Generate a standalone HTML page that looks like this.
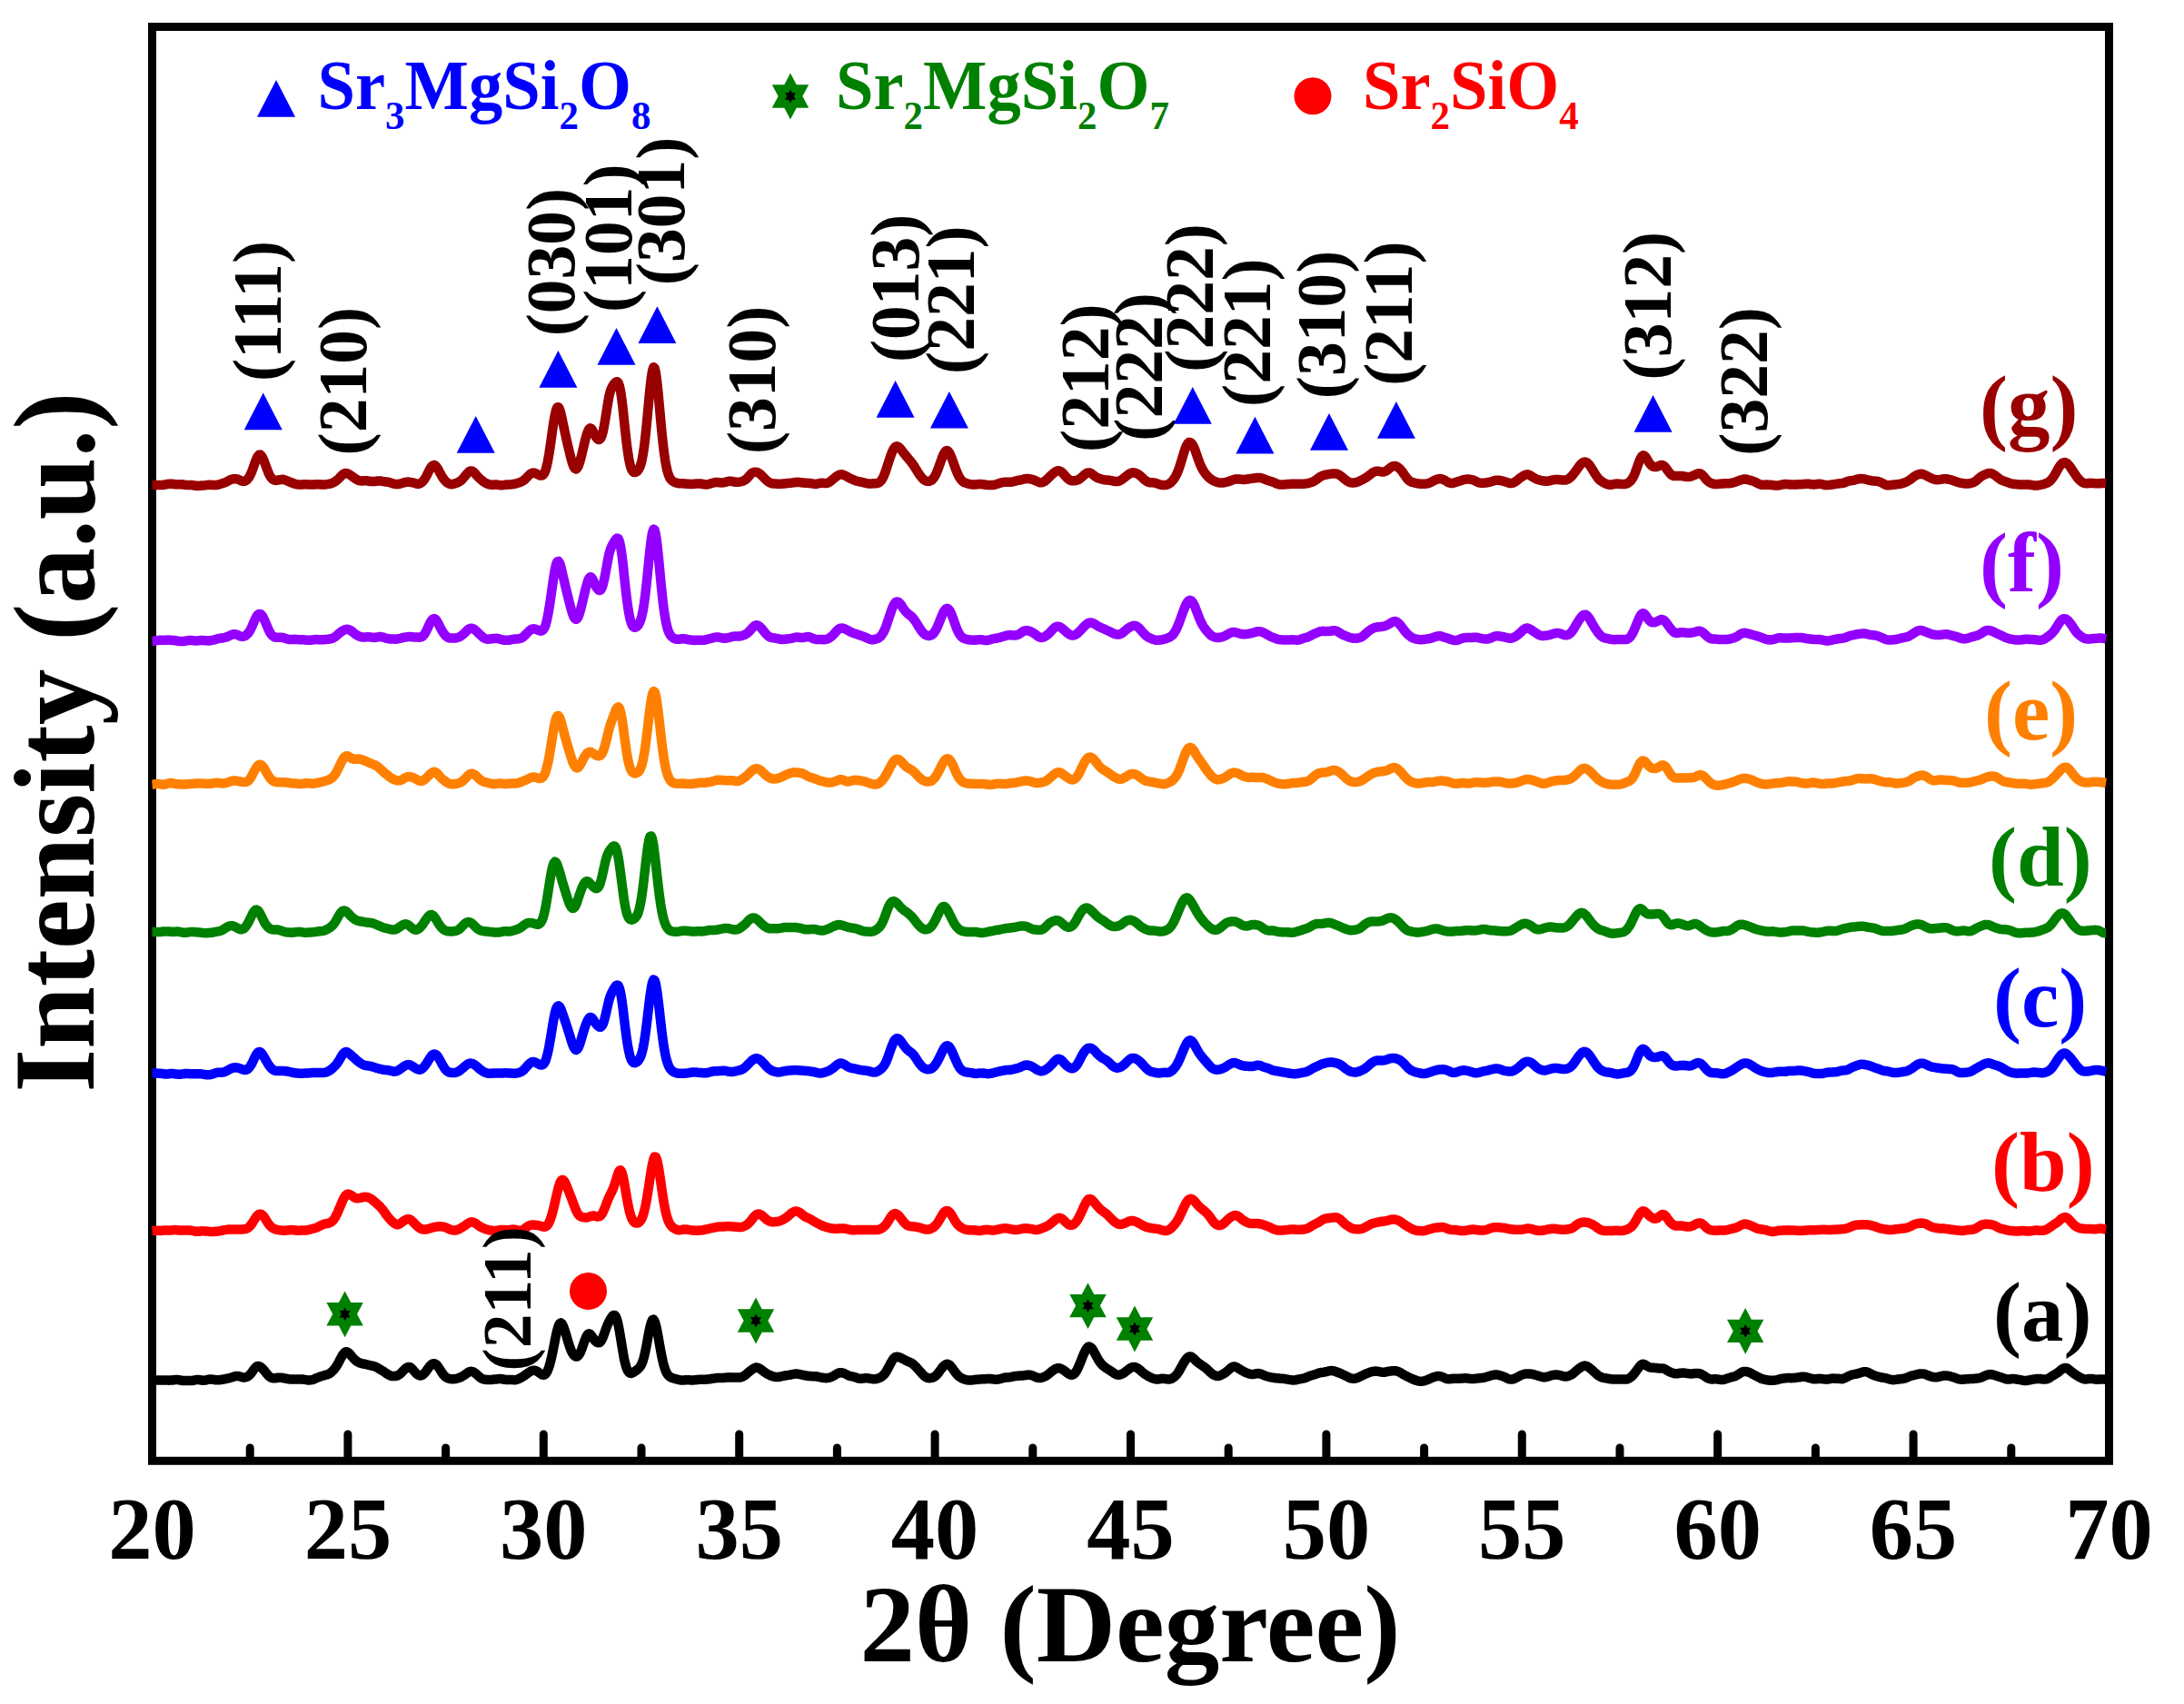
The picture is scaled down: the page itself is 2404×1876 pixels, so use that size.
<!DOCTYPE html><html><head><meta charset="utf-8"><title>XRD patterns</title><style>html,body{margin:0;padding:0;background:#fff}svg{display:block}text{font-family:"Liberation Serif",serif;font-weight:bold}</style></head><body>
<svg width="2404" height="1876" viewBox="0 0 2404 1876">
<rect width="2404" height="1876" fill="#fff"/>
<g stroke="#000" stroke-width="9" stroke-linecap="round"><line x1="275.2" y1="1606" x2="275.2" y2="1594.0"/><line x1="382.9" y1="1606" x2="382.9" y2="1579.0"/><line x1="490.6" y1="1606" x2="490.6" y2="1594.0"/><line x1="598.3" y1="1606" x2="598.3" y2="1579.0"/><line x1="706.0" y1="1606" x2="706.0" y2="1594.0"/><line x1="813.7" y1="1606" x2="813.7" y2="1579.0"/><line x1="921.4" y1="1606" x2="921.4" y2="1594.0"/><line x1="1029.1" y1="1606" x2="1029.1" y2="1579.0"/><line x1="1136.8" y1="1606" x2="1136.8" y2="1594.0"/><line x1="1244.5" y1="1606" x2="1244.5" y2="1579.0"/><line x1="1352.2" y1="1606" x2="1352.2" y2="1594.0"/><line x1="1459.9" y1="1606" x2="1459.9" y2="1579.0"/><line x1="1567.6" y1="1606" x2="1567.6" y2="1594.0"/><line x1="1675.3" y1="1606" x2="1675.3" y2="1579.0"/><line x1="1783.0" y1="1606" x2="1783.0" y2="1594.0"/><line x1="1890.7" y1="1606" x2="1890.7" y2="1579.0"/><line x1="1998.4" y1="1606" x2="1998.4" y2="1594.0"/><line x1="2106.1" y1="1606" x2="2106.1" y2="1579.0"/><line x1="2213.8" y1="1606" x2="2213.8" y2="1594.0"/></g>
<rect x="167.5" y="29.5" width="2154.0" height="1578.8" fill="none" stroke="#000" stroke-width="9"/>
<path d="M167.5,1519.0 L168.8,1519.1 L170.1,1519.2 L171.4,1519.4 L172.7,1519.5 L174.0,1519.6 L175.3,1519.6 L176.5,1519.6 L177.8,1519.5 L179.1,1519.5 L180.4,1519.5 L181.7,1519.5 L183.0,1519.6 L184.3,1519.6 L185.6,1519.7 L186.9,1519.6 L188.2,1519.6 L189.5,1519.5 L190.8,1519.3 L192.1,1519.2 L193.3,1519.1 L194.6,1519.0 L195.9,1519.1 L197.2,1519.3 L198.5,1519.5 L199.8,1519.8 L201.1,1520.0 L202.4,1520.1 L203.7,1520.1 L205.0,1520.1 L206.3,1520.0 L207.6,1520.1 L208.9,1520.1 L210.1,1520.1 L211.4,1520.0 L212.7,1519.8 L214.0,1519.5 L215.3,1519.2 L216.6,1519.0 L217.9,1518.9 L219.2,1519.0 L220.5,1519.3 L221.8,1519.5 L223.1,1519.7 L224.4,1519.7 L225.7,1519.6 L227.0,1519.3 L228.2,1519.0 L229.5,1518.7 L230.8,1518.5 L232.1,1518.5 L233.4,1518.6 L234.7,1518.8 L236.0,1519.0 L237.3,1519.2 L238.6,1519.3 L239.9,1519.3 L241.2,1519.2 L242.5,1519.0 L243.8,1518.9 L245.0,1518.7 L246.3,1518.5 L247.6,1518.2 L248.9,1518.0 L250.2,1517.7 L251.5,1517.4 L252.8,1517.1 L254.1,1516.7 L255.4,1516.3 L256.7,1515.8 L258.0,1515.4 L259.3,1515.0 L260.6,1514.9 L261.8,1515.0 L263.1,1515.2 L264.4,1515.6 L265.7,1516.0 L267.0,1516.4 L268.3,1516.6 L269.6,1516.5 L270.9,1516.2 L272.2,1515.7 L273.5,1514.8 L274.8,1513.7 L276.1,1512.3 L277.4,1510.6 L278.6,1508.8 L279.9,1507.1 L281.2,1505.6 L282.5,1504.5 L283.8,1504.0 L285.1,1504.1 L286.4,1504.6 L287.7,1505.6 L289.0,1506.8 L290.3,1508.3 L291.6,1509.9 L292.9,1511.5 L294.2,1513.0 L295.4,1514.5 L296.7,1515.6 L298.0,1516.5 L299.3,1517.0 L300.6,1517.3 L301.9,1517.3 L303.2,1517.2 L304.5,1517.0 L305.8,1516.8 L307.1,1516.8 L308.4,1516.8 L309.7,1516.8 L311.0,1517.0 L312.2,1517.2 L313.5,1517.5 L314.8,1517.7 L316.1,1518.0 L317.4,1518.2 L318.7,1518.4 L320.0,1518.5 L321.3,1518.5 L322.6,1518.6 L323.9,1518.6 L325.2,1518.6 L326.5,1518.5 L327.8,1518.5 L329.1,1518.4 L330.3,1518.4 L331.6,1518.4 L332.9,1518.5 L334.2,1518.7 L335.5,1518.9 L336.8,1519.1 L338.1,1519.3 L339.4,1519.4 L340.7,1519.4 L342.0,1519.3 L343.3,1519.1 L344.6,1518.8 L345.9,1518.3 L347.1,1517.7 L348.4,1517.1 L349.7,1516.6 L351.0,1516.1 L352.3,1515.6 L353.6,1515.2 L354.9,1514.8 L356.2,1514.4 L357.5,1514.0 L358.8,1513.6 L360.1,1513.3 L361.4,1512.8 L362.7,1512.1 L363.9,1511.3 L365.2,1510.2 L366.5,1509.0 L367.8,1507.6 L369.1,1505.9 L370.4,1504.0 L371.7,1501.8 L373.0,1499.4 L374.3,1496.8 L375.6,1494.4 L376.9,1492.1 L378.2,1490.3 L379.5,1488.9 L380.7,1488.3 L382.0,1488.3 L383.3,1489.0 L384.6,1490.2 L385.9,1491.7 L387.2,1493.2 L388.5,1494.8 L389.8,1496.2 L391.1,1497.4 L392.4,1498.5 L393.7,1499.3 L395.0,1500.0 L396.3,1500.5 L397.5,1501.0 L398.8,1501.3 L400.1,1501.5 L401.4,1501.7 L402.7,1502.0 L404.0,1502.3 L405.3,1502.7 L406.6,1503.1 L407.9,1503.3 L409.2,1503.6 L410.5,1503.8 L411.8,1504.1 L413.1,1504.6 L414.3,1505.2 L415.6,1505.9 L416.9,1506.7 L418.2,1507.5 L419.5,1508.3 L420.8,1509.0 L422.1,1509.8 L423.4,1510.7 L424.7,1511.6 L426.0,1512.5 L427.3,1513.3 L428.6,1514.0 L429.9,1514.5 L431.1,1514.9 L432.4,1515.0 L433.7,1515.1 L435.0,1515.0 L436.3,1514.8 L437.6,1514.4 L438.9,1513.7 L440.2,1512.8 L441.5,1511.6 L442.8,1510.3 L444.1,1508.9 L445.4,1507.6 L446.7,1506.4 L448.0,1505.5 L449.2,1505.0 L450.5,1505.0 L451.8,1505.5 L453.1,1506.5 L454.4,1507.9 L455.7,1509.4 L457.0,1510.9 L458.3,1512.2 L459.6,1513.3 L460.9,1514.0 L462.2,1514.4 L463.5,1514.4 L464.8,1513.9 L466.0,1513.0 L467.3,1511.8 L468.6,1510.2 L469.9,1508.4 L471.2,1506.6 L472.5,1504.8 L473.8,1503.3 L475.1,1502.1 L476.4,1501.4 L477.7,1501.2 L479.0,1501.5 L480.3,1502.4 L481.6,1503.8 L482.8,1505.5 L484.1,1507.5 L485.4,1509.6 L486.7,1511.6 L488.0,1513.4 L489.3,1514.9 L490.6,1516.0 L491.9,1516.9 L493.2,1517.4 L494.5,1517.8 L495.8,1518.1 L497.1,1518.2 L498.4,1518.3 L499.6,1518.2 L500.9,1518.1 L502.2,1517.8 L503.5,1517.5 L504.8,1517.1 L506.1,1516.7 L507.4,1516.1 L508.7,1515.4 L510.0,1514.6 L511.3,1513.8 L512.6,1512.9 L513.9,1511.9 L515.2,1511.0 L516.4,1510.3 L517.7,1509.9 L519.0,1509.8 L520.3,1510.1 L521.6,1510.7 L522.9,1511.6 L524.2,1512.7 L525.5,1513.9 L526.8,1515.1 L528.1,1516.2 L529.4,1517.1 L530.7,1517.8 L532.0,1518.3 L533.2,1518.6 L534.5,1518.8 L535.8,1518.9 L537.1,1518.9 L538.4,1519.0 L539.7,1518.9 L541.0,1518.9 L542.3,1518.8 L543.6,1518.6 L544.9,1518.5 L546.2,1518.4 L547.5,1518.3 L548.8,1518.1 L550.1,1518.1 L551.3,1518.1 L552.6,1518.3 L553.9,1518.5 L555.2,1518.7 L556.5,1518.9 L557.8,1519.0 L559.1,1518.9 L560.4,1518.9 L561.7,1518.9 L563.0,1519.0 L564.3,1519.1 L565.6,1519.2 L566.9,1519.2 L568.1,1519.1 L569.4,1518.7 L570.7,1518.2 L572.0,1517.6 L573.3,1516.9 L574.6,1516.2 L575.9,1515.3 L577.2,1514.5 L578.5,1513.5 L579.8,1512.6 L581.1,1511.6 L582.4,1510.7 L583.7,1509.9 L584.9,1509.3 L586.2,1508.9 L587.5,1508.7 L588.8,1508.8 L590.1,1509.2 L591.4,1509.9 L592.7,1510.8 L594.0,1511.7 L595.3,1512.7 L596.6,1513.4 L597.9,1513.8 L599.2,1513.6 L600.5,1512.7 L601.7,1511.1 L603.0,1508.5 L604.3,1505.0 L605.6,1500.6 L606.9,1495.3 L608.2,1489.3 L609.5,1482.8 L610.8,1476.2 L612.1,1469.8 L613.4,1464.2 L614.7,1459.9 L616.0,1457.2 L617.3,1456.4 L618.5,1457.3 L619.8,1459.7 L621.1,1463.1 L622.4,1467.1 L623.7,1471.5 L625.0,1476.0 L626.3,1480.2 L627.6,1484.0 L628.9,1487.3 L630.2,1489.9 L631.5,1491.8 L632.8,1493.0 L634.1,1493.5 L635.3,1493.4 L636.6,1492.5 L637.9,1490.7 L639.2,1488.1 L640.5,1484.8 L641.8,1481.1 L643.1,1477.3 L644.4,1473.8 L645.7,1470.9 L647.0,1469.0 L648.3,1468.2 L649.6,1468.8 L650.9,1470.2 L652.2,1472.1 L653.4,1474.0 L654.7,1475.7 L656.0,1477.0 L657.3,1477.9 L658.6,1478.3 L659.9,1478.1 L661.2,1476.9 L662.5,1474.9 L663.8,1472.0 L665.1,1468.4 L666.4,1464.7 L667.7,1461.2 L669.0,1458.0 L670.2,1455.3 L671.5,1452.9 L672.8,1450.8 L674.1,1449.0 L675.4,1448.0 L676.7,1448.0 L678.0,1449.7 L679.3,1453.3 L680.6,1458.7 L681.9,1465.6 L683.2,1473.4 L684.5,1481.4 L685.8,1489.1 L687.0,1496.0 L688.3,1501.6 L689.6,1506.0 L690.9,1509.0 L692.2,1510.9 L693.5,1511.8 L694.8,1511.9 L696.1,1511.5 L697.4,1510.8 L698.7,1509.9 L700.0,1509.0 L701.3,1508.0 L702.6,1507.0 L703.8,1505.7 L705.1,1503.9 L706.4,1501.5 L707.7,1498.1 L709.0,1493.6 L710.3,1488.0 L711.6,1481.4 L712.9,1474.3 L714.2,1467.3 L715.5,1461.0 L716.8,1456.1 L718.1,1453.2 L719.4,1452.7 L720.6,1454.7 L721.9,1458.8 L723.2,1464.7 L724.5,1471.6 L725.8,1479.1 L727.1,1486.4 L728.4,1493.2 L729.7,1499.2 L731.0,1504.2 L732.3,1508.2 L733.6,1511.2 L734.9,1513.3 L736.2,1514.8 L737.4,1515.8 L738.7,1516.5 L740.0,1517.0 L741.3,1517.4 L742.6,1517.8 L743.9,1518.1 L745.2,1518.5 L746.5,1518.9 L747.8,1519.2 L749.1,1519.5 L750.4,1519.6 L751.7,1519.5 L753.0,1519.4 L754.2,1519.3 L755.5,1519.2 L756.8,1519.2 L758.1,1519.3 L759.4,1519.3 L760.7,1519.4 L762.0,1519.4 L763.3,1519.4 L764.6,1519.3 L765.9,1519.2 L767.2,1519.0 L768.5,1518.9 L769.8,1518.8 L771.1,1518.8 L772.3,1518.8 L773.6,1518.7 L774.9,1518.7 L776.2,1518.7 L777.5,1518.6 L778.8,1518.5 L780.1,1518.4 L781.4,1518.2 L782.7,1518.0 L784.0,1517.8 L785.3,1517.6 L786.6,1517.4 L787.9,1517.2 L789.1,1517.0 L790.4,1516.9 L791.7,1516.9 L793.0,1516.9 L794.3,1517.0 L795.6,1516.9 L796.9,1516.9 L798.2,1516.7 L799.5,1516.6 L800.8,1516.4 L802.1,1516.4 L803.4,1516.3 L804.7,1516.4 L805.9,1516.4 L807.2,1516.5 L808.5,1516.6 L809.8,1516.6 L811.1,1516.6 L812.4,1516.6 L813.7,1516.5 L815.0,1516.4 L816.3,1516.0 L817.6,1515.5 L818.9,1514.8 L820.2,1514.0 L821.5,1512.9 L822.7,1511.8 L824.0,1510.7 L825.3,1509.6 L826.6,1508.6 L827.9,1507.7 L829.2,1506.8 L830.5,1506.1 L831.8,1505.6 L833.1,1505.5 L834.4,1505.8 L835.7,1506.4 L837.0,1507.2 L838.3,1508.1 L839.5,1509.1 L840.8,1510.1 L842.1,1511.0 L843.4,1511.9 L844.7,1512.6 L846.0,1513.3 L847.3,1514.0 L848.6,1514.5 L849.9,1515.0 L851.2,1515.4 L852.5,1515.8 L853.8,1516.0 L855.1,1516.1 L856.3,1516.0 L857.6,1515.8 L858.9,1515.6 L860.2,1515.3 L861.5,1515.0 L862.8,1514.7 L864.1,1514.5 L865.4,1514.3 L866.7,1514.1 L868.0,1513.9 L869.3,1513.7 L870.6,1513.5 L871.9,1513.2 L873.2,1512.9 L874.4,1512.7 L875.7,1512.6 L877.0,1512.6 L878.3,1512.7 L879.6,1512.9 L880.9,1513.2 L882.2,1513.5 L883.5,1513.8 L884.8,1514.0 L886.1,1514.3 L887.4,1514.5 L888.7,1514.7 L890.0,1514.9 L891.2,1515.0 L892.5,1515.1 L893.8,1515.2 L895.1,1515.2 L896.4,1515.2 L897.7,1515.3 L899.0,1515.5 L900.3,1515.7 L901.6,1516.0 L902.9,1516.3 L904.2,1516.6 L905.5,1516.8 L906.8,1517.0 L908.0,1517.1 L909.3,1517.2 L910.6,1517.1 L911.9,1516.9 L913.2,1516.6 L914.5,1516.2 L915.8,1515.7 L917.1,1515.0 L918.4,1514.2 L919.7,1513.4 L921.0,1512.6 L922.3,1512.0 L923.6,1511.5 L924.8,1511.3 L926.1,1511.2 L927.4,1511.4 L928.7,1511.8 L930.0,1512.3 L931.3,1513.0 L932.6,1513.7 L933.9,1514.3 L935.2,1514.8 L936.5,1515.1 L937.8,1515.4 L939.1,1515.6 L940.4,1515.9 L941.6,1516.3 L942.9,1516.8 L944.2,1517.3 L945.5,1517.6 L946.8,1517.8 L948.1,1517.8 L949.4,1517.6 L950.7,1517.4 L952.0,1517.3 L953.3,1517.2 L954.6,1517.3 L955.9,1517.4 L957.2,1517.7 L958.4,1517.9 L959.7,1518.1 L961.0,1518.3 L962.3,1518.3 L963.6,1518.2 L964.9,1518.0 L966.2,1517.7 L967.5,1517.2 L968.8,1516.6 L970.1,1515.9 L971.4,1514.9 L972.7,1513.7 L974.0,1512.2 L975.3,1510.3 L976.5,1508.2 L977.8,1505.8 L979.1,1503.3 L980.4,1500.8 L981.7,1498.5 L983.0,1496.5 L984.3,1495.0 L985.6,1494.1 L986.9,1493.7 L988.2,1493.8 L989.5,1494.1 L990.8,1494.6 L992.1,1495.2 L993.3,1495.8 L994.6,1496.5 L995.9,1497.2 L997.2,1497.9 L998.5,1498.5 L999.8,1499.1 L1001.1,1499.6 L1002.4,1500.2 L1003.7,1500.9 L1005.0,1501.8 L1006.3,1502.9 L1007.6,1504.2 L1008.9,1505.5 L1010.1,1507.0 L1011.4,1508.4 L1012.7,1509.9 L1014.0,1511.3 L1015.3,1512.8 L1016.6,1514.1 L1017.9,1515.3 L1019.2,1516.2 L1020.5,1516.8 L1021.8,1517.1 L1023.1,1517.2 L1024.4,1517.1 L1025.7,1516.9 L1026.9,1516.5 L1028.2,1515.9 L1029.5,1515.0 L1030.8,1513.9 L1032.1,1512.5 L1033.4,1510.8 L1034.7,1509.0 L1036.0,1507.2 L1037.3,1505.5 L1038.6,1504.0 L1039.9,1502.9 L1041.2,1502.1 L1042.5,1501.8 L1043.7,1502.0 L1045.0,1502.7 L1046.3,1503.9 L1047.6,1505.4 L1048.9,1507.2 L1050.2,1509.0 L1051.5,1510.9 L1052.8,1512.5 L1054.1,1513.9 L1055.4,1515.1 L1056.7,1516.1 L1058.0,1516.9 L1059.3,1517.6 L1060.5,1518.2 L1061.8,1518.7 L1063.1,1519.0 L1064.4,1519.3 L1065.7,1519.4 L1067.0,1519.5 L1068.3,1519.5 L1069.6,1519.4 L1070.9,1519.3 L1072.2,1519.1 L1073.5,1519.0 L1074.8,1518.8 L1076.1,1518.7 L1077.3,1518.6 L1078.6,1518.5 L1079.9,1518.4 L1081.2,1518.3 L1082.5,1518.3 L1083.8,1518.2 L1085.1,1518.2 L1086.4,1518.1 L1087.7,1518.0 L1089.0,1517.9 L1090.3,1518.0 L1091.6,1518.2 L1092.9,1518.4 L1094.2,1518.6 L1095.4,1518.7 L1096.7,1518.7 L1098.0,1518.6 L1099.3,1518.5 L1100.6,1518.2 L1101.9,1517.8 L1103.2,1517.4 L1104.5,1517.0 L1105.8,1516.7 L1107.1,1516.5 L1108.4,1516.4 L1109.7,1516.4 L1111.0,1516.3 L1112.2,1516.1 L1113.5,1515.8 L1114.8,1515.5 L1116.1,1515.3 L1117.4,1515.0 L1118.7,1514.9 L1120.0,1514.8 L1121.3,1514.7 L1122.6,1514.6 L1123.9,1514.5 L1125.2,1514.4 L1126.5,1514.4 L1127.8,1514.2 L1129.0,1514.0 L1130.3,1513.8 L1131.6,1513.7 L1132.9,1513.6 L1134.2,1513.8 L1135.5,1514.1 L1136.8,1514.6 L1138.1,1515.2 L1139.4,1515.8 L1140.7,1516.3 L1142.0,1516.7 L1143.3,1516.9 L1144.6,1517.0 L1145.8,1516.9 L1147.1,1516.6 L1148.4,1516.2 L1149.7,1515.7 L1151.0,1515.0 L1152.3,1514.2 L1153.6,1513.3 L1154.9,1512.2 L1156.2,1511.1 L1157.5,1510.0 L1158.8,1509.0 L1160.1,1508.1 L1161.4,1507.3 L1162.6,1506.7 L1163.9,1506.3 L1165.2,1506.2 L1166.5,1506.3 L1167.8,1506.8 L1169.1,1507.4 L1170.4,1508.2 L1171.7,1509.2 L1173.0,1510.2 L1174.3,1511.2 L1175.6,1512.1 L1176.9,1512.9 L1178.2,1513.5 L1179.4,1513.8 L1180.7,1513.6 L1182.0,1512.9 L1183.3,1511.7 L1184.6,1509.8 L1185.9,1507.5 L1187.2,1504.7 L1188.5,1501.6 L1189.8,1498.4 L1191.1,1495.1 L1192.4,1491.9 L1193.7,1489.0 L1195.0,1486.4 L1196.3,1484.3 L1197.5,1483.0 L1198.8,1482.5 L1200.1,1482.9 L1201.4,1484.0 L1202.7,1485.7 L1204.0,1487.9 L1205.3,1490.3 L1206.6,1492.7 L1207.9,1495.1 L1209.2,1497.3 L1210.5,1499.3 L1211.8,1501.0 L1213.1,1502.5 L1214.3,1503.7 L1215.6,1504.7 L1216.9,1505.7 L1218.2,1506.6 L1219.5,1507.4 L1220.8,1508.2 L1222.1,1509.0 L1223.4,1509.9 L1224.7,1510.8 L1226.0,1511.7 L1227.3,1512.5 L1228.6,1513.2 L1229.9,1513.6 L1231.1,1513.7 L1232.4,1513.6 L1233.7,1513.2 L1235.0,1512.7 L1236.3,1512.0 L1237.6,1511.1 L1238.9,1510.2 L1240.2,1509.2 L1241.5,1508.1 L1242.8,1507.1 L1244.1,1506.2 L1245.4,1505.5 L1246.7,1505.1 L1247.9,1504.9 L1249.2,1505.0 L1250.5,1505.4 L1251.8,1506.1 L1253.1,1507.0 L1254.4,1508.0 L1255.7,1509.1 L1257.0,1510.3 L1258.3,1511.3 L1259.6,1512.3 L1260.9,1513.3 L1262.2,1514.1 L1263.5,1514.9 L1264.7,1515.6 L1266.0,1516.2 L1267.3,1516.8 L1268.6,1517.3 L1269.9,1517.8 L1271.2,1518.1 L1272.5,1518.4 L1273.8,1518.5 L1275.1,1518.4 L1276.4,1518.2 L1277.7,1518.0 L1279.0,1517.8 L1280.3,1517.8 L1281.5,1517.9 L1282.8,1518.0 L1284.1,1518.2 L1285.4,1518.4 L1286.7,1518.5 L1288.0,1518.3 L1289.3,1517.9 L1290.6,1517.3 L1291.9,1516.4 L1293.2,1515.4 L1294.5,1514.1 L1295.8,1512.5 L1297.1,1510.7 L1298.4,1508.6 L1299.6,1506.3 L1300.9,1504.0 L1302.2,1501.7 L1303.5,1499.5 L1304.8,1497.4 L1306.1,1495.7 L1307.4,1494.4 L1308.7,1493.6 L1310.0,1493.4 L1311.3,1493.7 L1312.6,1494.6 L1313.9,1495.7 L1315.2,1496.9 L1316.4,1498.2 L1317.7,1499.4 L1319.0,1500.4 L1320.3,1501.4 L1321.6,1502.3 L1322.9,1503.1 L1324.2,1504.0 L1325.5,1504.9 L1326.8,1505.9 L1328.1,1506.9 L1329.4,1508.1 L1330.7,1509.4 L1332.0,1510.6 L1333.2,1511.7 L1334.5,1512.7 L1335.8,1513.6 L1337.1,1514.2 L1338.4,1514.7 L1339.7,1514.9 L1341.0,1514.9 L1342.3,1514.6 L1343.6,1514.1 L1344.9,1513.5 L1346.2,1512.8 L1347.5,1512.0 L1348.8,1511.2 L1350.0,1510.2 L1351.3,1509.2 L1352.6,1508.0 L1353.9,1506.8 L1355.2,1505.7 L1356.5,1504.9 L1357.8,1504.5 L1359.1,1504.5 L1360.4,1504.9 L1361.7,1505.6 L1363.0,1506.3 L1364.3,1507.2 L1365.6,1508.0 L1366.8,1508.7 L1368.1,1509.5 L1369.4,1510.2 L1370.7,1510.9 L1372.0,1511.4 L1373.3,1511.9 L1374.6,1512.4 L1375.9,1512.7 L1377.2,1512.9 L1378.5,1513.0 L1379.8,1512.9 L1381.1,1512.7 L1382.4,1512.4 L1383.6,1512.2 L1384.9,1512.1 L1386.2,1512.2 L1387.5,1512.5 L1388.8,1513.0 L1390.1,1513.6 L1391.4,1514.2 L1392.7,1514.7 L1394.0,1515.2 L1395.3,1515.5 L1396.6,1515.8 L1397.9,1516.1 L1399.2,1516.4 L1400.4,1516.6 L1401.7,1516.8 L1403.0,1517.0 L1404.3,1517.2 L1405.6,1517.3 L1406.9,1517.5 L1408.2,1517.6 L1409.5,1517.7 L1410.8,1517.7 L1412.1,1517.8 L1413.4,1517.9 L1414.7,1518.1 L1416.0,1518.4 L1417.3,1518.6 L1418.5,1518.9 L1419.8,1519.1 L1421.1,1519.2 L1422.4,1519.4 L1423.7,1519.4 L1425.0,1519.4 L1426.3,1519.2 L1427.6,1519.0 L1428.9,1518.7 L1430.2,1518.4 L1431.5,1518.1 L1432.8,1517.9 L1434.1,1517.6 L1435.3,1517.4 L1436.6,1517.0 L1437.9,1516.5 L1439.2,1515.9 L1440.5,1515.3 L1441.8,1514.8 L1443.1,1514.4 L1444.4,1514.0 L1445.7,1513.7 L1447.0,1513.3 L1448.3,1512.8 L1449.6,1512.3 L1450.9,1511.8 L1452.1,1511.4 L1453.4,1511.2 L1454.7,1511.0 L1456.0,1510.9 L1457.3,1510.7 L1458.6,1510.4 L1459.9,1510.1 L1461.2,1509.8 L1462.5,1509.4 L1463.8,1509.2 L1465.1,1509.1 L1466.4,1509.1 L1467.7,1509.3 L1468.9,1509.6 L1470.2,1510.0 L1471.5,1510.5 L1472.8,1511.0 L1474.1,1511.5 L1475.4,1512.0 L1476.7,1512.6 L1478.0,1513.2 L1479.3,1513.8 L1480.6,1514.4 L1481.9,1515.1 L1483.2,1515.7 L1484.5,1516.4 L1485.7,1517.0 L1487.0,1517.4 L1488.3,1517.7 L1489.6,1517.7 L1490.9,1517.7 L1492.2,1517.5 L1493.5,1517.1 L1494.8,1516.7 L1496.1,1516.1 L1497.4,1515.5 L1498.7,1514.8 L1500.0,1514.2 L1501.3,1513.5 L1502.5,1512.9 L1503.8,1512.3 L1505.1,1511.8 L1506.4,1511.3 L1507.7,1510.8 L1509.0,1510.4 L1510.3,1510.1 L1511.6,1509.8 L1512.9,1509.7 L1514.2,1509.6 L1515.5,1509.7 L1516.8,1509.8 L1518.1,1510.1 L1519.4,1510.4 L1520.6,1510.6 L1521.9,1510.8 L1523.2,1510.8 L1524.5,1510.7 L1525.8,1510.4 L1527.1,1510.1 L1528.4,1509.8 L1529.7,1509.6 L1531.0,1509.4 L1532.3,1509.3 L1533.6,1509.3 L1534.9,1509.3 L1536.2,1509.3 L1537.4,1509.5 L1538.7,1509.9 L1540.0,1510.4 L1541.3,1511.1 L1542.6,1511.8 L1543.9,1512.7 L1545.2,1513.5 L1546.5,1514.2 L1547.8,1514.9 L1549.1,1515.6 L1550.4,1516.2 L1551.7,1516.8 L1553.0,1517.4 L1554.2,1518.0 L1555.5,1518.5 L1556.8,1519.0 L1558.1,1519.5 L1559.4,1520.0 L1560.7,1520.3 L1562.0,1520.6 L1563.3,1520.8 L1564.6,1520.8 L1565.9,1520.6 L1567.2,1520.4 L1568.5,1520.0 L1569.8,1519.6 L1571.0,1519.2 L1572.3,1518.7 L1573.6,1518.1 L1574.9,1517.5 L1576.2,1516.9 L1577.5,1516.3 L1578.8,1515.9 L1580.1,1515.5 L1581.4,1515.2 L1582.7,1515.1 L1584.0,1515.1 L1585.3,1515.2 L1586.6,1515.5 L1587.8,1516.0 L1589.1,1516.6 L1590.4,1517.2 L1591.7,1517.8 L1593.0,1518.1 L1594.3,1518.3 L1595.6,1518.2 L1596.9,1518.1 L1598.2,1518.0 L1599.5,1517.8 L1600.8,1517.7 L1602.1,1517.7 L1603.4,1517.7 L1604.6,1517.7 L1605.9,1517.7 L1607.2,1517.7 L1608.5,1517.6 L1609.8,1517.5 L1611.1,1517.4 L1612.4,1517.3 L1613.7,1517.3 L1615.0,1517.4 L1616.3,1517.6 L1617.6,1517.8 L1618.9,1517.9 L1620.2,1518.0 L1621.5,1518.0 L1622.7,1517.9 L1624.0,1517.8 L1625.3,1517.6 L1626.6,1517.4 L1627.9,1517.3 L1629.2,1517.2 L1630.5,1517.1 L1631.8,1517.0 L1633.1,1516.8 L1634.4,1516.5 L1635.7,1516.1 L1637.0,1515.7 L1638.3,1515.3 L1639.5,1514.9 L1640.8,1514.5 L1642.1,1514.1 L1643.4,1513.8 L1644.7,1513.5 L1646.0,1513.4 L1647.3,1513.4 L1648.6,1513.6 L1649.9,1513.9 L1651.2,1514.3 L1652.5,1514.7 L1653.8,1515.1 L1655.1,1515.6 L1656.3,1516.1 L1657.6,1516.7 L1658.9,1517.4 L1660.2,1518.0 L1661.5,1518.4 L1662.8,1518.6 L1664.1,1518.6 L1665.4,1518.3 L1666.7,1517.9 L1668.0,1517.3 L1669.3,1516.7 L1670.6,1516.0 L1671.9,1515.3 L1673.1,1514.6 L1674.4,1514.0 L1675.7,1513.4 L1677.0,1513.0 L1678.3,1512.7 L1679.6,1512.6 L1680.9,1512.5 L1682.2,1512.5 L1683.5,1512.5 L1684.8,1512.6 L1686.1,1512.8 L1687.4,1513.0 L1688.7,1513.3 L1689.9,1513.7 L1691.2,1514.1 L1692.5,1514.5 L1693.8,1514.9 L1695.1,1515.3 L1696.4,1515.7 L1697.7,1516.0 L1699.0,1516.2 L1700.3,1516.2 L1701.6,1516.0 L1702.9,1515.8 L1704.2,1515.4 L1705.5,1515.0 L1706.7,1514.6 L1708.0,1514.2 L1709.3,1513.9 L1710.6,1513.7 L1711.9,1513.5 L1713.2,1513.5 L1714.5,1513.5 L1715.8,1513.8 L1717.1,1514.1 L1718.4,1514.5 L1719.7,1514.9 L1721.0,1515.2 L1722.3,1515.4 L1723.5,1515.4 L1724.8,1515.3 L1726.1,1515.0 L1727.4,1514.6 L1728.7,1514.0 L1730.0,1513.3 L1731.3,1512.3 L1732.6,1511.3 L1733.9,1510.2 L1735.2,1509.0 L1736.5,1507.9 L1737.8,1506.9 L1739.1,1506.0 L1740.4,1505.1 L1741.6,1504.4 L1742.9,1503.9 L1744.2,1503.6 L1745.5,1503.7 L1746.8,1504.1 L1748.1,1504.9 L1749.4,1505.8 L1750.7,1506.8 L1752.0,1507.9 L1753.3,1509.1 L1754.6,1510.3 L1755.9,1511.5 L1757.2,1512.6 L1758.4,1513.7 L1759.7,1514.6 L1761.0,1515.4 L1762.3,1516.0 L1763.6,1516.5 L1764.9,1516.9 L1766.2,1517.1 L1767.5,1517.3 L1768.8,1517.5 L1770.1,1517.8 L1771.4,1518.0 L1772.7,1518.2 L1774.0,1518.4 L1775.2,1518.6 L1776.5,1518.6 L1777.8,1518.6 L1779.1,1518.6 L1780.4,1518.5 L1781.7,1518.4 L1783.0,1518.4 L1784.3,1518.4 L1785.6,1518.5 L1786.9,1518.5 L1788.2,1518.6 L1789.5,1518.5 L1790.8,1518.4 L1792.0,1518.0 L1793.3,1517.4 L1794.6,1516.6 L1795.9,1515.5 L1797.2,1514.2 L1798.5,1512.7 L1799.8,1511.1 L1801.1,1509.3 L1802.4,1507.5 L1803.7,1505.7 L1805.0,1504.1 L1806.3,1502.8 L1807.6,1502.0 L1808.8,1501.8 L1810.1,1502.1 L1811.4,1502.8 L1812.7,1503.7 L1814.0,1504.5 L1815.3,1505.2 L1816.6,1505.6 L1817.9,1505.7 L1819.2,1505.8 L1820.5,1505.8 L1821.8,1505.9 L1823.1,1506.0 L1824.4,1506.2 L1825.6,1506.4 L1826.9,1506.4 L1828.2,1506.4 L1829.5,1506.4 L1830.8,1506.6 L1832.1,1507.0 L1833.4,1507.7 L1834.7,1508.5 L1836.0,1509.4 L1837.3,1510.1 L1838.6,1510.7 L1839.9,1511.2 L1841.2,1511.6 L1842.5,1512.0 L1843.7,1512.2 L1845.0,1512.2 L1846.3,1512.2 L1847.6,1512.0 L1848.9,1511.8 L1850.2,1511.7 L1851.5,1511.6 L1852.8,1511.6 L1854.1,1511.6 L1855.4,1511.8 L1856.7,1511.9 L1858.0,1512.1 L1859.3,1512.3 L1860.5,1512.4 L1861.8,1512.4 L1863.1,1512.3 L1864.4,1512.2 L1865.7,1512.1 L1867.0,1512.0 L1868.3,1511.9 L1869.6,1512.0 L1870.9,1512.2 L1872.2,1512.6 L1873.5,1513.3 L1874.8,1514.0 L1876.1,1514.9 L1877.3,1515.8 L1878.6,1516.7 L1879.9,1517.4 L1881.2,1517.9 L1882.5,1518.2 L1883.8,1518.4 L1885.1,1518.4 L1886.4,1518.3 L1887.7,1518.2 L1889.0,1518.3 L1890.3,1518.4 L1891.6,1518.6 L1892.9,1518.8 L1894.1,1518.9 L1895.4,1519.0 L1896.7,1518.9 L1898.0,1518.7 L1899.3,1518.3 L1900.6,1517.8 L1901.9,1517.3 L1903.2,1516.9 L1904.5,1516.6 L1905.8,1516.2 L1907.1,1515.9 L1908.4,1515.6 L1909.7,1515.2 L1910.9,1514.6 L1912.2,1513.9 L1913.5,1513.1 L1914.8,1512.2 L1916.1,1511.4 L1917.4,1510.7 L1918.7,1510.2 L1920.0,1509.9 L1921.3,1509.9 L1922.6,1510.1 L1923.9,1510.4 L1925.2,1510.8 L1926.5,1511.4 L1927.7,1512.0 L1929.0,1512.8 L1930.3,1513.5 L1931.6,1514.2 L1932.9,1514.8 L1934.2,1515.5 L1935.5,1516.2 L1936.8,1516.8 L1938.1,1517.5 L1939.4,1518.0 L1940.7,1518.4 L1942.0,1518.7 L1943.3,1519.0 L1944.6,1519.2 L1945.8,1519.4 L1947.1,1519.5 L1948.4,1519.7 L1949.7,1519.8 L1951.0,1519.8 L1952.3,1519.7 L1953.6,1519.6 L1954.9,1519.4 L1956.2,1519.1 L1957.5,1518.7 L1958.8,1518.3 L1960.1,1518.0 L1961.4,1517.8 L1962.6,1517.6 L1963.9,1517.4 L1965.2,1517.3 L1966.5,1517.2 L1967.8,1517.1 L1969.1,1517.1 L1970.4,1517.1 L1971.7,1517.2 L1973.0,1517.1 L1974.3,1517.0 L1975.6,1516.9 L1976.9,1516.7 L1978.2,1516.6 L1979.4,1516.4 L1980.7,1516.2 L1982.0,1516.0 L1983.3,1515.8 L1984.6,1515.7 L1985.9,1515.8 L1987.2,1515.9 L1988.5,1516.2 L1989.8,1516.5 L1991.1,1516.9 L1992.4,1517.3 L1993.7,1517.7 L1995.0,1518.0 L1996.2,1518.2 L1997.5,1518.3 L1998.8,1518.2 L2000.1,1518.0 L2001.4,1517.9 L2002.7,1517.8 L2004.0,1517.9 L2005.3,1518.0 L2006.6,1518.2 L2007.9,1518.4 L2009.2,1518.6 L2010.5,1518.6 L2011.8,1518.5 L2013.0,1518.3 L2014.3,1518.0 L2015.6,1517.8 L2016.9,1517.6 L2018.2,1517.6 L2019.5,1517.7 L2020.8,1517.7 L2022.1,1517.7 L2023.4,1517.8 L2024.7,1518.0 L2026.0,1518.1 L2027.3,1518.2 L2028.6,1518.0 L2029.8,1517.6 L2031.1,1517.0 L2032.4,1516.3 L2033.7,1515.6 L2035.0,1514.9 L2036.3,1514.3 L2037.6,1513.8 L2038.9,1513.4 L2040.2,1513.1 L2041.5,1512.9 L2042.8,1512.7 L2044.1,1512.4 L2045.4,1512.1 L2046.6,1511.7 L2047.9,1511.3 L2049.2,1510.8 L2050.5,1510.4 L2051.8,1510.2 L2053.1,1510.2 L2054.4,1510.3 L2055.7,1510.7 L2057.0,1511.3 L2058.3,1511.9 L2059.6,1512.6 L2060.9,1513.3 L2062.2,1513.9 L2063.5,1514.4 L2064.7,1514.8 L2066.0,1515.2 L2067.3,1515.6 L2068.6,1515.9 L2069.9,1516.3 L2071.2,1516.5 L2072.5,1516.7 L2073.8,1516.9 L2075.1,1517.1 L2076.4,1517.4 L2077.7,1517.8 L2079.0,1518.2 L2080.3,1518.6 L2081.5,1518.9 L2082.8,1519.1 L2084.1,1519.2 L2085.4,1519.1 L2086.7,1518.9 L2088.0,1518.7 L2089.3,1518.5 L2090.6,1518.3 L2091.9,1518.2 L2093.2,1518.0 L2094.5,1517.9 L2095.8,1517.6 L2097.1,1517.3 L2098.3,1516.8 L2099.6,1516.3 L2100.9,1515.8 L2102.2,1515.2 L2103.5,1514.8 L2104.8,1514.4 L2106.1,1514.1 L2107.4,1513.8 L2108.7,1513.5 L2110.0,1513.2 L2111.3,1512.9 L2112.6,1512.6 L2113.9,1512.5 L2115.1,1512.4 L2116.4,1512.4 L2117.7,1512.6 L2119.0,1512.9 L2120.3,1513.4 L2121.6,1514.0 L2122.9,1514.5 L2124.2,1515.0 L2125.5,1515.5 L2126.8,1515.8 L2128.1,1516.1 L2129.4,1516.2 L2130.7,1516.3 L2131.9,1516.2 L2133.2,1516.0 L2134.5,1515.7 L2135.8,1515.4 L2137.1,1515.0 L2138.4,1514.7 L2139.7,1514.5 L2141.0,1514.4 L2142.3,1514.4 L2143.6,1514.6 L2144.9,1514.9 L2146.2,1515.1 L2147.5,1515.5 L2148.7,1515.8 L2150.0,1516.2 L2151.3,1516.6 L2152.6,1517.1 L2153.9,1517.6 L2155.2,1518.1 L2156.5,1518.4 L2157.8,1518.6 L2159.1,1518.7 L2160.4,1518.7 L2161.7,1518.5 L2163.0,1518.4 L2164.3,1518.3 L2165.6,1518.3 L2166.8,1518.2 L2168.1,1518.1 L2169.4,1518.0 L2170.7,1517.9 L2172.0,1517.9 L2173.3,1517.8 L2174.6,1517.7 L2175.9,1517.6 L2177.2,1517.5 L2178.5,1517.2 L2179.8,1516.8 L2181.1,1516.4 L2182.4,1515.8 L2183.6,1515.2 L2184.9,1514.6 L2186.2,1514.1 L2187.5,1513.6 L2188.8,1513.3 L2190.1,1513.2 L2191.4,1513.1 L2192.7,1513.3 L2194.0,1513.6 L2195.3,1514.0 L2196.6,1514.4 L2197.9,1514.8 L2199.2,1515.3 L2200.4,1515.7 L2201.7,1516.1 L2203.0,1516.5 L2204.3,1516.9 L2205.6,1517.4 L2206.9,1517.8 L2208.2,1518.3 L2209.5,1518.5 L2210.8,1518.6 L2212.1,1518.5 L2213.4,1518.3 L2214.7,1518.1 L2216.0,1518.0 L2217.2,1518.1 L2218.5,1518.3 L2219.8,1518.5 L2221.1,1518.7 L2222.4,1518.9 L2223.7,1519.1 L2225.0,1519.4 L2226.3,1519.7 L2227.6,1519.9 L2228.9,1520.0 L2230.2,1520.0 L2231.5,1519.8 L2232.8,1519.6 L2234.0,1519.3 L2235.3,1519.1 L2236.6,1518.8 L2237.9,1518.6 L2239.2,1518.4 L2240.5,1518.2 L2241.8,1518.0 L2243.1,1517.9 L2244.4,1517.9 L2245.7,1518.0 L2247.0,1518.2 L2248.3,1518.4 L2249.6,1518.5 L2250.8,1518.6 L2252.1,1518.5 L2253.4,1518.2 L2254.7,1517.6 L2256.0,1516.9 L2257.3,1516.0 L2258.6,1515.1 L2259.9,1514.3 L2261.2,1513.6 L2262.5,1512.8 L2263.8,1512.0 L2265.1,1511.1 L2266.4,1510.1 L2267.7,1509.0 L2268.9,1507.9 L2270.2,1507.0 L2271.5,1506.3 L2272.8,1506.0 L2274.1,1506.0 L2275.4,1506.5 L2276.7,1507.3 L2278.0,1508.3 L2279.3,1509.4 L2280.6,1510.5 L2281.9,1511.5 L2283.2,1512.5 L2284.5,1513.3 L2285.7,1514.2 L2287.0,1514.9 L2288.3,1515.7 L2289.6,1516.5 L2290.9,1517.1 L2292.2,1517.7 L2293.5,1518.1 L2294.8,1518.4 L2296.1,1518.4 L2297.4,1518.3 L2298.7,1518.1 L2300.0,1518.0 L2301.3,1517.9 L2302.5,1517.9 L2303.8,1518.1 L2305.1,1518.4 L2306.4,1518.6 L2307.7,1518.7 L2309.0,1518.7 L2310.3,1518.6 L2311.6,1518.5 L2312.9,1518.4 L2314.2,1518.5 L2315.5,1518.5 L2316.8,1518.6 L2318.1,1518.7" fill="none" stroke="#000000" stroke-width="10.5" stroke-linejoin="round" stroke-linecap="butt"/>
<path d="M167.5,1355.2 L168.8,1355.1 L170.1,1355.0 L171.4,1354.9 L172.7,1354.8 L174.0,1354.8 L175.3,1354.8 L176.5,1354.9 L177.8,1354.8 L179.1,1354.8 L180.4,1354.6 L181.7,1354.5 L183.0,1354.4 L184.3,1354.4 L185.6,1354.4 L186.9,1354.5 L188.2,1354.4 L189.5,1354.3 L190.8,1354.2 L192.1,1354.1 L193.3,1354.1 L194.6,1354.2 L195.9,1354.4 L197.2,1354.5 L198.5,1354.6 L199.8,1354.6 L201.1,1354.5 L202.4,1354.4 L203.7,1354.4 L205.0,1354.4 L206.3,1354.4 L207.6,1354.5 L208.9,1354.6 L210.1,1354.7 L211.4,1354.9 L212.7,1355.1 L214.0,1355.4 L215.3,1355.7 L216.6,1355.8 L217.9,1355.8 L219.2,1355.7 L220.5,1355.5 L221.8,1355.3 L223.1,1355.3 L224.4,1355.3 L225.7,1355.4 L227.0,1355.5 L228.2,1355.6 L229.5,1355.7 L230.8,1355.9 L232.1,1355.9 L233.4,1356.0 L234.7,1355.9 L236.0,1355.9 L237.3,1355.8 L238.6,1355.7 L239.9,1355.6 L241.2,1355.4 L242.5,1355.1 L243.8,1354.8 L245.0,1354.5 L246.3,1354.3 L247.6,1354.1 L248.9,1353.9 L250.2,1353.7 L251.5,1353.6 L252.8,1353.5 L254.1,1353.5 L255.4,1353.4 L256.7,1353.4 L258.0,1353.4 L259.3,1353.5 L260.6,1353.5 L261.8,1353.6 L263.1,1353.6 L264.4,1353.5 L265.7,1353.5 L267.0,1353.4 L268.3,1353.3 L269.6,1353.1 L270.9,1352.8 L272.2,1352.2 L273.5,1351.4 L274.8,1350.2 L276.1,1348.7 L277.4,1347.0 L278.6,1345.0 L279.9,1343.0 L281.2,1340.9 L282.5,1339.1 L283.8,1337.7 L285.1,1336.8 L286.4,1336.5 L287.7,1336.8 L289.0,1337.8 L290.3,1339.2 L291.6,1341.1 L292.9,1343.2 L294.2,1345.3 L295.4,1347.2 L296.7,1348.9 L298.0,1350.3 L299.3,1351.4 L300.6,1352.2 L301.9,1352.9 L303.2,1353.4 L304.5,1353.7 L305.8,1354.0 L307.1,1354.2 L308.4,1354.4 L309.7,1354.6 L311.0,1354.7 L312.2,1354.7 L313.5,1354.7 L314.8,1354.6 L316.1,1354.4 L317.4,1354.3 L318.7,1354.2 L320.0,1354.1 L321.3,1354.1 L322.6,1354.2 L323.9,1354.3 L325.2,1354.5 L326.5,1354.7 L327.8,1354.8 L329.1,1354.8 L330.3,1354.7 L331.6,1354.6 L332.9,1354.6 L334.2,1354.5 L335.5,1354.5 L336.8,1354.5 L338.1,1354.3 L339.4,1354.1 L340.7,1353.7 L342.0,1353.3 L343.3,1353.0 L344.6,1352.6 L345.9,1352.3 L347.1,1351.9 L348.4,1351.5 L349.7,1350.9 L351.0,1350.3 L352.3,1349.6 L353.6,1348.9 L354.9,1348.3 L356.2,1347.8 L357.5,1347.4 L358.8,1347.2 L360.1,1347.0 L361.4,1346.8 L362.7,1346.4 L363.9,1345.8 L365.2,1344.9 L366.5,1343.7 L367.8,1342.1 L369.1,1340.0 L370.4,1337.5 L371.7,1334.7 L373.0,1331.7 L374.3,1328.6 L375.6,1325.5 L376.9,1322.4 L378.2,1319.6 L379.5,1317.3 L380.7,1315.7 L382.0,1314.8 L383.3,1314.5 L384.6,1314.8 L385.9,1315.5 L387.2,1316.4 L388.5,1317.3 L389.8,1318.1 L391.1,1318.8 L392.4,1319.1 L393.7,1319.3 L395.0,1319.1 L396.3,1318.9 L397.5,1318.6 L398.8,1318.2 L400.1,1318.0 L401.4,1317.8 L402.7,1317.8 L404.0,1317.9 L405.3,1318.3 L406.6,1318.8 L407.9,1319.5 L409.2,1320.4 L410.5,1321.5 L411.8,1322.6 L413.1,1323.7 L414.3,1324.8 L415.6,1325.9 L416.9,1327.0 L418.2,1328.3 L419.5,1329.7 L420.8,1331.3 L422.1,1333.0 L423.4,1334.8 L424.7,1336.7 L426.0,1338.4 L427.3,1340.1 L428.6,1341.6 L429.9,1343.0 L431.1,1344.3 L432.4,1345.5 L433.7,1346.6 L435.0,1347.4 L436.3,1348.0 L437.6,1348.2 L438.9,1348.0 L440.2,1347.3 L441.5,1346.4 L442.8,1345.4 L444.1,1344.4 L445.4,1343.5 L446.7,1342.8 L448.0,1342.3 L449.2,1342.1 L450.5,1342.2 L451.8,1342.9 L453.1,1343.8 L454.4,1345.0 L455.7,1346.4 L457.0,1347.7 L458.3,1349.0 L459.6,1350.2 L460.9,1351.3 L462.2,1352.2 L463.5,1352.9 L464.8,1353.4 L466.0,1353.6 L467.3,1353.6 L468.6,1353.5 L469.9,1353.3 L471.2,1353.0 L472.5,1352.6 L473.8,1352.2 L475.1,1351.8 L476.4,1351.4 L477.7,1351.1 L479.0,1350.8 L480.3,1350.5 L481.6,1350.4 L482.8,1350.3 L484.1,1350.2 L485.4,1350.3 L486.7,1350.4 L488.0,1350.6 L489.3,1350.9 L490.6,1351.4 L491.9,1351.9 L493.2,1352.6 L494.5,1353.1 L495.8,1353.7 L497.1,1354.1 L498.4,1354.4 L499.6,1354.6 L500.9,1354.5 L502.2,1354.3 L503.5,1353.8 L504.8,1353.3 L506.1,1352.7 L507.4,1352.0 L508.7,1351.2 L510.0,1350.4 L511.3,1349.6 L512.6,1348.7 L513.9,1347.7 L515.2,1346.9 L516.4,1346.1 L517.7,1345.6 L519.0,1345.3 L520.3,1345.4 L521.6,1345.8 L522.9,1346.5 L524.2,1347.3 L525.5,1348.3 L526.8,1349.3 L528.1,1350.2 L529.4,1351.0 L530.7,1351.6 L532.0,1352.2 L533.2,1352.7 L534.5,1353.2 L535.8,1353.6 L537.1,1354.0 L538.4,1354.3 L539.7,1354.5 L541.0,1354.6 L542.3,1354.8 L543.6,1354.9 L544.9,1354.9 L546.2,1354.8 L547.5,1354.7 L548.8,1354.4 L550.1,1354.2 L551.3,1354.0 L552.6,1354.0 L553.9,1354.0 L555.2,1354.1 L556.5,1354.2 L557.8,1354.3 L559.1,1354.2 L560.4,1354.1 L561.7,1353.9 L563.0,1353.7 L564.3,1353.6 L565.6,1353.6 L566.9,1353.8 L568.1,1354.0 L569.4,1354.4 L570.7,1354.7 L572.0,1354.9 L573.3,1354.8 L574.6,1354.5 L575.9,1353.8 L577.2,1353.0 L578.5,1352.0 L579.8,1351.0 L581.1,1350.1 L582.4,1349.3 L583.7,1348.8 L584.9,1348.5 L586.2,1348.5 L587.5,1348.5 L588.8,1348.7 L590.1,1348.8 L591.4,1348.9 L592.7,1349.1 L594.0,1349.4 L595.3,1349.8 L596.6,1350.2 L597.9,1350.6 L599.2,1350.7 L600.5,1350.5 L601.7,1349.7 L603.0,1348.3 L604.3,1346.1 L605.6,1343.1 L606.9,1339.3 L608.2,1334.7 L609.5,1329.6 L610.8,1324.0 L612.1,1318.2 L613.4,1312.6 L614.7,1307.4 L616.0,1303.2 L617.3,1300.3 L618.5,1298.9 L619.8,1299.0 L621.1,1300.4 L622.4,1302.7 L623.7,1305.7 L625.0,1308.9 L626.3,1312.2 L627.6,1315.6 L628.9,1318.9 L630.2,1322.4 L631.5,1326.0 L632.8,1329.4 L634.1,1332.5 L635.3,1335.1 L636.6,1337.0 L637.9,1338.4 L639.2,1339.3 L640.5,1339.8 L641.8,1340.1 L643.1,1340.3 L644.4,1340.4 L645.7,1340.4 L647.0,1340.1 L648.3,1339.7 L649.6,1339.2 L650.9,1338.8 L652.2,1338.5 L653.4,1338.5 L654.7,1338.7 L656.0,1339.1 L657.3,1339.4 L658.6,1339.5 L659.9,1339.2 L661.2,1338.3 L662.5,1336.6 L663.8,1334.3 L665.1,1331.4 L666.4,1328.1 L667.7,1324.7 L669.0,1321.3 L670.2,1318.3 L671.5,1315.6 L672.8,1313.1 L674.1,1310.4 L675.4,1307.3 L676.7,1303.6 L678.0,1299.3 L679.3,1294.9 L680.6,1291.1 L681.9,1288.7 L683.2,1288.4 L684.5,1290.6 L685.8,1295.2 L687.0,1301.5 L688.3,1309.0 L689.6,1316.7 L690.9,1324.1 L692.2,1330.6 L693.5,1335.9 L694.8,1340.0 L696.1,1342.9 L697.4,1344.9 L698.7,1346.1 L700.0,1346.6 L701.3,1346.6 L702.6,1346.3 L703.8,1345.4 L705.1,1343.9 L706.4,1341.7 L707.7,1338.5 L709.0,1334.1 L710.3,1328.6 L711.6,1322.0 L712.9,1314.2 L714.2,1305.8 L715.5,1297.0 L716.8,1288.7 L718.1,1281.4 L719.4,1276.1 L720.6,1273.5 L721.9,1273.8 L723.2,1277.2 L724.5,1283.1 L725.8,1290.9 L727.1,1299.7 L728.4,1308.8 L729.7,1317.6 L731.0,1325.5 L732.3,1332.2 L733.6,1337.8 L734.9,1342.1 L736.2,1345.3 L737.4,1347.7 L738.7,1349.5 L740.0,1350.8 L741.3,1351.8 L742.6,1352.6 L743.9,1353.3 L745.2,1353.9 L746.5,1354.2 L747.8,1354.3 L749.1,1354.1 L750.4,1353.9 L751.7,1353.6 L753.0,1353.5 L754.2,1353.4 L755.5,1353.5 L756.8,1353.7 L758.1,1353.9 L759.4,1354.1 L760.7,1354.3 L762.0,1354.4 L763.3,1354.6 L764.6,1354.7 L765.9,1354.7 L767.2,1354.7 L768.5,1354.7 L769.8,1354.6 L771.1,1354.5 L772.3,1354.4 L773.6,1354.2 L774.9,1354.0 L776.2,1353.7 L777.5,1353.4 L778.8,1353.1 L780.1,1352.8 L781.4,1352.5 L782.7,1352.2 L784.0,1351.9 L785.3,1351.7 L786.6,1351.4 L787.9,1351.2 L789.1,1350.9 L790.4,1350.7 L791.7,1350.6 L793.0,1350.5 L794.3,1350.5 L795.6,1350.5 L796.9,1350.4 L798.2,1350.3 L799.5,1350.2 L800.8,1350.1 L802.1,1350.1 L803.4,1350.2 L804.7,1350.3 L805.9,1350.4 L807.2,1350.5 L808.5,1350.6 L809.8,1350.7 L811.1,1350.8 L812.4,1351.0 L813.7,1351.1 L815.0,1351.0 L816.3,1350.9 L817.6,1350.6 L818.9,1350.1 L820.2,1349.5 L821.5,1348.8 L822.7,1347.9 L824.0,1346.8 L825.3,1345.5 L826.6,1343.9 L827.9,1342.2 L829.2,1340.5 L830.5,1339.0 L831.8,1337.8 L833.1,1337.0 L834.4,1336.6 L835.7,1336.6 L837.0,1337.1 L838.3,1337.8 L839.5,1338.8 L840.8,1340.0 L842.1,1341.2 L843.4,1342.4 L844.7,1343.3 L846.0,1344.1 L847.3,1344.6 L848.6,1345.0 L849.9,1345.2 L851.2,1345.3 L852.5,1345.2 L853.8,1345.1 L855.1,1345.0 L856.3,1344.8 L857.6,1344.5 L858.9,1344.1 L860.2,1343.5 L861.5,1342.9 L862.8,1342.2 L864.1,1341.4 L865.4,1340.5 L866.7,1339.5 L868.0,1338.5 L869.3,1337.3 L870.6,1336.2 L871.9,1335.2 L873.2,1334.4 L874.4,1333.9 L875.7,1333.6 L877.0,1333.6 L878.3,1333.9 L879.6,1334.5 L880.9,1335.3 L882.2,1336.3 L883.5,1337.4 L884.8,1338.5 L886.1,1339.4 L887.4,1340.1 L888.7,1340.7 L890.0,1341.2 L891.2,1341.8 L892.5,1342.5 L893.8,1343.3 L895.1,1344.1 L896.4,1344.9 L897.7,1345.6 L899.0,1346.4 L900.3,1347.0 L901.6,1347.7 L902.9,1348.4 L904.2,1349.0 L905.5,1349.5 L906.8,1350.0 L908.0,1350.5 L909.3,1350.9 L910.6,1351.3 L911.9,1351.7 L913.2,1352.0 L914.5,1352.3 L915.8,1352.4 L917.1,1352.6 L918.4,1352.7 L919.7,1352.8 L921.0,1352.8 L922.3,1352.7 L923.6,1352.6 L924.8,1352.4 L926.1,1352.4 L927.4,1352.4 L928.7,1352.5 L930.0,1352.6 L931.3,1352.9 L932.6,1353.2 L933.9,1353.5 L935.2,1353.8 L936.5,1354.0 L937.8,1354.2 L939.1,1354.2 L940.4,1354.2 L941.6,1354.2 L942.9,1354.1 L944.2,1354.0 L945.5,1354.0 L946.8,1354.1 L948.1,1354.1 L949.4,1354.1 L950.7,1354.1 L952.0,1354.1 L953.3,1354.1 L954.6,1354.0 L955.9,1354.0 L957.2,1354.0 L958.4,1354.0 L959.7,1354.0 L961.0,1354.0 L962.3,1354.0 L963.6,1354.0 L964.9,1354.0 L966.2,1353.9 L967.5,1353.7 L968.8,1353.2 L970.1,1352.6 L971.4,1351.8 L972.7,1350.7 L974.0,1349.5 L975.3,1348.1 L976.5,1346.3 L977.8,1344.3 L979.1,1342.2 L980.4,1340.1 L981.7,1338.3 L983.0,1337.0 L984.3,1336.2 L985.6,1336.1 L986.9,1336.6 L988.2,1337.5 L989.5,1338.7 L990.8,1340.2 L992.1,1341.9 L993.3,1343.5 L994.6,1345.2 L995.9,1346.6 L997.2,1347.9 L998.5,1348.9 L999.8,1349.5 L1001.1,1349.9 L1002.4,1350.1 L1003.7,1350.2 L1005.0,1350.3 L1006.3,1350.4 L1007.6,1350.6 L1008.9,1350.8 L1010.1,1351.1 L1011.4,1351.4 L1012.7,1351.7 L1014.0,1352.1 L1015.3,1352.5 L1016.6,1352.9 L1017.9,1353.3 L1019.2,1353.6 L1020.5,1353.6 L1021.8,1353.5 L1023.1,1353.3 L1024.4,1352.8 L1025.7,1352.2 L1026.9,1351.5 L1028.2,1350.5 L1029.5,1349.4 L1030.8,1348.0 L1032.1,1346.2 L1033.4,1344.2 L1034.7,1342.0 L1036.0,1339.6 L1037.3,1337.4 L1038.6,1335.4 L1039.9,1333.9 L1041.2,1333.1 L1042.5,1332.9 L1043.7,1333.4 L1045.0,1334.5 L1046.3,1336.0 L1047.6,1337.9 L1048.9,1340.1 L1050.2,1342.3 L1051.5,1344.5 L1052.8,1346.5 L1054.1,1348.1 L1055.4,1349.5 L1056.7,1350.5 L1058.0,1351.4 L1059.3,1352.1 L1060.5,1352.7 L1061.8,1353.3 L1063.1,1353.7 L1064.4,1354.0 L1065.7,1354.1 L1067.0,1354.2 L1068.3,1354.2 L1069.6,1354.2 L1070.9,1354.2 L1072.2,1354.3 L1073.5,1354.5 L1074.8,1354.6 L1076.1,1354.8 L1077.3,1354.9 L1078.6,1354.9 L1079.9,1354.8 L1081.2,1354.5 L1082.5,1354.2 L1083.8,1354.0 L1085.1,1353.9 L1086.4,1353.8 L1087.7,1353.9 L1089.0,1354.1 L1090.3,1354.3 L1091.6,1354.4 L1092.9,1354.4 L1094.2,1354.4 L1095.4,1354.2 L1096.7,1353.9 L1098.0,1353.7 L1099.3,1353.4 L1100.6,1353.1 L1101.9,1352.8 L1103.2,1352.6 L1104.5,1352.4 L1105.8,1352.2 L1107.1,1352.3 L1108.4,1352.4 L1109.7,1352.6 L1111.0,1352.9 L1112.2,1353.2 L1113.5,1353.4 L1114.8,1353.7 L1116.1,1353.8 L1117.4,1353.9 L1118.7,1353.9 L1120.0,1353.8 L1121.3,1353.6 L1122.6,1353.3 L1123.9,1353.0 L1125.2,1352.7 L1126.5,1352.5 L1127.8,1352.4 L1129.0,1352.3 L1130.3,1352.4 L1131.6,1352.5 L1132.9,1352.7 L1134.2,1352.9 L1135.5,1353.1 L1136.8,1353.4 L1138.1,1353.7 L1139.4,1353.9 L1140.7,1353.9 L1142.0,1353.8 L1143.3,1353.6 L1144.6,1353.1 L1145.8,1352.6 L1147.1,1352.2 L1148.4,1351.7 L1149.7,1351.2 L1151.0,1350.7 L1152.3,1350.0 L1153.6,1349.3 L1154.9,1348.4 L1156.2,1347.4 L1157.5,1346.4 L1158.8,1345.3 L1160.1,1344.2 L1161.4,1343.1 L1162.6,1342.1 L1163.9,1341.4 L1165.2,1340.9 L1166.5,1340.8 L1167.8,1341.2 L1169.1,1341.9 L1170.4,1342.9 L1171.7,1344.2 L1173.0,1345.5 L1174.3,1346.7 L1175.6,1347.7 L1176.9,1348.5 L1178.2,1348.8 L1179.4,1348.8 L1180.7,1348.5 L1182.0,1347.7 L1183.3,1346.6 L1184.6,1345.1 L1185.9,1343.2 L1187.2,1341.0 L1188.5,1338.5 L1189.8,1335.8 L1191.1,1332.9 L1192.4,1330.0 L1193.7,1327.2 L1195.0,1324.6 L1196.3,1322.4 L1197.5,1320.8 L1198.8,1320.0 L1200.1,1320.0 L1201.4,1320.6 L1202.7,1321.8 L1204.0,1323.2 L1205.3,1324.7 L1206.6,1326.3 L1207.9,1327.8 L1209.2,1329.2 L1210.5,1330.6 L1211.8,1331.8 L1213.1,1332.8 L1214.3,1333.8 L1215.6,1334.7 L1216.9,1335.6 L1218.2,1336.7 L1219.5,1337.9 L1220.8,1339.2 L1222.1,1340.6 L1223.4,1341.9 L1224.7,1343.2 L1226.0,1344.4 L1227.3,1345.5 L1228.6,1346.4 L1229.9,1347.1 L1231.1,1347.6 L1232.4,1347.9 L1233.7,1347.9 L1235.0,1347.7 L1236.3,1347.3 L1237.6,1346.9 L1238.9,1346.4 L1240.2,1345.8 L1241.5,1345.2 L1242.8,1344.6 L1244.1,1344.2 L1245.4,1344.0 L1246.7,1344.0 L1247.9,1344.2 L1249.2,1344.6 L1250.5,1345.1 L1251.8,1345.7 L1253.1,1346.4 L1254.4,1347.1 L1255.7,1347.9 L1257.0,1348.6 L1258.3,1349.3 L1259.6,1349.9 L1260.9,1350.5 L1262.2,1351.0 L1263.5,1351.3 L1264.7,1351.6 L1266.0,1351.8 L1267.3,1352.1 L1268.6,1352.3 L1269.9,1352.4 L1271.2,1352.6 L1272.5,1352.8 L1273.8,1352.9 L1275.1,1353.2 L1276.4,1353.5 L1277.7,1353.9 L1279.0,1354.3 L1280.3,1354.6 L1281.5,1354.9 L1282.8,1355.0 L1284.1,1354.9 L1285.4,1354.5 L1286.7,1353.9 L1288.0,1353.0 L1289.3,1352.0 L1290.6,1350.7 L1291.9,1349.3 L1293.2,1347.8 L1294.5,1346.0 L1295.8,1344.1 L1297.1,1341.9 L1298.4,1339.5 L1299.6,1336.9 L1300.9,1334.0 L1302.2,1331.2 L1303.5,1328.3 L1304.8,1325.8 L1306.1,1323.5 L1307.4,1321.7 L1308.7,1320.5 L1310.0,1319.9 L1311.3,1319.8 L1312.6,1320.4 L1313.9,1321.4 L1315.2,1322.7 L1316.4,1324.3 L1317.7,1325.9 L1319.0,1327.4 L1320.3,1328.7 L1321.6,1329.9 L1322.9,1330.9 L1324.2,1332.0 L1325.5,1333.0 L1326.8,1334.1 L1328.1,1335.4 L1329.4,1336.8 L1330.7,1338.3 L1332.0,1340.0 L1333.2,1341.8 L1334.5,1343.6 L1335.8,1345.2 L1337.1,1346.7 L1338.4,1347.8 L1339.7,1348.6 L1341.0,1349.0 L1342.3,1349.1 L1343.6,1348.8 L1344.9,1348.3 L1346.2,1347.5 L1347.5,1346.5 L1348.8,1345.3 L1350.0,1344.1 L1351.3,1342.9 L1352.6,1341.7 L1353.9,1340.7 L1355.2,1339.7 L1356.5,1339.0 L1357.8,1338.4 L1359.1,1338.1 L1360.4,1338.0 L1361.7,1338.3 L1363.0,1339.0 L1364.3,1340.0 L1365.6,1341.1 L1366.8,1342.2 L1368.1,1343.2 L1369.4,1344.0 L1370.7,1344.8 L1372.0,1345.5 L1373.3,1346.1 L1374.6,1346.6 L1375.9,1346.9 L1377.2,1347.1 L1378.5,1347.1 L1379.8,1347.1 L1381.1,1347.0 L1382.4,1346.9 L1383.6,1347.0 L1384.9,1347.1 L1386.2,1347.3 L1387.5,1347.5 L1388.8,1347.8 L1390.1,1348.2 L1391.4,1348.6 L1392.7,1349.1 L1394.0,1349.6 L1395.3,1350.1 L1396.6,1350.6 L1397.9,1351.2 L1399.2,1351.9 L1400.4,1352.5 L1401.7,1353.1 L1403.0,1353.6 L1404.3,1354.0 L1405.6,1354.3 L1406.9,1354.4 L1408.2,1354.5 L1409.5,1354.5 L1410.8,1354.5 L1412.1,1354.4 L1413.4,1354.3 L1414.7,1354.2 L1416.0,1354.1 L1417.3,1353.9 L1418.5,1353.8 L1419.8,1353.6 L1421.1,1353.6 L1422.4,1353.6 L1423.7,1353.6 L1425.0,1353.6 L1426.3,1353.7 L1427.6,1353.7 L1428.9,1353.8 L1430.2,1353.8 L1431.5,1353.8 L1432.8,1353.7 L1434.1,1353.6 L1435.3,1353.5 L1436.6,1353.2 L1437.9,1352.9 L1439.2,1352.4 L1440.5,1351.8 L1441.8,1351.0 L1443.1,1350.2 L1444.4,1349.3 L1445.7,1348.6 L1447.0,1347.9 L1448.3,1347.3 L1449.6,1346.7 L1450.9,1346.1 L1452.1,1345.3 L1453.4,1344.4 L1454.7,1343.6 L1456.0,1342.8 L1457.3,1342.2 L1458.6,1341.7 L1459.9,1341.4 L1461.2,1341.2 L1462.5,1341.0 L1463.8,1340.9 L1465.1,1340.7 L1466.4,1340.6 L1467.7,1340.4 L1468.9,1340.3 L1470.2,1340.3 L1471.5,1340.5 L1472.8,1341.0 L1474.1,1341.7 L1475.4,1342.7 L1476.7,1343.9 L1478.0,1345.2 L1479.3,1346.4 L1480.6,1347.6 L1481.9,1348.6 L1483.2,1349.4 L1484.5,1350.3 L1485.7,1351.1 L1487.0,1351.8 L1488.3,1352.4 L1489.6,1352.8 L1490.9,1353.1 L1492.2,1353.2 L1493.5,1353.3 L1494.8,1353.3 L1496.1,1353.3 L1497.4,1353.1 L1498.7,1352.8 L1500.0,1352.4 L1501.3,1351.9 L1502.5,1351.3 L1503.8,1350.6 L1505.1,1349.9 L1506.4,1349.1 L1507.7,1348.4 L1509.0,1347.7 L1510.3,1347.2 L1511.6,1346.8 L1512.9,1346.5 L1514.2,1346.2 L1515.5,1345.8 L1516.8,1345.5 L1518.1,1345.2 L1519.4,1345.0 L1520.6,1344.8 L1521.9,1344.7 L1523.2,1344.6 L1524.5,1344.4 L1525.8,1344.1 L1527.1,1343.8 L1528.4,1343.4 L1529.7,1343.0 L1531.0,1342.7 L1532.3,1342.5 L1533.6,1342.4 L1534.9,1342.5 L1536.2,1342.7 L1537.4,1343.1 L1538.7,1343.5 L1540.0,1344.1 L1541.3,1344.8 L1542.6,1345.7 L1543.9,1346.7 L1545.2,1347.6 L1546.5,1348.5 L1547.8,1349.4 L1549.1,1350.2 L1550.4,1350.9 L1551.7,1351.6 L1553.0,1352.3 L1554.2,1353.0 L1555.5,1353.6 L1556.8,1354.1 L1558.1,1354.5 L1559.4,1354.8 L1560.7,1355.0 L1562.0,1355.1 L1563.3,1355.1 L1564.6,1355.2 L1565.9,1355.2 L1567.2,1355.1 L1568.5,1354.9 L1569.8,1354.5 L1571.0,1354.1 L1572.3,1353.7 L1573.6,1353.3 L1574.9,1352.9 L1576.2,1352.6 L1577.5,1352.2 L1578.8,1351.9 L1580.1,1351.7 L1581.4,1351.5 L1582.7,1351.4 L1584.0,1351.3 L1585.3,1351.2 L1586.6,1351.1 L1587.8,1351.1 L1589.1,1351.2 L1590.4,1351.6 L1591.7,1352.1 L1593.0,1352.6 L1594.3,1353.2 L1595.6,1353.6 L1596.9,1353.8 L1598.2,1353.9 L1599.5,1353.9 L1600.8,1353.9 L1602.1,1354.0 L1603.4,1354.2 L1604.6,1354.4 L1605.9,1354.7 L1607.2,1354.9 L1608.5,1355.0 L1609.8,1355.1 L1611.1,1355.1 L1612.4,1354.9 L1613.7,1354.8 L1615.0,1354.5 L1616.3,1354.2 L1617.6,1354.0 L1618.9,1353.8 L1620.2,1353.6 L1621.5,1353.6 L1622.7,1353.6 L1624.0,1353.8 L1625.3,1354.0 L1626.6,1354.2 L1627.9,1354.3 L1629.2,1354.4 L1630.5,1354.5 L1631.8,1354.5 L1633.1,1354.4 L1634.4,1354.3 L1635.7,1354.1 L1637.0,1353.7 L1638.3,1353.2 L1639.5,1352.7 L1640.8,1352.2 L1642.1,1351.8 L1643.4,1351.4 L1644.7,1351.2 L1646.0,1351.2 L1647.3,1351.2 L1648.6,1351.2 L1649.9,1351.3 L1651.2,1351.4 L1652.5,1351.6 L1653.8,1351.7 L1655.1,1351.8 L1656.3,1352.0 L1657.6,1352.2 L1658.9,1352.5 L1660.2,1352.8 L1661.5,1353.1 L1662.8,1353.3 L1664.1,1353.5 L1665.4,1353.6 L1666.7,1353.7 L1668.0,1353.8 L1669.3,1353.8 L1670.6,1353.8 L1671.9,1353.8 L1673.1,1353.8 L1674.4,1353.7 L1675.7,1353.6 L1677.0,1353.4 L1678.3,1353.1 L1679.6,1352.8 L1680.9,1352.6 L1682.2,1352.5 L1683.5,1352.5 L1684.8,1352.8 L1686.1,1353.1 L1687.4,1353.5 L1688.7,1353.9 L1689.9,1354.3 L1691.2,1354.5 L1692.5,1354.7 L1693.8,1354.8 L1695.1,1354.9 L1696.4,1354.8 L1697.7,1354.7 L1699.0,1354.5 L1700.3,1354.3 L1701.6,1354.0 L1702.9,1353.7 L1704.2,1353.4 L1705.5,1353.1 L1706.7,1352.9 L1708.0,1352.8 L1709.3,1352.7 L1710.6,1352.7 L1711.9,1352.8 L1713.2,1353.0 L1714.5,1353.2 L1715.8,1353.4 L1717.1,1353.6 L1718.4,1353.7 L1719.7,1353.8 L1721.0,1353.8 L1722.3,1353.8 L1723.5,1353.6 L1724.8,1353.5 L1726.1,1353.3 L1727.4,1353.1 L1728.7,1352.7 L1730.0,1352.3 L1731.3,1351.6 L1732.6,1350.7 L1733.9,1349.7 L1735.2,1348.6 L1736.5,1347.7 L1737.8,1346.9 L1739.1,1346.4 L1740.4,1346.0 L1741.6,1345.8 L1742.9,1345.7 L1744.2,1345.6 L1745.5,1345.7 L1746.8,1345.9 L1748.1,1346.2 L1749.4,1346.6 L1750.7,1347.1 L1752.0,1347.7 L1753.3,1348.4 L1754.6,1349.1 L1755.9,1350.0 L1757.2,1350.9 L1758.4,1351.9 L1759.7,1352.8 L1761.0,1353.6 L1762.3,1354.2 L1763.6,1354.6 L1764.9,1354.9 L1766.2,1355.0 L1767.5,1355.0 L1768.8,1355.0 L1770.1,1354.9 L1771.4,1354.9 L1772.7,1355.0 L1774.0,1355.0 L1775.2,1355.0 L1776.5,1354.9 L1777.8,1354.8 L1779.1,1354.8 L1780.4,1354.8 L1781.7,1354.9 L1783.0,1355.0 L1784.3,1355.0 L1785.6,1354.9 L1786.9,1354.8 L1788.2,1354.5 L1789.5,1354.1 L1790.8,1353.6 L1792.0,1353.1 L1793.3,1352.4 L1794.6,1351.6 L1795.9,1350.5 L1797.2,1349.1 L1798.5,1347.4 L1799.8,1345.4 L1801.1,1343.2 L1802.4,1340.8 L1803.7,1338.4 L1805.0,1336.3 L1806.3,1334.6 L1807.6,1333.6 L1808.8,1333.3 L1810.1,1333.6 L1811.4,1334.5 L1812.7,1335.7 L1814.0,1337.0 L1815.3,1338.3 L1816.6,1339.4 L1817.9,1340.3 L1819.2,1341.0 L1820.5,1341.5 L1821.8,1341.7 L1823.1,1341.5 L1824.4,1340.9 L1825.6,1339.9 L1826.9,1338.8 L1828.2,1337.8 L1829.5,1337.1 L1830.8,1337.0 L1832.1,1337.6 L1833.4,1338.8 L1834.7,1340.5 L1836.0,1342.3 L1837.3,1344.1 L1838.6,1345.7 L1839.9,1347.0 L1841.2,1348.1 L1842.5,1348.8 L1843.7,1349.3 L1845.0,1349.6 L1846.3,1349.6 L1847.6,1349.6 L1848.9,1349.6 L1850.2,1349.6 L1851.5,1349.6 L1852.8,1349.8 L1854.1,1350.0 L1855.4,1350.3 L1856.7,1350.5 L1858.0,1350.6 L1859.3,1350.6 L1860.5,1350.4 L1861.8,1350.0 L1863.1,1349.6 L1864.4,1348.9 L1865.7,1348.2 L1867.0,1347.4 L1868.3,1346.8 L1869.6,1346.4 L1870.9,1346.4 L1872.2,1346.7 L1873.5,1347.4 L1874.8,1348.3 L1876.1,1349.4 L1877.3,1350.6 L1878.6,1351.8 L1879.9,1352.8 L1881.2,1353.5 L1882.5,1354.1 L1883.8,1354.4 L1885.1,1354.6 L1886.4,1354.7 L1887.7,1354.7 L1889.0,1354.7 L1890.3,1354.7 L1891.6,1354.6 L1892.9,1354.5 L1894.1,1354.5 L1895.4,1354.5 L1896.7,1354.5 L1898.0,1354.5 L1899.3,1354.4 L1900.6,1354.2 L1901.9,1353.9 L1903.2,1353.6 L1904.5,1353.2 L1905.8,1352.9 L1907.1,1352.5 L1908.4,1352.3 L1909.7,1352.0 L1910.9,1351.6 L1912.2,1351.1 L1913.5,1350.5 L1914.8,1349.7 L1916.1,1349.0 L1917.4,1348.3 L1918.7,1347.8 L1920.0,1347.5 L1921.3,1347.6 L1922.6,1347.8 L1923.9,1348.1 L1925.2,1348.6 L1926.5,1349.0 L1927.7,1349.5 L1929.0,1350.1 L1930.3,1350.7 L1931.6,1351.4 L1932.9,1352.0 L1934.2,1352.5 L1935.5,1352.8 L1936.8,1353.1 L1938.1,1353.3 L1939.4,1353.5 L1940.7,1353.7 L1942.0,1353.9 L1943.3,1354.1 L1944.6,1354.4 L1945.8,1354.8 L1947.1,1355.2 L1948.4,1355.5 L1949.7,1355.8 L1951.0,1356.0 L1952.3,1355.9 L1953.6,1355.7 L1954.9,1355.4 L1956.2,1355.2 L1957.5,1354.9 L1958.8,1354.8 L1960.1,1354.7 L1961.4,1354.7 L1962.6,1354.6 L1963.9,1354.6 L1965.2,1354.5 L1966.5,1354.4 L1967.8,1354.3 L1969.1,1354.4 L1970.4,1354.4 L1971.7,1354.5 L1973.0,1354.5 L1974.3,1354.6 L1975.6,1354.6 L1976.9,1354.7 L1978.2,1354.7 L1979.4,1354.8 L1980.7,1354.9 L1982.0,1354.9 L1983.3,1354.8 L1984.6,1354.8 L1985.9,1354.7 L1987.2,1354.5 L1988.5,1354.4 L1989.8,1354.4 L1991.1,1354.3 L1992.4,1354.3 L1993.7,1354.3 L1995.0,1354.3 L1996.2,1354.3 L1997.5,1354.2 L1998.8,1354.2 L2000.1,1354.1 L2001.4,1354.0 L2002.7,1353.9 L2004.0,1353.8 L2005.3,1353.8 L2006.6,1353.8 L2007.9,1353.8 L2009.2,1353.8 L2010.5,1353.9 L2011.8,1353.9 L2013.0,1353.9 L2014.3,1353.9 L2015.6,1353.9 L2016.9,1353.8 L2018.2,1353.8 L2019.5,1353.7 L2020.8,1353.6 L2022.1,1353.6 L2023.4,1353.5 L2024.7,1353.4 L2026.0,1353.3 L2027.3,1353.2 L2028.6,1353.1 L2029.8,1353.0 L2031.1,1352.8 L2032.4,1352.5 L2033.7,1352.1 L2035.0,1351.6 L2036.3,1351.1 L2037.6,1350.5 L2038.9,1350.0 L2040.2,1349.5 L2041.5,1349.1 L2042.8,1348.7 L2044.1,1348.5 L2045.4,1348.4 L2046.6,1348.4 L2047.9,1348.4 L2049.2,1348.3 L2050.5,1348.2 L2051.8,1348.2 L2053.1,1348.2 L2054.4,1348.2 L2055.7,1348.4 L2057.0,1348.6 L2058.3,1348.8 L2059.6,1349.1 L2060.9,1349.4 L2062.2,1349.8 L2063.5,1350.2 L2064.7,1350.6 L2066.0,1351.1 L2067.3,1351.6 L2068.6,1352.0 L2069.9,1352.4 L2071.2,1352.6 L2072.5,1352.9 L2073.8,1353.1 L2075.1,1353.3 L2076.4,1353.6 L2077.7,1353.7 L2079.0,1353.9 L2080.3,1353.9 L2081.5,1353.9 L2082.8,1353.8 L2084.1,1353.7 L2085.4,1353.5 L2086.7,1353.3 L2088.0,1353.2 L2089.3,1353.0 L2090.6,1352.9 L2091.9,1352.7 L2093.2,1352.6 L2094.5,1352.5 L2095.8,1352.3 L2097.1,1352.2 L2098.3,1351.9 L2099.6,1351.5 L2100.9,1351.1 L2102.2,1350.5 L2103.5,1349.9 L2104.8,1349.2 L2106.1,1348.6 L2107.4,1348.0 L2108.7,1347.6 L2110.0,1347.2 L2111.3,1347.0 L2112.6,1346.8 L2113.9,1346.7 L2115.1,1346.6 L2116.4,1346.7 L2117.7,1346.9 L2119.0,1347.2 L2120.3,1347.7 L2121.6,1348.4 L2122.9,1349.1 L2124.2,1349.8 L2125.5,1350.4 L2126.8,1350.9 L2128.1,1351.3 L2129.4,1351.6 L2130.7,1351.8 L2131.9,1352.1 L2133.2,1352.2 L2134.5,1352.4 L2135.8,1352.5 L2137.1,1352.5 L2138.4,1352.5 L2139.7,1352.6 L2141.0,1352.7 L2142.3,1352.9 L2143.6,1353.1 L2144.9,1353.3 L2146.2,1353.5 L2147.5,1353.7 L2148.7,1353.8 L2150.0,1354.0 L2151.3,1354.1 L2152.6,1354.3 L2153.9,1354.5 L2155.2,1354.6 L2156.5,1354.7 L2157.8,1354.8 L2159.1,1354.9 L2160.4,1354.9 L2161.7,1354.8 L2163.0,1354.6 L2164.3,1354.4 L2165.6,1354.1 L2166.8,1354.0 L2168.1,1353.9 L2169.4,1353.8 L2170.7,1353.7 L2172.0,1353.5 L2173.3,1353.2 L2174.6,1352.6 L2175.9,1351.8 L2177.2,1351.0 L2178.5,1350.1 L2179.8,1349.3 L2181.1,1348.6 L2182.4,1348.2 L2183.6,1347.9 L2184.9,1347.8 L2186.2,1347.8 L2187.5,1347.8 L2188.8,1347.8 L2190.1,1347.9 L2191.4,1348.0 L2192.7,1348.3 L2194.0,1348.7 L2195.3,1349.2 L2196.6,1349.8 L2197.9,1350.6 L2199.2,1351.3 L2200.4,1351.9 L2201.7,1352.4 L2203.0,1352.8 L2204.3,1353.0 L2205.6,1353.3 L2206.9,1353.7 L2208.2,1354.0 L2209.5,1354.4 L2210.8,1354.7 L2212.1,1355.0 L2213.4,1355.1 L2214.7,1355.1 L2216.0,1355.2 L2217.2,1355.3 L2218.5,1355.4 L2219.8,1355.5 L2221.1,1355.5 L2222.4,1355.3 L2223.7,1355.2 L2225.0,1355.0 L2226.3,1355.0 L2227.6,1355.0 L2228.9,1355.2 L2230.2,1355.3 L2231.5,1355.5 L2232.8,1355.5 L2234.0,1355.5 L2235.3,1355.3 L2236.6,1355.1 L2237.9,1354.9 L2239.2,1354.7 L2240.5,1354.6 L2241.8,1354.6 L2243.1,1354.6 L2244.4,1354.7 L2245.7,1354.8 L2247.0,1354.8 L2248.3,1354.8 L2249.6,1354.6 L2250.8,1354.3 L2252.1,1353.8 L2253.4,1353.2 L2254.7,1352.4 L2256.0,1351.5 L2257.3,1350.6 L2258.6,1349.7 L2259.9,1348.8 L2261.2,1347.9 L2262.5,1347.1 L2263.8,1346.2 L2265.1,1345.3 L2266.4,1344.2 L2267.7,1343.0 L2268.9,1341.9 L2270.2,1341.0 L2271.5,1340.3 L2272.8,1340.0 L2274.1,1340.2 L2275.4,1340.8 L2276.7,1341.8 L2278.0,1343.1 L2279.3,1344.6 L2280.6,1346.1 L2281.9,1347.5 L2283.2,1348.8 L2284.5,1349.8 L2285.7,1350.6 L2287.0,1351.2 L2288.3,1351.8 L2289.6,1352.2 L2290.9,1352.4 L2292.2,1352.7 L2293.5,1352.8 L2294.8,1352.8 L2296.1,1352.9 L2297.4,1352.9 L2298.7,1352.9 L2300.0,1352.9 L2301.3,1353.0 L2302.5,1353.1 L2303.8,1353.2 L2305.1,1353.3 L2306.4,1353.2 L2307.7,1353.1 L2309.0,1352.9 L2310.3,1352.7 L2311.6,1352.6 L2312.9,1352.6 L2314.2,1352.8 L2315.5,1353.0 L2316.8,1353.3 L2318.1,1353.5" fill="none" stroke="#FF0000" stroke-width="10.5" stroke-linejoin="round" stroke-linecap="butt"/>
<path d="M167.5,1181.3 L168.8,1181.3 L170.1,1181.4 L171.4,1181.5 L172.7,1181.6 L174.0,1181.7 L175.3,1181.7 L176.5,1181.8 L177.8,1181.9 L179.1,1182.0 L180.4,1182.3 L181.7,1182.5 L183.0,1182.5 L184.3,1182.4 L185.6,1182.3 L186.9,1182.1 L188.2,1182.0 L189.5,1182.0 L190.8,1182.1 L192.1,1182.3 L193.3,1182.4 L194.6,1182.6 L195.9,1182.7 L197.2,1182.7 L198.5,1182.7 L199.8,1182.6 L201.1,1182.4 L202.4,1182.2 L203.7,1182.0 L205.0,1181.9 L206.3,1182.0 L207.6,1182.1 L208.9,1182.2 L210.1,1182.3 L211.4,1182.3 L212.7,1182.3 L214.0,1182.3 L215.3,1182.3 L216.6,1182.2 L217.9,1182.2 L219.2,1182.2 L220.5,1182.2 L221.8,1182.4 L223.1,1182.6 L224.4,1182.9 L225.7,1183.1 L227.0,1183.2 L228.2,1183.3 L229.5,1183.3 L230.8,1183.2 L232.1,1183.0 L233.4,1182.7 L234.7,1182.3 L236.0,1181.7 L237.3,1181.3 L238.6,1180.9 L239.9,1180.7 L241.2,1180.7 L242.5,1180.7 L243.8,1180.7 L245.0,1180.6 L246.3,1180.3 L247.6,1179.9 L248.9,1179.3 L250.2,1178.6 L251.5,1177.9 L252.8,1177.2 L254.1,1176.5 L255.4,1176.0 L256.7,1175.6 L258.0,1175.3 L259.3,1175.3 L260.6,1175.4 L261.8,1175.6 L263.1,1176.0 L264.4,1176.4 L265.7,1176.9 L267.0,1177.4 L268.3,1177.8 L269.6,1178.0 L270.9,1177.8 L272.2,1177.3 L273.5,1176.3 L274.8,1174.8 L276.1,1172.9 L277.4,1170.6 L278.6,1168.0 L279.9,1165.2 L281.2,1162.6 L282.5,1160.3 L283.8,1158.7 L285.1,1157.9 L286.4,1158.1 L287.7,1159.2 L289.0,1160.9 L290.3,1163.1 L291.6,1165.4 L292.9,1167.7 L294.2,1169.9 L295.4,1172.0 L296.7,1173.8 L298.0,1175.4 L299.3,1176.7 L300.6,1177.8 L301.9,1178.4 L303.2,1178.8 L304.5,1179.1 L305.8,1179.1 L307.1,1179.1 L308.4,1179.1 L309.7,1179.0 L311.0,1179.0 L312.2,1179.1 L313.5,1179.2 L314.8,1179.3 L316.1,1179.5 L317.4,1179.7 L318.7,1180.0 L320.0,1180.3 L321.3,1180.6 L322.6,1180.9 L323.9,1181.2 L325.2,1181.3 L326.5,1181.5 L327.8,1181.6 L329.1,1181.7 L330.3,1181.7 L331.6,1181.7 L332.9,1181.7 L334.2,1181.7 L335.5,1181.6 L336.8,1181.6 L338.1,1181.5 L339.4,1181.4 L340.7,1181.3 L342.0,1181.2 L343.3,1181.1 L344.6,1181.1 L345.9,1181.1 L347.1,1181.1 L348.4,1181.0 L349.7,1181.0 L351.0,1180.9 L352.3,1180.9 L353.6,1180.9 L354.9,1180.9 L356.2,1180.9 L357.5,1180.8 L358.8,1180.5 L360.1,1180.0 L361.4,1179.4 L362.7,1178.7 L363.9,1177.8 L365.2,1176.8 L366.5,1175.7 L367.8,1174.4 L369.1,1173.1 L370.4,1171.6 L371.7,1169.8 L373.0,1167.8 L374.3,1165.7 L375.6,1163.4 L376.9,1161.3 L378.2,1159.6 L379.5,1158.5 L380.7,1158.1 L382.0,1158.3 L383.3,1159.1 L384.6,1160.1 L385.9,1161.2 L387.2,1162.4 L388.5,1163.5 L389.8,1164.7 L391.1,1165.9 L392.4,1167.1 L393.7,1168.2 L395.0,1169.2 L396.3,1170.2 L397.5,1171.0 L398.8,1171.7 L400.1,1172.3 L401.4,1172.8 L402.7,1173.0 L404.0,1173.2 L405.3,1173.4 L406.6,1173.6 L407.9,1173.9 L409.2,1174.2 L410.5,1174.6 L411.8,1175.0 L413.1,1175.4 L414.3,1175.8 L415.6,1176.2 L416.9,1176.5 L418.2,1176.9 L419.5,1177.2 L420.8,1177.5 L422.1,1177.7 L423.4,1177.9 L424.7,1178.0 L426.0,1178.1 L427.3,1178.3 L428.6,1178.5 L429.9,1178.8 L431.1,1179.2 L432.4,1179.5 L433.7,1179.7 L435.0,1179.6 L436.3,1179.4 L437.6,1178.8 L438.9,1178.1 L440.2,1177.2 L441.5,1176.3 L442.8,1175.3 L444.1,1174.4 L445.4,1173.5 L446.7,1172.8 L448.0,1172.3 L449.2,1172.1 L450.5,1172.2 L451.8,1172.6 L453.1,1173.3 L454.4,1174.1 L455.7,1175.0 L457.0,1175.8 L458.3,1176.6 L459.6,1177.2 L460.9,1177.6 L462.2,1177.7 L463.5,1177.3 L464.8,1176.5 L466.0,1175.4 L467.3,1173.9 L468.6,1172.1 L469.9,1170.2 L471.2,1168.1 L472.5,1166.0 L473.8,1164.0 L475.1,1162.3 L476.4,1161.0 L477.7,1160.4 L479.0,1160.6 L480.3,1161.3 L481.6,1162.7 L482.8,1164.6 L484.1,1166.8 L485.4,1169.3 L486.7,1171.7 L488.0,1174.0 L489.3,1176.1 L490.6,1177.8 L491.9,1179.1 L493.2,1180.0 L494.5,1180.5 L495.8,1180.8 L497.1,1181.0 L498.4,1181.1 L499.6,1181.1 L500.9,1181.0 L502.2,1180.7 L503.5,1180.2 L504.8,1179.5 L506.1,1178.6 L507.4,1177.6 L508.7,1176.5 L510.0,1175.4 L511.3,1174.3 L512.6,1173.2 L513.9,1172.3 L515.2,1171.4 L516.4,1170.9 L517.7,1170.6 L519.0,1170.7 L520.3,1171.1 L521.6,1171.7 L522.9,1172.6 L524.2,1173.6 L525.5,1174.7 L526.8,1175.9 L528.1,1177.0 L529.4,1178.0 L530.7,1178.9 L532.0,1179.7 L533.2,1180.4 L534.5,1180.9 L535.8,1181.4 L537.1,1181.7 L538.4,1181.8 L539.7,1181.8 L541.0,1181.8 L542.3,1181.6 L543.6,1181.5 L544.9,1181.5 L546.2,1181.5 L547.5,1181.6 L548.8,1181.6 L550.1,1181.6 L551.3,1181.6 L552.6,1181.5 L553.9,1181.4 L555.2,1181.3 L556.5,1181.3 L557.8,1181.3 L559.1,1181.4 L560.4,1181.4 L561.7,1181.5 L563.0,1181.6 L564.3,1181.7 L565.6,1181.7 L566.9,1181.7 L568.1,1181.6 L569.4,1181.4 L570.7,1181.1 L572.0,1180.7 L573.3,1180.2 L574.6,1179.4 L575.9,1178.5 L577.2,1177.2 L578.5,1175.8 L579.8,1174.2 L581.1,1172.7 L582.4,1171.4 L583.7,1170.3 L584.9,1169.5 L586.2,1169.0 L587.5,1169.0 L588.8,1169.3 L590.1,1169.9 L591.4,1170.7 L592.7,1171.5 L594.0,1172.2 L595.3,1172.6 L596.6,1172.5 L597.9,1171.8 L599.2,1170.3 L600.5,1167.8 L601.7,1164.0 L603.0,1159.0 L604.3,1152.7 L605.6,1145.4 L606.9,1137.5 L608.2,1129.4 L609.5,1121.8 L610.8,1115.4 L612.1,1110.7 L613.4,1108.0 L614.7,1107.3 L616.0,1108.3 L617.3,1110.7 L618.5,1113.9 L619.8,1117.5 L621.1,1121.4 L622.4,1125.2 L623.7,1129.1 L625.0,1133.1 L626.3,1137.3 L627.6,1141.6 L628.9,1145.9 L630.2,1149.8 L631.5,1153.0 L632.8,1155.2 L634.1,1156.0 L635.3,1155.4 L636.6,1153.5 L637.9,1150.3 L639.2,1146.3 L640.5,1141.8 L641.8,1137.3 L643.1,1133.1 L644.4,1129.3 L645.7,1125.9 L647.0,1123.0 L648.3,1121.0 L649.6,1120.0 L650.9,1120.2 L652.2,1121.4 L653.4,1123.2 L654.7,1125.2 L656.0,1127.1 L657.3,1128.7 L658.6,1129.9 L659.9,1130.7 L661.2,1130.7 L662.5,1129.6 L663.8,1127.2 L665.1,1123.4 L666.4,1118.3 L667.7,1112.6 L669.0,1106.9 L670.2,1101.7 L671.5,1097.4 L672.8,1094.1 L674.1,1091.5 L675.4,1089.2 L676.7,1087.1 L678.0,1085.3 L679.3,1084.5 L680.6,1085.1 L681.9,1088.1 L683.2,1093.5 L684.5,1101.4 L685.8,1111.1 L687.0,1121.6 L688.3,1132.2 L689.6,1142.1 L690.9,1150.6 L692.2,1157.6 L693.5,1162.9 L694.8,1166.6 L696.1,1168.8 L697.4,1169.9 L698.7,1170.2 L700.0,1169.8 L701.3,1169.0 L702.6,1167.7 L703.8,1166.0 L705.1,1163.4 L706.4,1159.7 L707.7,1154.5 L709.0,1147.6 L710.3,1139.1 L711.6,1129.2 L712.9,1118.3 L714.2,1107.2 L715.5,1096.7 L716.8,1087.9 L718.1,1081.5 L719.4,1078.5 L720.6,1079.2 L721.9,1083.6 L723.2,1091.2 L724.5,1101.1 L725.8,1112.2 L727.1,1123.8 L728.4,1135.0 L729.7,1145.1 L731.0,1153.9 L732.3,1161.0 L733.6,1166.6 L734.9,1170.8 L736.2,1174.0 L737.4,1176.2 L738.7,1177.9 L740.0,1179.1 L741.3,1180.0 L742.6,1180.7 L743.9,1181.2 L745.2,1181.5 L746.5,1181.7 L747.8,1181.8 L749.1,1181.8 L750.4,1181.8 L751.7,1181.8 L753.0,1181.8 L754.2,1181.7 L755.5,1181.6 L756.8,1181.4 L758.1,1181.2 L759.4,1180.9 L760.7,1180.7 L762.0,1180.5 L763.3,1180.5 L764.6,1180.5 L765.9,1180.5 L767.2,1180.6 L768.5,1180.8 L769.8,1180.9 L771.1,1181.0 L772.3,1181.1 L773.6,1181.2 L774.9,1181.3 L776.2,1181.3 L777.5,1181.2 L778.8,1181.0 L780.1,1180.7 L781.4,1180.3 L782.7,1179.9 L784.0,1179.5 L785.3,1179.4 L786.6,1179.3 L787.9,1179.2 L789.1,1179.2 L790.4,1179.2 L791.7,1179.1 L793.0,1179.0 L794.3,1178.9 L795.6,1178.8 L796.9,1178.8 L798.2,1178.9 L799.5,1179.2 L800.8,1179.5 L802.1,1179.7 L803.4,1179.9 L804.7,1179.9 L805.9,1179.9 L807.2,1179.8 L808.5,1179.6 L809.8,1179.3 L811.1,1179.0 L812.4,1178.7 L813.7,1178.4 L815.0,1178.0 L816.3,1177.5 L817.6,1176.9 L818.9,1176.1 L820.2,1175.0 L821.5,1173.8 L822.7,1172.5 L824.0,1171.2 L825.3,1169.9 L826.6,1168.6 L827.9,1167.4 L829.2,1166.5 L830.5,1165.7 L831.8,1165.3 L833.1,1165.2 L834.4,1165.5 L835.7,1166.2 L837.0,1167.1 L838.3,1168.2 L839.5,1169.5 L840.8,1170.9 L842.1,1172.3 L843.4,1173.8 L844.7,1175.1 L846.0,1176.4 L847.3,1177.3 L848.6,1178.1 L849.9,1178.8 L851.2,1179.3 L852.5,1179.7 L853.8,1180.1 L855.1,1180.3 L856.3,1180.4 L857.6,1180.4 L858.9,1180.2 L860.2,1180.0 L861.5,1179.7 L862.8,1179.4 L864.1,1179.2 L865.4,1179.0 L866.7,1178.8 L868.0,1178.6 L869.3,1178.5 L870.6,1178.4 L871.9,1178.3 L873.2,1178.2 L874.4,1178.2 L875.7,1178.2 L877.0,1178.2 L878.3,1178.3 L879.6,1178.4 L880.9,1178.5 L882.2,1178.6 L883.5,1178.7 L884.8,1178.8 L886.1,1178.9 L887.4,1179.0 L888.7,1179.1 L890.0,1179.2 L891.2,1179.4 L892.5,1179.6 L893.8,1179.8 L895.1,1180.0 L896.4,1180.2 L897.7,1180.5 L899.0,1180.9 L900.3,1181.2 L901.6,1181.4 L902.9,1181.5 L904.2,1181.4 L905.5,1181.2 L906.8,1180.9 L908.0,1180.5 L909.3,1180.1 L910.6,1179.6 L911.9,1179.1 L913.2,1178.4 L914.5,1177.7 L915.8,1176.8 L917.1,1175.9 L918.4,1174.8 L919.7,1173.7 L921.0,1172.7 L922.3,1171.7 L923.6,1171.0 L924.8,1170.6 L926.1,1170.6 L927.4,1170.9 L928.7,1171.5 L930.0,1172.3 L931.3,1173.1 L932.6,1174.0 L933.9,1174.7 L935.2,1175.3 L936.5,1175.7 L937.8,1176.0 L939.1,1176.2 L940.4,1176.4 L941.6,1176.7 L942.9,1177.0 L944.2,1177.3 L945.5,1177.6 L946.8,1177.9 L948.1,1178.1 L949.4,1178.3 L950.7,1178.4 L952.0,1178.6 L953.3,1178.7 L954.6,1178.9 L955.9,1179.2 L957.2,1179.5 L958.4,1179.9 L959.7,1180.2 L961.0,1180.4 L962.3,1180.5 L963.6,1180.4 L964.9,1180.0 L966.2,1179.4 L967.5,1178.7 L968.8,1177.7 L970.1,1176.6 L971.4,1175.3 L972.7,1173.7 L974.0,1171.7 L975.3,1169.2 L976.5,1166.2 L977.8,1162.8 L979.1,1159.1 L980.4,1155.3 L981.7,1151.7 L983.0,1148.5 L984.3,1145.9 L985.6,1144.1 L986.9,1143.3 L988.2,1143.2 L989.5,1143.9 L990.8,1145.2 L992.1,1146.9 L993.3,1148.7 L994.6,1150.5 L995.9,1152.3 L997.2,1153.9 L998.5,1155.3 L999.8,1156.5 L1001.1,1157.5 L1002.4,1158.4 L1003.7,1159.4 L1005.0,1160.7 L1006.3,1162.2 L1007.6,1164.1 L1008.9,1166.1 L1010.1,1168.1 L1011.4,1170.0 L1012.7,1171.7 L1014.0,1173.3 L1015.3,1174.6 L1016.6,1175.6 L1017.9,1176.4 L1019.2,1176.9 L1020.5,1177.2 L1021.8,1177.2 L1023.1,1177.1 L1024.4,1176.8 L1025.7,1176.2 L1026.9,1175.2 L1028.2,1174.0 L1029.5,1172.3 L1030.8,1170.4 L1032.1,1168.2 L1033.4,1165.7 L1034.7,1163.0 L1036.0,1160.3 L1037.3,1157.6 L1038.6,1155.1 L1039.9,1153.1 L1041.2,1151.8 L1042.5,1151.2 L1043.7,1151.5 L1045.0,1152.6 L1046.3,1154.5 L1047.6,1156.9 L1048.9,1159.8 L1050.2,1162.9 L1051.5,1166.0 L1052.8,1168.9 L1054.1,1171.7 L1055.4,1174.1 L1056.7,1176.1 L1058.0,1177.6 L1059.3,1178.7 L1060.5,1179.5 L1061.8,1179.9 L1063.1,1180.3 L1064.4,1180.5 L1065.7,1180.7 L1067.0,1180.9 L1068.3,1181.1 L1069.6,1181.2 L1070.9,1181.5 L1072.2,1181.7 L1073.5,1181.9 L1074.8,1181.9 L1076.1,1181.8 L1077.3,1181.6 L1078.6,1181.5 L1079.9,1181.4 L1081.2,1181.4 L1082.5,1181.5 L1083.8,1181.7 L1085.1,1181.9 L1086.4,1182.1 L1087.7,1182.2 L1089.0,1182.1 L1090.3,1181.9 L1091.6,1181.6 L1092.9,1181.3 L1094.2,1181.0 L1095.4,1180.7 L1096.7,1180.3 L1098.0,1180.0 L1099.3,1179.7 L1100.6,1179.4 L1101.9,1179.1 L1103.2,1178.8 L1104.5,1178.6 L1105.8,1178.3 L1107.1,1178.2 L1108.4,1178.1 L1109.7,1178.0 L1111.0,1178.0 L1112.2,1177.8 L1113.5,1177.6 L1114.8,1177.4 L1116.1,1177.0 L1117.4,1176.7 L1118.7,1176.4 L1120.0,1176.0 L1121.3,1175.7 L1122.6,1175.2 L1123.9,1174.6 L1125.2,1174.0 L1126.5,1173.3 L1127.8,1172.8 L1129.0,1172.5 L1130.3,1172.5 L1131.6,1172.7 L1132.9,1173.0 L1134.2,1173.5 L1135.5,1174.1 L1136.8,1174.7 L1138.1,1175.5 L1139.4,1176.4 L1140.7,1177.2 L1142.0,1178.0 L1143.3,1178.6 L1144.6,1179.0 L1145.8,1179.2 L1147.1,1179.2 L1148.4,1178.9 L1149.7,1178.4 L1151.0,1177.7 L1152.3,1176.8 L1153.6,1175.8 L1154.9,1174.7 L1156.2,1173.4 L1157.5,1172.1 L1158.8,1170.7 L1160.1,1169.2 L1161.4,1167.9 L1162.6,1166.8 L1163.9,1166.0 L1165.2,1165.7 L1166.5,1166.0 L1167.8,1166.7 L1169.1,1167.9 L1170.4,1169.3 L1171.7,1170.8 L1173.0,1172.1 L1174.3,1173.3 L1175.6,1174.3 L1176.9,1175.2 L1178.2,1175.8 L1179.4,1176.2 L1180.7,1176.2 L1182.0,1175.8 L1183.3,1174.9 L1184.6,1173.4 L1185.9,1171.6 L1187.2,1169.3 L1188.5,1166.9 L1189.8,1164.4 L1191.1,1161.9 L1192.4,1159.7 L1193.7,1157.8 L1195.0,1156.2 L1196.3,1154.9 L1197.5,1154.1 L1198.8,1153.7 L1200.1,1153.7 L1201.4,1154.1 L1202.7,1154.9 L1204.0,1156.0 L1205.3,1157.3 L1206.6,1158.7 L1207.9,1160.2 L1209.2,1161.5 L1210.5,1162.7 L1211.8,1163.7 L1213.1,1164.6 L1214.3,1165.3 L1215.6,1166.0 L1216.9,1166.7 L1218.2,1167.6 L1219.5,1168.6 L1220.8,1169.8 L1222.1,1171.1 L1223.4,1172.4 L1224.7,1173.5 L1226.0,1174.4 L1227.3,1175.1 L1228.6,1175.5 L1229.9,1175.7 L1231.1,1175.6 L1232.4,1175.2 L1233.7,1174.7 L1235.0,1173.9 L1236.3,1172.9 L1237.6,1171.8 L1238.9,1170.6 L1240.2,1169.2 L1241.5,1168.0 L1242.8,1166.8 L1244.1,1165.9 L1245.4,1165.2 L1246.7,1164.9 L1247.9,1164.9 L1249.2,1165.2 L1250.5,1165.7 L1251.8,1166.5 L1253.1,1167.4 L1254.4,1168.4 L1255.7,1169.6 L1257.0,1171.0 L1258.3,1172.5 L1259.6,1173.9 L1260.9,1175.3 L1262.2,1176.6 L1263.5,1177.7 L1264.7,1178.7 L1266.0,1179.4 L1267.3,1179.9 L1268.6,1180.2 L1269.9,1180.5 L1271.2,1180.8 L1272.5,1181.0 L1273.8,1181.2 L1275.1,1181.4 L1276.4,1181.4 L1277.7,1181.2 L1279.0,1181.0 L1280.3,1180.9 L1281.5,1180.8 L1282.8,1180.8 L1284.1,1180.9 L1285.4,1180.9 L1286.7,1180.7 L1288.0,1180.1 L1289.3,1179.3 L1290.6,1178.2 L1291.9,1176.9 L1293.2,1175.4 L1294.5,1173.6 L1295.8,1171.5 L1297.1,1169.0 L1298.4,1166.3 L1299.6,1163.3 L1300.9,1160.2 L1302.2,1157.1 L1303.5,1154.0 L1304.8,1151.2 L1306.1,1148.8 L1307.4,1146.9 L1308.7,1145.7 L1310.0,1145.3 L1311.3,1145.7 L1312.6,1146.9 L1313.9,1148.7 L1315.2,1151.0 L1316.4,1153.3 L1317.7,1155.7 L1319.0,1157.9 L1320.3,1160.0 L1321.6,1161.8 L1322.9,1163.4 L1324.2,1165.0 L1325.5,1166.5 L1326.8,1168.0 L1328.1,1169.5 L1329.4,1171.0 L1330.7,1172.5 L1332.0,1173.9 L1333.2,1175.1 L1334.5,1176.1 L1335.8,1176.9 L1337.1,1177.4 L1338.4,1177.7 L1339.7,1177.7 L1341.0,1177.6 L1342.3,1177.5 L1343.6,1177.2 L1344.9,1176.7 L1346.2,1176.2 L1347.5,1175.5 L1348.8,1174.8 L1350.0,1174.0 L1351.3,1173.1 L1352.6,1172.3 L1353.9,1171.5 L1355.2,1170.8 L1356.5,1170.3 L1357.8,1170.1 L1359.1,1170.1 L1360.4,1170.4 L1361.7,1170.9 L1363.0,1171.4 L1364.3,1172.0 L1365.6,1172.5 L1366.8,1172.9 L1368.1,1173.3 L1369.4,1173.5 L1370.7,1173.7 L1372.0,1173.8 L1373.3,1173.8 L1374.6,1173.9 L1375.9,1173.9 L1377.2,1174.0 L1378.5,1174.0 L1379.8,1173.8 L1381.1,1173.5 L1382.4,1173.2 L1383.6,1172.8 L1384.9,1172.7 L1386.2,1172.9 L1387.5,1173.2 L1388.8,1173.8 L1390.1,1174.3 L1391.4,1174.8 L1392.7,1175.2 L1394.0,1175.6 L1395.3,1175.9 L1396.6,1176.4 L1397.9,1177.0 L1399.2,1177.6 L1400.4,1178.2 L1401.7,1178.6 L1403.0,1178.8 L1404.3,1179.0 L1405.6,1179.2 L1406.9,1179.4 L1408.2,1179.7 L1409.5,1179.9 L1410.8,1180.2 L1412.1,1180.4 L1413.4,1180.6 L1414.7,1180.9 L1416.0,1181.1 L1417.3,1181.3 L1418.5,1181.5 L1419.8,1181.7 L1421.1,1181.9 L1422.4,1182.1 L1423.7,1182.2 L1425.0,1182.3 L1426.3,1182.2 L1427.6,1182.1 L1428.9,1181.8 L1430.2,1181.6 L1431.5,1181.3 L1432.8,1181.1 L1434.1,1180.8 L1435.3,1180.6 L1436.6,1180.4 L1437.9,1180.0 L1439.2,1179.5 L1440.5,1178.9 L1441.8,1178.2 L1443.1,1177.4 L1444.4,1176.6 L1445.7,1175.9 L1447.0,1175.2 L1448.3,1174.6 L1449.6,1174.1 L1450.9,1173.5 L1452.1,1172.8 L1453.4,1172.2 L1454.7,1171.7 L1456.0,1171.2 L1457.3,1170.9 L1458.6,1170.5 L1459.9,1170.2 L1461.2,1169.9 L1462.5,1169.6 L1463.8,1169.4 L1465.1,1169.4 L1466.4,1169.5 L1467.7,1169.7 L1468.9,1170.0 L1470.2,1170.2 L1471.5,1170.6 L1472.8,1171.0 L1474.1,1171.5 L1475.4,1172.2 L1476.7,1173.0 L1478.0,1174.0 L1479.3,1175.1 L1480.6,1176.1 L1481.9,1177.1 L1483.2,1177.9 L1484.5,1178.7 L1485.7,1179.3 L1487.0,1179.8 L1488.3,1180.1 L1489.6,1180.4 L1490.9,1180.6 L1492.2,1180.5 L1493.5,1180.3 L1494.8,1180.0 L1496.1,1179.5 L1497.4,1179.0 L1498.7,1178.4 L1500.0,1177.8 L1501.3,1177.1 L1502.5,1176.3 L1503.8,1175.4 L1505.1,1174.3 L1506.4,1173.2 L1507.7,1172.0 L1509.0,1170.9 L1510.3,1169.9 L1511.6,1169.1 L1512.9,1168.4 L1514.2,1167.9 L1515.5,1167.5 L1516.8,1167.4 L1518.1,1167.4 L1519.4,1167.5 L1520.6,1167.6 L1521.9,1167.6 L1523.2,1167.5 L1524.5,1167.2 L1525.8,1166.8 L1527.1,1166.3 L1528.4,1165.8 L1529.7,1165.4 L1531.0,1165.1 L1532.3,1164.9 L1533.6,1164.9 L1534.9,1165.0 L1536.2,1165.2 L1537.4,1165.6 L1538.7,1166.1 L1540.0,1166.7 L1541.3,1167.4 L1542.6,1168.4 L1543.9,1169.5 L1545.2,1170.7 L1546.5,1172.1 L1547.8,1173.5 L1549.1,1174.9 L1550.4,1176.2 L1551.7,1177.3 L1553.0,1178.2 L1554.2,1178.8 L1555.5,1179.4 L1556.8,1179.9 L1558.1,1180.3 L1559.4,1180.7 L1560.7,1181.0 L1562.0,1181.3 L1563.3,1181.5 L1564.6,1181.8 L1565.9,1181.9 L1567.2,1182.0 L1568.5,1181.9 L1569.8,1181.7 L1571.0,1181.4 L1572.3,1181.0 L1573.6,1180.6 L1574.9,1180.1 L1576.2,1179.7 L1577.5,1179.2 L1578.8,1178.8 L1580.1,1178.4 L1581.4,1178.0 L1582.7,1177.8 L1584.0,1177.6 L1585.3,1177.5 L1586.6,1177.4 L1587.8,1177.3 L1589.1,1177.4 L1590.4,1177.5 L1591.7,1177.9 L1593.0,1178.4 L1594.3,1179.0 L1595.6,1179.6 L1596.9,1180.2 L1598.2,1180.7 L1599.5,1180.9 L1600.8,1180.9 L1602.1,1180.7 L1603.4,1180.3 L1604.6,1179.9 L1605.9,1179.4 L1607.2,1179.0 L1608.5,1178.6 L1609.8,1178.4 L1611.1,1178.3 L1612.4,1178.4 L1613.7,1178.6 L1615.0,1178.9 L1616.3,1179.2 L1617.6,1179.5 L1618.9,1179.9 L1620.2,1180.3 L1621.5,1180.7 L1622.7,1181.1 L1624.0,1181.3 L1625.3,1181.3 L1626.6,1181.1 L1627.9,1180.8 L1629.2,1180.4 L1630.5,1180.0 L1631.8,1179.7 L1633.1,1179.4 L1634.4,1179.1 L1635.7,1178.9 L1637.0,1178.6 L1638.3,1178.3 L1639.5,1177.9 L1640.8,1177.6 L1642.1,1177.3 L1643.4,1177.0 L1644.7,1176.7 L1646.0,1176.5 L1647.3,1176.4 L1648.6,1176.5 L1649.9,1176.8 L1651.2,1177.2 L1652.5,1177.7 L1653.8,1178.2 L1655.1,1178.6 L1656.3,1178.9 L1657.6,1179.1 L1658.9,1179.3 L1660.2,1179.4 L1661.5,1179.5 L1662.8,1179.5 L1664.1,1179.4 L1665.4,1179.0 L1666.7,1178.4 L1668.0,1177.7 L1669.3,1176.8 L1670.6,1175.8 L1671.9,1174.8 L1673.1,1173.7 L1674.4,1172.5 L1675.7,1171.4 L1677.0,1170.3 L1678.3,1169.5 L1679.6,1168.9 L1680.9,1168.7 L1682.2,1168.8 L1683.5,1169.2 L1684.8,1169.7 L1686.1,1170.4 L1687.4,1171.4 L1688.7,1172.5 L1689.9,1173.6 L1691.2,1174.8 L1692.5,1175.8 L1693.8,1176.6 L1695.1,1177.3 L1696.4,1177.8 L1697.7,1178.2 L1699.0,1178.4 L1700.3,1178.5 L1701.6,1178.3 L1702.9,1178.0 L1704.2,1177.6 L1705.5,1177.2 L1706.7,1176.8 L1708.0,1176.4 L1709.3,1176.2 L1710.6,1176.0 L1711.9,1175.9 L1713.2,1176.0 L1714.5,1176.1 L1715.8,1176.3 L1717.1,1176.6 L1718.4,1176.8 L1719.7,1177.0 L1721.0,1177.1 L1722.3,1177.1 L1723.5,1176.9 L1724.8,1176.6 L1726.1,1176.2 L1727.4,1175.5 L1728.7,1174.7 L1730.0,1173.5 L1731.3,1172.1 L1732.6,1170.4 L1733.9,1168.5 L1735.2,1166.6 L1736.5,1164.7 L1737.8,1162.9 L1739.1,1161.2 L1740.4,1159.8 L1741.6,1158.7 L1742.9,1158.0 L1744.2,1157.8 L1745.5,1158.1 L1746.8,1158.8 L1748.1,1160.0 L1749.4,1161.6 L1750.7,1163.4 L1752.0,1165.4 L1753.3,1167.4 L1754.6,1169.4 L1755.9,1171.3 L1757.2,1173.1 L1758.4,1174.6 L1759.7,1176.0 L1761.0,1177.1 L1762.3,1178.1 L1763.6,1178.8 L1764.9,1179.4 L1766.2,1179.9 L1767.5,1180.2 L1768.8,1180.4 L1770.1,1180.6 L1771.4,1180.7 L1772.7,1180.9 L1774.0,1181.2 L1775.2,1181.5 L1776.5,1181.8 L1777.8,1182.1 L1779.1,1182.3 L1780.4,1182.4 L1781.7,1182.4 L1783.0,1182.2 L1784.3,1181.9 L1785.6,1181.7 L1786.9,1181.4 L1788.2,1181.2 L1789.5,1181.1 L1790.8,1180.9 L1792.0,1180.5 L1793.3,1180.0 L1794.6,1179.1 L1795.9,1177.7 L1797.2,1175.9 L1798.5,1173.6 L1799.8,1170.8 L1801.1,1167.6 L1802.4,1164.3 L1803.7,1161.2 L1805.0,1158.4 L1806.3,1156.3 L1807.6,1155.1 L1808.8,1154.8 L1810.1,1155.3 L1811.4,1156.5 L1812.7,1158.1 L1814.0,1159.8 L1815.3,1161.4 L1816.6,1162.5 L1817.9,1163.3 L1819.2,1163.7 L1820.5,1163.9 L1821.8,1164.0 L1823.1,1163.9 L1824.4,1163.7 L1825.6,1163.3 L1826.9,1162.8 L1828.2,1162.4 L1829.5,1162.3 L1830.8,1162.7 L1832.1,1163.5 L1833.4,1164.8 L1834.7,1166.4 L1836.0,1168.1 L1837.3,1169.7 L1838.6,1171.1 L1839.9,1172.2 L1841.2,1172.9 L1842.5,1173.3 L1843.7,1173.5 L1845.0,1173.5 L1846.3,1173.4 L1847.6,1173.3 L1848.9,1173.1 L1850.2,1173.0 L1851.5,1172.9 L1852.8,1172.8 L1854.1,1172.9 L1855.4,1173.0 L1856.7,1173.2 L1858.0,1173.4 L1859.3,1173.5 L1860.5,1173.4 L1861.8,1173.1 L1863.1,1172.6 L1864.4,1172.0 L1865.7,1171.3 L1867.0,1170.7 L1868.3,1170.2 L1869.6,1170.1 L1870.9,1170.4 L1872.2,1171.0 L1873.5,1172.1 L1874.8,1173.4 L1876.1,1174.8 L1877.3,1176.3 L1878.6,1177.7 L1879.9,1178.9 L1881.2,1179.9 L1882.5,1180.6 L1883.8,1181.0 L1885.1,1181.1 L1886.4,1181.2 L1887.7,1181.2 L1889.0,1181.2 L1890.3,1181.4 L1891.6,1181.5 L1892.9,1181.8 L1894.1,1182.1 L1895.4,1182.3 L1896.7,1182.3 L1898.0,1182.1 L1899.3,1181.8 L1900.6,1181.3 L1901.9,1180.7 L1903.2,1180.1 L1904.5,1179.5 L1905.8,1178.8 L1907.1,1178.0 L1908.4,1177.2 L1909.7,1176.3 L1910.9,1175.4 L1912.2,1174.6 L1913.5,1173.7 L1914.8,1172.8 L1916.1,1172.1 L1917.4,1171.4 L1918.7,1170.9 L1920.0,1170.6 L1921.3,1170.5 L1922.6,1170.6 L1923.9,1170.9 L1925.2,1171.4 L1926.5,1172.0 L1927.7,1172.8 L1929.0,1173.6 L1930.3,1174.5 L1931.6,1175.4 L1932.9,1176.2 L1934.2,1176.9 L1935.5,1177.6 L1936.8,1178.2 L1938.1,1178.8 L1939.4,1179.3 L1940.7,1179.7 L1942.0,1180.0 L1943.3,1180.4 L1944.6,1180.6 L1945.8,1180.9 L1947.1,1181.1 L1948.4,1181.1 L1949.7,1181.0 L1951.0,1180.9 L1952.3,1180.6 L1953.6,1180.4 L1954.9,1180.2 L1956.2,1180.0 L1957.5,1179.8 L1958.8,1179.7 L1960.1,1179.7 L1961.4,1179.8 L1962.6,1179.8 L1963.9,1179.8 L1965.2,1179.7 L1966.5,1179.5 L1967.8,1179.3 L1969.1,1179.1 L1970.4,1179.0 L1971.7,1179.0 L1973.0,1179.0 L1974.3,1179.0 L1975.6,1178.9 L1976.9,1178.8 L1978.2,1178.6 L1979.4,1178.5 L1980.7,1178.4 L1982.0,1178.5 L1983.3,1178.7 L1984.6,1178.9 L1985.9,1179.1 L1987.2,1179.4 L1988.5,1179.6 L1989.8,1179.9 L1991.1,1180.2 L1992.4,1180.6 L1993.7,1181.0 L1995.0,1181.4 L1996.2,1181.7 L1997.5,1181.9 L1998.8,1182.0 L2000.1,1182.0 L2001.4,1182.1 L2002.7,1182.1 L2004.0,1182.0 L2005.3,1182.0 L2006.6,1181.8 L2007.9,1181.5 L2009.2,1181.2 L2010.5,1180.9 L2011.8,1180.7 L2013.0,1180.5 L2014.3,1180.4 L2015.6,1180.4 L2016.9,1180.4 L2018.2,1180.3 L2019.5,1180.3 L2020.8,1180.2 L2022.1,1180.0 L2023.4,1179.7 L2024.7,1179.3 L2026.0,1178.9 L2027.3,1178.6 L2028.6,1178.4 L2029.8,1178.4 L2031.1,1178.3 L2032.4,1178.1 L2033.7,1177.8 L2035.0,1177.2 L2036.3,1176.4 L2037.6,1175.7 L2038.9,1175.0 L2040.2,1174.4 L2041.5,1174.0 L2042.8,1173.5 L2044.1,1173.1 L2045.4,1172.6 L2046.6,1172.2 L2047.9,1171.9 L2049.2,1171.7 L2050.5,1171.8 L2051.8,1171.9 L2053.1,1172.2 L2054.4,1172.4 L2055.7,1172.7 L2057.0,1173.0 L2058.3,1173.4 L2059.6,1173.9 L2060.9,1174.4 L2062.2,1174.9 L2063.5,1175.4 L2064.7,1175.8 L2066.0,1176.2 L2067.3,1176.7 L2068.6,1177.2 L2069.9,1177.7 L2071.2,1178.2 L2072.5,1178.6 L2073.8,1178.9 L2075.1,1179.0 L2076.4,1179.2 L2077.7,1179.4 L2079.0,1179.7 L2080.3,1180.1 L2081.5,1180.4 L2082.8,1180.7 L2084.1,1181.0 L2085.4,1181.1 L2086.7,1181.1 L2088.0,1181.0 L2089.3,1180.8 L2090.6,1180.6 L2091.9,1180.4 L2093.2,1180.2 L2094.5,1180.0 L2095.8,1179.8 L2097.1,1179.6 L2098.3,1179.3 L2099.6,1178.9 L2100.9,1178.4 L2102.2,1177.7 L2103.5,1177.0 L2104.8,1176.1 L2106.1,1175.2 L2107.4,1174.2 L2108.7,1173.2 L2110.0,1172.3 L2111.3,1171.6 L2112.6,1171.1 L2113.9,1170.8 L2115.1,1170.7 L2116.4,1170.8 L2117.7,1171.0 L2119.0,1171.4 L2120.3,1172.0 L2121.6,1172.6 L2122.9,1173.3 L2124.2,1173.9 L2125.5,1174.3 L2126.8,1174.7 L2128.1,1174.9 L2129.4,1175.1 L2130.7,1175.4 L2131.9,1175.6 L2133.2,1175.8 L2134.5,1176.0 L2135.8,1176.1 L2137.1,1176.3 L2138.4,1176.4 L2139.7,1176.5 L2141.0,1176.6 L2142.3,1176.8 L2143.6,1176.8 L2144.9,1176.9 L2146.2,1176.9 L2147.5,1177.0 L2148.7,1177.2 L2150.0,1177.5 L2151.3,1178.1 L2152.6,1178.8 L2153.9,1179.6 L2155.2,1180.3 L2156.5,1180.8 L2157.8,1181.0 L2159.1,1181.1 L2160.4,1181.0 L2161.7,1180.9 L2163.0,1180.8 L2164.3,1180.7 L2165.6,1180.6 L2166.8,1180.4 L2168.1,1180.1 L2169.4,1179.7 L2170.7,1179.0 L2172.0,1178.2 L2173.3,1177.4 L2174.6,1176.6 L2175.9,1175.8 L2177.2,1175.1 L2178.5,1174.4 L2179.8,1173.7 L2181.1,1173.0 L2182.4,1172.3 L2183.6,1171.6 L2184.9,1171.1 L2186.2,1170.6 L2187.5,1170.4 L2188.8,1170.3 L2190.1,1170.5 L2191.4,1170.8 L2192.7,1171.3 L2194.0,1171.8 L2195.3,1172.3 L2196.6,1172.7 L2197.9,1173.1 L2199.2,1173.5 L2200.4,1174.0 L2201.7,1174.5 L2203.0,1175.2 L2204.3,1175.9 L2205.6,1176.7 L2206.9,1177.5 L2208.2,1178.3 L2209.5,1179.0 L2210.8,1179.7 L2212.1,1180.2 L2213.4,1180.6 L2214.7,1180.9 L2216.0,1181.2 L2217.2,1181.4 L2218.5,1181.6 L2219.8,1181.7 L2221.1,1181.7 L2222.4,1181.6 L2223.7,1181.5 L2225.0,1181.5 L2226.3,1181.5 L2227.6,1181.5 L2228.9,1181.5 L2230.2,1181.5 L2231.5,1181.4 L2232.8,1181.3 L2234.0,1181.1 L2235.3,1180.9 L2236.6,1180.7 L2237.9,1180.6 L2239.2,1180.6 L2240.5,1180.6 L2241.8,1180.7 L2243.1,1180.8 L2244.4,1180.9 L2245.7,1181.1 L2247.0,1181.2 L2248.3,1181.2 L2249.6,1181.1 L2250.8,1180.9 L2252.1,1180.4 L2253.4,1179.9 L2254.7,1179.2 L2256.0,1178.3 L2257.3,1177.1 L2258.6,1175.7 L2259.9,1174.0 L2261.2,1172.1 L2262.5,1170.1 L2263.8,1168.2 L2265.1,1166.2 L2266.4,1164.3 L2267.7,1162.6 L2268.9,1161.2 L2270.2,1160.1 L2271.5,1159.6 L2272.8,1159.5 L2274.1,1160.0 L2275.4,1160.8 L2276.7,1162.0 L2278.0,1163.4 L2279.3,1164.9 L2280.6,1166.5 L2281.9,1168.2 L2283.2,1169.9 L2284.5,1171.6 L2285.7,1173.2 L2287.0,1174.8 L2288.3,1176.2 L2289.6,1177.5 L2290.9,1178.4 L2292.2,1179.1 L2293.5,1179.4 L2294.8,1179.6 L2296.1,1179.6 L2297.4,1179.5 L2298.7,1179.4 L2300.0,1179.2 L2301.3,1178.9 L2302.5,1178.7 L2303.8,1178.4 L2305.1,1178.2 L2306.4,1178.1 L2307.7,1178.0 L2309.0,1178.0 L2310.3,1178.1 L2311.6,1178.3 L2312.9,1178.6 L2314.2,1178.9 L2315.5,1179.2 L2316.8,1179.5 L2318.1,1179.8" fill="none" stroke="#0000FF" stroke-width="10.5" stroke-linejoin="round" stroke-linecap="butt"/>
<path d="M167.5,1025.9 L168.8,1025.9 L170.1,1025.9 L171.4,1025.9 L172.7,1026.0 L174.0,1026.0 L175.3,1026.0 L176.5,1025.9 L177.8,1025.8 L179.1,1025.6 L180.4,1025.5 L181.7,1025.4 L183.0,1025.4 L184.3,1025.4 L185.6,1025.5 L186.9,1025.6 L188.2,1025.7 L189.5,1025.8 L190.8,1025.9 L192.1,1025.8 L193.3,1025.7 L194.6,1025.6 L195.9,1025.6 L197.2,1025.8 L198.5,1026.0 L199.8,1026.3 L201.1,1026.6 L202.4,1026.8 L203.7,1026.8 L205.0,1026.7 L206.3,1026.5 L207.6,1026.3 L208.9,1026.1 L210.1,1026.0 L211.4,1026.0 L212.7,1026.0 L214.0,1026.1 L215.3,1026.2 L216.6,1026.3 L217.9,1026.4 L219.2,1026.5 L220.5,1026.6 L221.8,1026.8 L223.1,1026.9 L224.4,1027.1 L225.7,1027.2 L227.0,1027.2 L228.2,1027.1 L229.5,1027.0 L230.8,1027.0 L232.1,1026.8 L233.4,1026.7 L234.7,1026.5 L236.0,1026.2 L237.3,1025.9 L238.6,1025.7 L239.9,1025.4 L241.2,1025.2 L242.5,1024.9 L243.8,1024.4 L245.0,1023.8 L246.3,1023.0 L247.6,1022.1 L248.9,1021.3 L250.2,1020.5 L251.5,1019.9 L252.8,1019.4 L254.1,1019.2 L255.4,1019.3 L256.7,1019.5 L258.0,1020.0 L259.3,1020.6 L260.6,1021.3 L261.8,1022.1 L263.1,1022.7 L264.4,1023.2 L265.7,1023.3 L267.0,1023.0 L268.3,1022.3 L269.6,1021.1 L270.9,1019.5 L272.2,1017.6 L273.5,1015.3 L274.8,1012.7 L276.1,1010.0 L277.4,1007.3 L278.6,1004.9 L279.9,1003.0 L281.2,1001.8 L282.5,1001.6 L283.8,1002.3 L285.1,1003.8 L286.4,1006.0 L287.7,1008.6 L289.0,1011.3 L290.3,1014.0 L291.6,1016.3 L292.9,1018.3 L294.2,1019.9 L295.4,1021.2 L296.7,1022.2 L298.0,1022.8 L299.3,1023.2 L300.6,1023.4 L301.9,1023.5 L303.2,1023.5 L304.5,1023.5 L305.8,1023.6 L307.1,1023.9 L308.4,1024.3 L309.7,1024.7 L311.0,1025.2 L312.2,1025.6 L313.5,1025.9 L314.8,1026.2 L316.1,1026.4 L317.4,1026.5 L318.7,1026.6 L320.0,1026.7 L321.3,1026.7 L322.6,1026.6 L323.9,1026.5 L325.2,1026.3 L326.5,1026.1 L327.8,1025.9 L329.1,1025.9 L330.3,1025.9 L331.6,1026.1 L332.9,1026.4 L334.2,1026.6 L335.5,1026.7 L336.8,1026.8 L338.1,1026.7 L339.4,1026.6 L340.7,1026.5 L342.0,1026.4 L343.3,1026.3 L344.6,1026.2 L345.9,1026.1 L347.1,1025.9 L348.4,1025.7 L349.7,1025.5 L351.0,1025.3 L352.3,1025.2 L353.6,1025.1 L354.9,1024.9 L356.2,1024.7 L357.5,1024.3 L358.8,1023.7 L360.1,1023.1 L361.4,1022.4 L362.7,1021.6 L363.9,1020.7 L365.2,1019.6 L366.5,1018.4 L367.8,1016.8 L369.1,1014.9 L370.4,1012.7 L371.7,1010.3 L373.0,1008.0 L374.3,1005.9 L375.6,1004.2 L376.9,1003.1 L378.2,1002.5 L379.5,1002.5 L380.7,1003.1 L382.0,1004.2 L383.3,1005.5 L384.6,1006.9 L385.9,1008.3 L387.2,1009.5 L388.5,1010.7 L389.8,1011.7 L391.1,1012.5 L392.4,1013.2 L393.7,1013.7 L395.0,1014.1 L396.3,1014.3 L397.5,1014.5 L398.8,1014.6 L400.1,1014.9 L401.4,1015.1 L402.7,1015.4 L404.0,1015.6 L405.3,1015.7 L406.6,1015.8 L407.9,1015.9 L409.2,1016.1 L410.5,1016.5 L411.8,1016.9 L413.1,1017.5 L414.3,1018.0 L415.6,1018.6 L416.9,1019.1 L418.2,1019.7 L419.5,1020.2 L420.8,1020.8 L422.1,1021.2 L423.4,1021.6 L424.7,1021.9 L426.0,1022.2 L427.3,1022.5 L428.6,1022.8 L429.9,1023.2 L431.1,1023.5 L432.4,1023.6 L433.7,1023.6 L435.0,1023.3 L436.3,1022.8 L437.6,1022.1 L438.9,1021.3 L440.2,1020.4 L441.5,1019.4 L442.8,1018.6 L444.1,1017.9 L445.4,1017.4 L446.7,1017.3 L448.0,1017.6 L449.2,1018.2 L450.5,1019.2 L451.8,1020.3 L453.1,1021.4 L454.4,1022.4 L455.7,1023.2 L457.0,1023.7 L458.3,1023.7 L459.6,1023.3 L460.9,1022.5 L462.2,1021.4 L463.5,1020.0 L464.8,1018.4 L466.0,1016.7 L467.3,1014.7 L468.6,1012.8 L469.9,1010.9 L471.2,1009.2 L472.5,1007.9 L473.8,1007.2 L475.1,1007.1 L476.4,1007.7 L477.7,1008.9 L479.0,1010.7 L480.3,1012.7 L481.6,1014.9 L482.8,1017.0 L484.1,1018.9 L485.4,1020.6 L486.7,1022.0 L488.0,1023.1 L489.3,1024.0 L490.6,1024.6 L491.9,1025.0 L493.2,1025.2 L494.5,1025.3 L495.8,1025.4 L497.1,1025.4 L498.4,1025.3 L499.6,1025.3 L500.9,1025.1 L502.2,1024.7 L503.5,1024.2 L504.8,1023.5 L506.1,1022.5 L507.4,1021.2 L508.7,1019.9 L510.0,1018.5 L511.3,1017.2 L512.6,1016.2 L513.9,1015.5 L515.2,1015.1 L516.4,1015.2 L517.7,1015.6 L519.0,1016.3 L520.3,1017.4 L521.6,1018.6 L522.9,1020.0 L524.2,1021.3 L525.5,1022.4 L526.8,1023.3 L528.1,1024.0 L529.4,1024.5 L530.7,1024.8 L532.0,1025.1 L533.2,1025.2 L534.5,1025.4 L535.8,1025.5 L537.1,1025.6 L538.4,1025.8 L539.7,1025.9 L541.0,1026.0 L542.3,1026.2 L543.6,1026.4 L544.9,1026.5 L546.2,1026.6 L547.5,1026.6 L548.8,1026.5 L550.1,1026.3 L551.3,1026.0 L552.6,1025.7 L553.9,1025.5 L555.2,1025.3 L556.5,1025.3 L557.8,1025.3 L559.1,1025.4 L560.4,1025.5 L561.7,1025.3 L563.0,1025.1 L564.3,1024.7 L565.6,1024.3 L566.9,1023.9 L568.1,1023.5 L569.4,1023.1 L570.7,1022.6 L572.0,1021.9 L573.3,1021.1 L574.6,1020.2 L575.9,1019.2 L577.2,1018.2 L578.5,1017.4 L579.8,1016.7 L581.1,1016.2 L582.4,1015.9 L583.7,1015.9 L584.9,1016.0 L586.2,1016.3 L587.5,1016.7 L588.8,1017.1 L590.1,1017.5 L591.4,1017.8 L592.7,1017.7 L594.0,1017.0 L595.3,1015.6 L596.6,1013.3 L597.9,1009.8 L599.2,1005.2 L600.5,999.2 L601.7,992.2 L603.0,984.2 L604.3,975.8 L605.6,967.6 L606.9,960.2 L608.2,954.2 L609.5,950.3 L610.8,948.7 L612.1,949.4 L613.4,951.9 L614.7,955.7 L616.0,960.0 L617.3,964.5 L618.5,968.9 L619.8,973.2 L621.1,977.4 L622.4,981.7 L623.7,985.9 L625.0,990.0 L626.3,993.6 L627.6,996.6 L628.9,998.8 L630.2,999.9 L631.5,999.7 L632.8,998.4 L634.1,996.0 L635.3,992.7 L636.6,988.9 L637.9,984.9 L639.2,981.1 L640.5,977.7 L641.8,974.8 L643.1,972.5 L644.4,971.0 L645.7,970.2 L647.0,970.4 L648.3,971.3 L649.6,972.6 L650.9,974.1 L652.2,975.4 L653.4,976.6 L654.7,977.6 L656.0,978.2 L657.3,978.1 L658.6,977.0 L659.9,974.6 L661.2,970.8 L662.5,965.8 L663.8,960.0 L665.1,954.0 L666.4,948.4 L667.7,943.7 L669.0,940.2 L670.2,937.6 L671.5,935.6 L672.8,933.9 L674.1,932.4 L675.4,931.4 L676.7,931.5 L678.0,933.3 L679.3,937.5 L680.6,944.0 L681.9,952.4 L683.2,962.2 L684.5,972.4 L685.8,982.3 L687.0,991.2 L688.3,998.6 L689.6,1004.3 L690.9,1008.3 L692.2,1010.9 L693.5,1012.2 L694.8,1012.7 L696.1,1012.5 L697.4,1011.9 L698.7,1011.0 L700.0,1009.6 L701.3,1007.7 L702.6,1004.7 L703.8,1000.4 L705.1,994.4 L706.4,986.6 L707.7,977.0 L709.0,966.1 L710.3,954.5 L711.6,943.2 L712.9,933.1 L714.2,925.3 L715.5,920.9 L716.8,920.4 L718.1,923.9 L719.4,930.8 L720.6,940.4 L721.9,951.6 L723.2,963.3 L724.5,974.9 L725.8,985.5 L727.1,994.8 L728.4,1002.6 L729.7,1008.8 L731.0,1013.7 L732.3,1017.4 L733.6,1020.1 L734.9,1022.1 L736.2,1023.6 L737.4,1024.5 L738.7,1025.1 L740.0,1025.4 L741.3,1025.6 L742.6,1025.8 L743.9,1025.8 L745.2,1025.8 L746.5,1025.6 L747.8,1025.4 L749.1,1025.1 L750.4,1024.9 L751.7,1024.7 L753.0,1024.7 L754.2,1024.7 L755.5,1024.8 L756.8,1024.9 L758.1,1025.1 L759.4,1025.2 L760.7,1025.4 L762.0,1025.5 L763.3,1025.6 L764.6,1025.6 L765.9,1025.5 L767.2,1025.3 L768.5,1025.3 L769.8,1025.3 L771.1,1025.3 L772.3,1025.4 L773.6,1025.3 L774.9,1025.2 L776.2,1024.9 L777.5,1024.7 L778.8,1024.4 L780.1,1024.2 L781.4,1024.1 L782.7,1024.0 L784.0,1024.0 L785.3,1024.0 L786.6,1023.9 L787.9,1023.8 L789.1,1023.7 L790.4,1023.5 L791.7,1023.2 L793.0,1022.9 L794.3,1022.6 L795.6,1022.4 L796.9,1022.1 L798.2,1022.0 L799.5,1021.9 L800.8,1022.0 L802.1,1022.2 L803.4,1022.5 L804.7,1022.8 L805.9,1023.1 L807.2,1023.4 L808.5,1023.5 L809.8,1023.5 L811.1,1023.3 L812.4,1022.9 L813.7,1022.3 L815.0,1021.5 L816.3,1020.5 L817.6,1019.5 L818.9,1018.5 L820.2,1017.3 L821.5,1016.1 L822.7,1014.7 L824.0,1013.3 L825.3,1012.1 L826.6,1011.2 L827.9,1010.6 L829.2,1010.4 L830.5,1010.6 L831.8,1011.2 L833.1,1012.1 L834.4,1013.2 L835.7,1014.4 L837.0,1015.7 L838.3,1017.0 L839.5,1018.1 L840.8,1019.2 L842.1,1020.1 L843.4,1020.9 L844.7,1021.6 L846.0,1022.0 L847.3,1022.2 L848.6,1022.3 L849.9,1022.3 L851.2,1022.3 L852.5,1022.3 L853.8,1022.3 L855.1,1022.3 L856.3,1022.3 L857.6,1022.1 L858.9,1021.9 L860.2,1021.6 L861.5,1021.4 L862.8,1021.1 L864.1,1021.0 L865.4,1020.9 L866.7,1020.9 L868.0,1020.9 L869.3,1020.9 L870.6,1020.9 L871.9,1020.9 L873.2,1021.0 L874.4,1021.0 L875.7,1021.1 L877.0,1021.2 L878.3,1021.4 L879.6,1021.6 L880.9,1021.8 L882.2,1022.2 L883.5,1022.5 L884.8,1022.9 L886.1,1023.2 L887.4,1023.3 L888.7,1023.3 L890.0,1023.3 L891.2,1023.2 L892.5,1023.1 L893.8,1023.0 L895.1,1023.0 L896.4,1023.1 L897.7,1023.2 L899.0,1023.5 L900.3,1023.8 L901.6,1024.1 L902.9,1024.4 L904.2,1024.6 L905.5,1024.5 L906.8,1024.3 L908.0,1024.0 L909.3,1023.6 L910.6,1023.1 L911.9,1022.6 L913.2,1022.0 L914.5,1021.4 L915.8,1020.7 L917.1,1020.0 L918.4,1019.5 L919.7,1019.0 L921.0,1018.5 L922.3,1018.3 L923.6,1018.1 L924.8,1018.2 L926.1,1018.4 L927.4,1018.8 L928.7,1019.2 L930.0,1019.7 L931.3,1020.1 L932.6,1020.5 L933.9,1020.8 L935.2,1021.1 L936.5,1021.4 L937.8,1021.6 L939.1,1021.8 L940.4,1022.0 L941.6,1022.2 L942.9,1022.6 L944.2,1023.0 L945.5,1023.5 L946.8,1024.0 L948.1,1024.5 L949.4,1024.9 L950.7,1025.2 L952.0,1025.4 L953.3,1025.5 L954.6,1025.6 L955.9,1025.7 L957.2,1025.8 L958.4,1025.8 L959.7,1025.6 L961.0,1025.3 L962.3,1024.8 L963.6,1024.1 L964.9,1023.3 L966.2,1022.3 L967.5,1021.2 L968.8,1019.7 L970.1,1017.8 L971.4,1015.4 L972.7,1012.5 L974.0,1009.1 L975.3,1005.6 L976.5,1002.1 L977.8,998.9 L979.1,996.2 L980.4,994.1 L981.7,992.8 L983.0,992.2 L984.3,992.3 L985.6,992.9 L986.9,994.0 L988.2,995.3 L989.5,996.8 L990.8,998.2 L992.1,999.6 L993.3,1000.7 L994.6,1001.8 L995.9,1002.8 L997.2,1003.7 L998.5,1004.7 L999.8,1005.7 L1001.1,1006.8 L1002.4,1008.0 L1003.7,1009.3 L1005.0,1010.8 L1006.3,1012.4 L1007.6,1014.1 L1008.9,1015.7 L1010.1,1017.3 L1011.4,1018.8 L1012.7,1020.1 L1014.0,1021.3 L1015.3,1022.2 L1016.6,1022.8 L1017.9,1023.2 L1019.2,1023.3 L1020.5,1023.1 L1021.8,1022.7 L1023.1,1021.9 L1024.4,1020.9 L1025.7,1019.4 L1026.9,1017.6 L1028.2,1015.5 L1029.5,1013.2 L1030.8,1010.5 L1032.1,1007.8 L1033.4,1005.0 L1034.7,1002.4 L1036.0,1000.2 L1037.3,998.6 L1038.6,997.9 L1039.9,998.2 L1041.2,999.4 L1042.5,1001.2 L1043.7,1003.5 L1045.0,1006.1 L1046.3,1008.7 L1047.6,1011.4 L1048.9,1013.9 L1050.2,1016.3 L1051.5,1018.4 L1052.8,1020.1 L1054.1,1021.6 L1055.4,1022.9 L1056.7,1023.8 L1058.0,1024.5 L1059.3,1025.0 L1060.5,1025.4 L1061.8,1025.6 L1063.1,1025.8 L1064.4,1026.0 L1065.7,1026.1 L1067.0,1026.1 L1068.3,1026.1 L1069.6,1026.0 L1070.9,1025.9 L1072.2,1025.9 L1073.5,1026.0 L1074.8,1026.1 L1076.1,1026.3 L1077.3,1026.6 L1078.6,1026.8 L1079.9,1026.9 L1081.2,1026.9 L1082.5,1026.8 L1083.8,1026.6 L1085.1,1026.4 L1086.4,1026.1 L1087.7,1025.8 L1089.0,1025.5 L1090.3,1025.3 L1091.6,1025.1 L1092.9,1024.8 L1094.2,1024.5 L1095.4,1024.2 L1096.7,1024.0 L1098.0,1023.8 L1099.3,1023.7 L1100.6,1023.5 L1101.9,1023.2 L1103.2,1022.9 L1104.5,1022.6 L1105.8,1022.3 L1107.1,1022.1 L1108.4,1022.0 L1109.7,1021.8 L1111.0,1021.7 L1112.2,1021.5 L1113.5,1021.3 L1114.8,1021.2 L1116.1,1021.0 L1117.4,1020.8 L1118.7,1020.6 L1120.0,1020.2 L1121.3,1019.9 L1122.6,1019.6 L1123.9,1019.4 L1125.2,1019.4 L1126.5,1019.4 L1127.8,1019.6 L1129.0,1019.8 L1130.3,1020.2 L1131.6,1020.7 L1132.9,1021.4 L1134.2,1022.0 L1135.5,1022.6 L1136.8,1023.1 L1138.1,1023.4 L1139.4,1023.5 L1140.7,1023.6 L1142.0,1023.7 L1143.3,1023.8 L1144.6,1023.8 L1145.8,1023.7 L1147.1,1023.3 L1148.4,1022.7 L1149.7,1021.7 L1151.0,1020.5 L1152.3,1019.2 L1153.6,1017.8 L1154.9,1016.6 L1156.2,1015.7 L1157.5,1014.9 L1158.8,1014.3 L1160.1,1013.9 L1161.4,1013.5 L1162.6,1013.3 L1163.9,1013.3 L1165.2,1013.6 L1166.5,1014.3 L1167.8,1015.3 L1169.1,1016.5 L1170.4,1017.7 L1171.7,1018.8 L1173.0,1019.7 L1174.3,1020.3 L1175.6,1020.7 L1176.9,1020.8 L1178.2,1020.5 L1179.4,1019.9 L1180.7,1018.9 L1182.0,1017.4 L1183.3,1015.6 L1184.6,1013.4 L1185.9,1011.0 L1187.2,1008.6 L1188.5,1006.3 L1189.8,1004.3 L1191.1,1002.6 L1192.4,1001.2 L1193.7,1000.2 L1195.0,999.6 L1196.3,999.4 L1197.5,999.8 L1198.8,1000.5 L1200.1,1001.5 L1201.4,1002.7 L1202.7,1004.0 L1204.0,1005.3 L1205.3,1006.7 L1206.6,1007.9 L1207.9,1009.1 L1209.2,1010.1 L1210.5,1011.1 L1211.8,1011.9 L1213.1,1012.7 L1214.3,1013.5 L1215.6,1014.4 L1216.9,1015.3 L1218.2,1016.3 L1219.5,1017.3 L1220.8,1018.2 L1222.1,1018.9 L1223.4,1019.5 L1224.7,1019.8 L1226.0,1019.9 L1227.3,1020.0 L1228.6,1019.9 L1229.9,1019.7 L1231.1,1019.3 L1232.4,1018.8 L1233.7,1018.1 L1235.0,1017.2 L1236.3,1016.3 L1237.6,1015.3 L1238.9,1014.4 L1240.2,1013.7 L1241.5,1013.2 L1242.8,1012.9 L1244.1,1012.8 L1245.4,1013.0 L1246.7,1013.4 L1247.9,1014.0 L1249.2,1014.7 L1250.5,1015.6 L1251.8,1016.6 L1253.1,1017.8 L1254.4,1018.9 L1255.7,1020.0 L1257.0,1020.9 L1258.3,1021.7 L1259.6,1022.4 L1260.9,1023.0 L1262.2,1023.6 L1263.5,1024.0 L1264.7,1024.3 L1266.0,1024.4 L1267.3,1024.5 L1268.6,1024.5 L1269.9,1024.6 L1271.2,1024.7 L1272.5,1024.9 L1273.8,1025.1 L1275.1,1025.3 L1276.4,1025.5 L1277.7,1025.6 L1279.0,1025.5 L1280.3,1025.3 L1281.5,1024.9 L1282.8,1024.5 L1284.1,1024.0 L1285.4,1023.3 L1286.7,1022.4 L1288.0,1021.1 L1289.3,1019.5 L1290.6,1017.5 L1291.9,1015.2 L1293.2,1012.4 L1294.5,1009.5 L1295.8,1006.4 L1297.1,1003.2 L1298.4,1000.1 L1299.6,997.2 L1300.9,994.5 L1302.2,992.1 L1303.5,990.1 L1304.8,988.8 L1306.1,988.3 L1307.4,988.6 L1308.7,989.6 L1310.0,991.2 L1311.3,993.2 L1312.6,995.4 L1313.9,997.7 L1315.2,1000.0 L1316.4,1002.3 L1317.7,1004.5 L1319.0,1006.7 L1320.3,1008.7 L1321.6,1010.5 L1322.9,1012.1 L1324.2,1013.7 L1325.5,1015.2 L1326.8,1016.6 L1328.1,1017.9 L1329.4,1019.1 L1330.7,1020.3 L1332.0,1021.3 L1333.2,1022.2 L1334.5,1023.0 L1335.8,1023.5 L1337.1,1023.8 L1338.4,1023.8 L1339.7,1023.5 L1341.0,1023.0 L1342.3,1022.1 L1343.6,1021.2 L1344.9,1020.1 L1346.2,1019.0 L1347.5,1017.9 L1348.8,1016.9 L1350.0,1016.0 L1351.3,1015.4 L1352.6,1015.0 L1353.9,1014.7 L1355.2,1014.6 L1356.5,1014.5 L1357.8,1014.5 L1359.1,1014.6 L1360.4,1014.8 L1361.7,1015.3 L1363.0,1016.0 L1364.3,1016.7 L1365.6,1017.5 L1366.8,1018.2 L1368.1,1018.8 L1369.4,1019.2 L1370.7,1019.5 L1372.0,1019.5 L1373.3,1019.4 L1374.6,1019.1 L1375.9,1018.7 L1377.2,1018.3 L1378.5,1018.1 L1379.8,1018.0 L1381.1,1018.0 L1382.4,1018.2 L1383.6,1018.4 L1384.9,1018.7 L1386.2,1019.2 L1387.5,1019.8 L1388.8,1020.7 L1390.1,1021.6 L1391.4,1022.6 L1392.7,1023.4 L1394.0,1023.9 L1395.3,1024.3 L1396.6,1024.4 L1397.9,1024.4 L1399.2,1024.4 L1400.4,1024.5 L1401.7,1024.6 L1403.0,1024.9 L1404.3,1025.2 L1405.6,1025.5 L1406.9,1025.8 L1408.2,1026.0 L1409.5,1026.1 L1410.8,1026.2 L1412.1,1026.2 L1413.4,1026.2 L1414.7,1026.2 L1416.0,1026.2 L1417.3,1026.3 L1418.5,1026.5 L1419.8,1026.6 L1421.1,1026.7 L1422.4,1026.7 L1423.7,1026.6 L1425.0,1026.3 L1426.3,1026.0 L1427.6,1025.6 L1428.9,1025.2 L1430.2,1024.8 L1431.5,1024.4 L1432.8,1024.0 L1434.1,1023.5 L1435.3,1023.1 L1436.6,1022.7 L1437.9,1022.3 L1439.2,1021.8 L1440.5,1021.2 L1441.8,1020.6 L1443.1,1019.8 L1444.4,1019.0 L1445.7,1018.3 L1447.0,1017.7 L1448.3,1017.3 L1449.6,1017.1 L1450.9,1017.0 L1452.1,1017.0 L1453.4,1017.0 L1454.7,1016.9 L1456.0,1016.8 L1457.3,1016.6 L1458.6,1016.3 L1459.9,1016.0 L1461.2,1015.9 L1462.5,1015.8 L1463.8,1015.9 L1465.1,1016.2 L1466.4,1016.7 L1467.7,1017.2 L1468.9,1017.7 L1470.2,1018.2 L1471.5,1018.7 L1472.8,1019.2 L1474.1,1019.7 L1475.4,1020.3 L1476.7,1020.8 L1478.0,1021.4 L1479.3,1022.0 L1480.6,1022.5 L1481.9,1023.0 L1483.2,1023.4 L1484.5,1023.8 L1485.7,1024.0 L1487.0,1024.2 L1488.3,1024.1 L1489.6,1024.0 L1490.9,1023.8 L1492.2,1023.6 L1493.5,1023.3 L1494.8,1022.8 L1496.1,1022.3 L1497.4,1021.6 L1498.7,1020.7 L1500.0,1019.7 L1501.3,1018.6 L1502.5,1017.6 L1503.8,1016.7 L1505.1,1015.9 L1506.4,1015.3 L1507.7,1014.8 L1509.0,1014.6 L1510.3,1014.5 L1511.6,1014.4 L1512.9,1014.4 L1514.2,1014.4 L1515.5,1014.4 L1516.8,1014.4 L1518.1,1014.3 L1519.4,1014.2 L1520.6,1013.9 L1521.9,1013.5 L1523.2,1013.0 L1524.5,1012.3 L1525.8,1011.7 L1527.1,1011.1 L1528.4,1010.6 L1529.7,1010.4 L1531.0,1010.3 L1532.3,1010.4 L1533.6,1010.9 L1534.9,1011.5 L1536.2,1012.4 L1537.4,1013.4 L1538.7,1014.5 L1540.0,1015.8 L1541.3,1017.1 L1542.6,1018.5 L1543.9,1019.9 L1545.2,1021.2 L1546.5,1022.4 L1547.8,1023.4 L1549.1,1024.2 L1550.4,1024.8 L1551.7,1025.2 L1553.0,1025.5 L1554.2,1025.7 L1555.5,1025.9 L1556.8,1026.1 L1558.1,1026.3 L1559.4,1026.5 L1560.7,1026.5 L1562.0,1026.4 L1563.3,1026.2 L1564.6,1026.0 L1565.9,1025.8 L1567.2,1025.6 L1568.5,1025.4 L1569.8,1025.1 L1571.0,1024.8 L1572.3,1024.4 L1573.6,1024.0 L1574.9,1023.6 L1576.2,1023.2 L1577.5,1022.8 L1578.8,1022.6 L1580.1,1022.4 L1581.4,1022.5 L1582.7,1022.6 L1584.0,1023.0 L1585.3,1023.4 L1586.6,1023.8 L1587.8,1024.2 L1589.1,1024.6 L1590.4,1024.9 L1591.7,1025.2 L1593.0,1025.4 L1594.3,1025.5 L1595.6,1025.6 L1596.9,1025.6 L1598.2,1025.5 L1599.5,1025.4 L1600.8,1025.3 L1602.1,1025.1 L1603.4,1025.0 L1604.6,1024.9 L1605.9,1024.9 L1607.2,1024.9 L1608.5,1024.9 L1609.8,1024.7 L1611.1,1024.5 L1612.4,1024.4 L1613.7,1024.2 L1615.0,1024.2 L1616.3,1024.2 L1617.6,1024.3 L1618.9,1024.3 L1620.2,1024.4 L1621.5,1024.4 L1622.7,1024.5 L1624.0,1024.4 L1625.3,1024.3 L1626.6,1024.1 L1627.9,1023.8 L1629.2,1023.5 L1630.5,1023.2 L1631.8,1023.1 L1633.1,1023.0 L1634.4,1023.1 L1635.7,1023.2 L1637.0,1023.5 L1638.3,1023.8 L1639.5,1024.0 L1640.8,1024.2 L1642.1,1024.3 L1643.4,1024.3 L1644.7,1024.4 L1646.0,1024.5 L1647.3,1024.7 L1648.6,1024.8 L1649.9,1025.0 L1651.2,1025.1 L1652.5,1025.2 L1653.8,1025.2 L1655.1,1025.2 L1656.3,1025.2 L1657.6,1025.2 L1658.9,1025.2 L1660.2,1025.1 L1661.5,1024.9 L1662.8,1024.6 L1664.1,1024.1 L1665.4,1023.3 L1666.7,1022.5 L1668.0,1021.7 L1669.3,1020.9 L1670.6,1020.1 L1671.9,1019.4 L1673.1,1018.6 L1674.4,1017.9 L1675.7,1017.3 L1677.0,1016.9 L1678.3,1016.7 L1679.6,1016.8 L1680.9,1017.1 L1682.2,1017.6 L1683.5,1018.2 L1684.8,1019.0 L1686.1,1019.9 L1687.4,1020.8 L1688.7,1021.8 L1689.9,1022.5 L1691.2,1023.0 L1692.5,1023.3 L1693.8,1023.3 L1695.1,1023.1 L1696.4,1022.8 L1697.7,1022.4 L1699.0,1022.0 L1700.3,1021.6 L1701.6,1021.3 L1702.9,1020.9 L1704.2,1020.7 L1705.5,1020.6 L1706.7,1020.5 L1708.0,1020.6 L1709.3,1020.8 L1710.6,1021.0 L1711.9,1021.2 L1713.2,1021.3 L1714.5,1021.4 L1715.8,1021.5 L1717.1,1021.5 L1718.4,1021.5 L1719.7,1021.5 L1721.0,1021.4 L1722.3,1021.1 L1723.5,1020.7 L1724.8,1020.0 L1726.1,1019.1 L1727.4,1017.9 L1728.7,1016.5 L1730.0,1015.0 L1731.3,1013.4 L1732.6,1011.8 L1733.9,1010.2 L1735.2,1008.7 L1736.5,1007.3 L1737.8,1006.1 L1739.1,1005.3 L1740.4,1004.8 L1741.6,1004.9 L1742.9,1005.3 L1744.2,1006.3 L1745.5,1007.5 L1746.8,1009.0 L1748.1,1010.7 L1749.4,1012.5 L1750.7,1014.2 L1752.0,1015.9 L1753.3,1017.4 L1754.6,1018.9 L1755.9,1020.1 L1757.2,1021.2 L1758.4,1022.2 L1759.7,1022.9 L1761.0,1023.5 L1762.3,1024.0 L1763.6,1024.3 L1764.9,1024.7 L1766.2,1025.1 L1767.5,1025.6 L1768.8,1026.1 L1770.1,1026.7 L1771.4,1027.1 L1772.7,1027.5 L1774.0,1027.6 L1775.2,1027.7 L1776.5,1027.7 L1777.8,1027.6 L1779.1,1027.4 L1780.4,1027.2 L1781.7,1027.1 L1783.0,1026.9 L1784.3,1026.6 L1785.6,1026.4 L1786.9,1026.0 L1788.2,1025.4 L1789.5,1024.5 L1790.8,1023.3 L1792.0,1021.8 L1793.3,1020.0 L1794.6,1017.8 L1795.9,1015.2 L1797.2,1012.4 L1798.5,1009.6 L1799.8,1006.8 L1801.1,1004.3 L1802.4,1002.2 L1803.7,1000.9 L1805.0,1000.3 L1806.3,1000.5 L1807.6,1001.3 L1808.8,1002.5 L1810.1,1003.8 L1811.4,1004.9 L1812.7,1005.8 L1814.0,1006.3 L1815.3,1006.5 L1816.6,1006.6 L1817.9,1006.6 L1819.2,1006.5 L1820.5,1006.4 L1821.8,1006.2 L1823.1,1006.1 L1824.4,1005.9 L1825.6,1005.9 L1826.9,1006.1 L1828.2,1006.8 L1829.5,1007.9 L1830.8,1009.4 L1832.1,1011.2 L1833.4,1013.1 L1834.7,1014.9 L1836.0,1016.5 L1837.3,1017.6 L1838.6,1018.2 L1839.9,1018.3 L1841.2,1018.0 L1842.5,1017.5 L1843.7,1016.9 L1845.0,1016.6 L1846.3,1016.4 L1847.6,1016.5 L1848.9,1016.7 L1850.2,1017.1 L1851.5,1017.5 L1852.8,1018.0 L1854.1,1018.4 L1855.4,1018.9 L1856.7,1019.2 L1858.0,1019.3 L1859.3,1019.1 L1860.5,1018.7 L1861.8,1018.1 L1863.1,1017.6 L1864.4,1017.2 L1865.7,1017.0 L1867.0,1017.1 L1868.3,1017.6 L1869.6,1018.3 L1870.9,1019.2 L1872.2,1020.2 L1873.5,1021.2 L1874.8,1022.1 L1876.1,1022.9 L1877.3,1023.7 L1878.6,1024.4 L1879.9,1025.0 L1881.2,1025.6 L1882.5,1026.0 L1883.8,1026.2 L1885.1,1026.4 L1886.4,1026.5 L1887.7,1026.4 L1889.0,1026.4 L1890.3,1026.2 L1891.6,1026.1 L1892.9,1025.8 L1894.1,1025.6 L1895.4,1025.3 L1896.7,1025.1 L1898.0,1025.0 L1899.3,1025.0 L1900.6,1025.0 L1901.9,1024.9 L1903.2,1024.6 L1904.5,1024.1 L1905.8,1023.5 L1907.1,1022.7 L1908.4,1021.8 L1909.7,1020.8 L1910.9,1019.9 L1912.2,1019.1 L1913.5,1018.5 L1914.8,1018.0 L1916.1,1017.8 L1917.4,1017.8 L1918.7,1018.0 L1920.0,1018.2 L1921.3,1018.6 L1922.6,1019.0 L1923.9,1019.5 L1925.2,1019.9 L1926.5,1020.4 L1927.7,1020.9 L1929.0,1021.5 L1930.3,1022.0 L1931.6,1022.5 L1932.9,1023.0 L1934.2,1023.4 L1935.5,1023.7 L1936.8,1024.0 L1938.1,1024.2 L1939.4,1024.5 L1940.7,1024.8 L1942.0,1025.0 L1943.3,1025.3 L1944.6,1025.5 L1945.8,1025.6 L1947.1,1025.6 L1948.4,1025.5 L1949.7,1025.4 L1951.0,1025.3 L1952.3,1025.4 L1953.6,1025.6 L1954.9,1025.8 L1956.2,1026.1 L1957.5,1026.3 L1958.8,1026.4 L1960.1,1026.4 L1961.4,1026.4 L1962.6,1026.3 L1963.9,1026.3 L1965.2,1026.1 L1966.5,1025.9 L1967.8,1025.6 L1969.1,1025.3 L1970.4,1025.0 L1971.7,1024.7 L1973.0,1024.6 L1974.3,1024.6 L1975.6,1024.6 L1976.9,1024.6 L1978.2,1024.6 L1979.4,1024.6 L1980.7,1024.6 L1982.0,1024.5 L1983.3,1024.5 L1984.6,1024.6 L1985.9,1024.7 L1987.2,1025.0 L1988.5,1025.3 L1989.8,1025.6 L1991.1,1025.9 L1992.4,1026.1 L1993.7,1026.3 L1995.0,1026.4 L1996.2,1026.6 L1997.5,1026.6 L1998.8,1026.7 L2000.1,1026.7 L2001.4,1026.7 L2002.7,1026.5 L2004.0,1026.3 L2005.3,1026.1 L2006.6,1025.8 L2007.9,1025.5 L2009.2,1025.2 L2010.5,1025.0 L2011.8,1024.8 L2013.0,1024.7 L2014.3,1024.7 L2015.6,1024.8 L2016.9,1025.0 L2018.2,1025.0 L2019.5,1025.0 L2020.8,1024.9 L2022.1,1024.6 L2023.4,1024.3 L2024.7,1023.9 L2026.0,1023.4 L2027.3,1023.0 L2028.6,1022.6 L2029.8,1022.3 L2031.1,1022.0 L2032.4,1021.8 L2033.7,1021.5 L2035.0,1021.2 L2036.3,1021.0 L2037.6,1020.7 L2038.9,1020.6 L2040.2,1020.5 L2041.5,1020.4 L2042.8,1020.3 L2044.1,1020.1 L2045.4,1020.0 L2046.6,1019.8 L2047.9,1019.7 L2049.2,1019.7 L2050.5,1019.7 L2051.8,1019.9 L2053.1,1020.2 L2054.4,1020.5 L2055.7,1020.7 L2057.0,1021.0 L2058.3,1021.1 L2059.6,1021.3 L2060.9,1021.4 L2062.2,1021.6 L2063.5,1021.9 L2064.7,1022.3 L2066.0,1022.8 L2067.3,1023.4 L2068.6,1023.9 L2069.9,1024.3 L2071.2,1024.6 L2072.5,1024.9 L2073.8,1025.0 L2075.1,1025.1 L2076.4,1025.1 L2077.7,1025.1 L2079.0,1025.1 L2080.3,1025.1 L2081.5,1025.0 L2082.8,1025.0 L2084.1,1024.8 L2085.4,1024.6 L2086.7,1024.4 L2088.0,1024.2 L2089.3,1024.0 L2090.6,1023.8 L2091.9,1023.7 L2093.2,1023.5 L2094.5,1023.3 L2095.8,1022.9 L2097.1,1022.4 L2098.3,1021.9 L2099.6,1021.2 L2100.9,1020.5 L2102.2,1019.9 L2103.5,1019.3 L2104.8,1018.7 L2106.1,1018.3 L2107.4,1017.9 L2108.7,1017.6 L2110.0,1017.4 L2111.3,1017.4 L2112.6,1017.5 L2113.9,1017.8 L2115.1,1018.2 L2116.4,1018.7 L2117.7,1019.4 L2119.0,1020.0 L2120.3,1020.7 L2121.6,1021.3 L2122.9,1021.8 L2124.2,1022.2 L2125.5,1022.3 L2126.8,1022.4 L2128.1,1022.3 L2129.4,1022.2 L2130.7,1022.0 L2131.9,1021.9 L2133.2,1021.8 L2134.5,1021.7 L2135.8,1021.5 L2137.1,1021.4 L2138.4,1021.3 L2139.7,1021.2 L2141.0,1021.2 L2142.3,1021.4 L2143.6,1021.7 L2144.9,1022.2 L2146.2,1022.8 L2147.5,1023.4 L2148.7,1023.9 L2150.0,1024.4 L2151.3,1024.8 L2152.6,1025.1 L2153.9,1025.2 L2155.2,1025.2 L2156.5,1025.1 L2157.8,1024.9 L2159.1,1024.7 L2160.4,1024.6 L2161.7,1024.5 L2163.0,1024.6 L2164.3,1024.9 L2165.6,1025.1 L2166.8,1025.3 L2168.1,1025.2 L2169.4,1025.0 L2170.7,1024.5 L2172.0,1023.9 L2173.3,1023.2 L2174.6,1022.4 L2175.9,1021.7 L2177.2,1021.0 L2178.5,1020.4 L2179.8,1019.9 L2181.1,1019.4 L2182.4,1018.9 L2183.6,1018.4 L2184.9,1018.1 L2186.2,1018.0 L2187.5,1018.0 L2188.8,1018.2 L2190.1,1018.6 L2191.4,1019.2 L2192.7,1019.8 L2194.0,1020.4 L2195.3,1020.9 L2196.6,1021.4 L2197.9,1021.8 L2199.2,1022.2 L2200.4,1022.6 L2201.7,1022.9 L2203.0,1023.1 L2204.3,1023.2 L2205.6,1023.2 L2206.9,1023.3 L2208.2,1023.4 L2209.5,1023.5 L2210.8,1023.8 L2212.1,1024.2 L2213.4,1024.6 L2214.7,1025.1 L2216.0,1025.7 L2217.2,1026.1 L2218.5,1026.6 L2219.8,1026.9 L2221.1,1027.2 L2222.4,1027.3 L2223.7,1027.3 L2225.0,1027.2 L2226.3,1027.1 L2227.6,1026.9 L2228.9,1026.8 L2230.2,1026.7 L2231.5,1026.7 L2232.8,1026.7 L2234.0,1026.7 L2235.3,1026.6 L2236.6,1026.6 L2237.9,1026.5 L2239.2,1026.3 L2240.5,1026.0 L2241.8,1025.7 L2243.1,1025.4 L2244.4,1025.0 L2245.7,1024.5 L2247.0,1024.0 L2248.3,1023.6 L2249.6,1023.1 L2250.8,1022.7 L2252.1,1022.1 L2253.4,1021.5 L2254.7,1020.7 L2256.0,1019.6 L2257.3,1018.3 L2258.6,1016.8 L2259.9,1015.1 L2261.2,1013.3 L2262.5,1011.5 L2263.8,1009.8 L2265.1,1008.3 L2266.4,1007.0 L2267.7,1006.0 L2268.9,1005.4 L2270.2,1005.3 L2271.5,1005.6 L2272.8,1006.4 L2274.1,1007.6 L2275.4,1009.2 L2276.7,1011.0 L2278.0,1012.9 L2279.3,1014.8 L2280.6,1016.6 L2281.9,1018.2 L2283.2,1019.7 L2284.5,1021.0 L2285.7,1022.1 L2287.0,1023.1 L2288.3,1023.9 L2289.6,1024.4 L2290.9,1024.7 L2292.2,1024.8 L2293.5,1024.8 L2294.8,1024.8 L2296.1,1024.7 L2297.4,1024.6 L2298.7,1024.5 L2300.0,1024.4 L2301.3,1024.2 L2302.5,1024.1 L2303.8,1024.0 L2305.1,1023.9 L2306.4,1023.8 L2307.7,1023.9 L2309.0,1024.1 L2310.3,1024.5 L2311.6,1025.1 L2312.9,1025.8 L2314.2,1026.5 L2315.5,1027.0 L2316.8,1027.2 L2318.1,1027.2" fill="none" stroke="#008000" stroke-width="10.5" stroke-linejoin="round" stroke-linecap="butt"/>
<path d="M167.5,863.7 L168.8,863.6 L170.1,863.4 L171.4,863.2 L172.7,863.1 L174.0,863.1 L175.3,863.2 L176.5,863.4 L177.8,863.6 L179.1,863.7 L180.4,863.7 L181.7,863.6 L183.0,863.2 L184.3,862.8 L185.6,862.4 L186.9,862.1 L188.2,862.1 L189.5,862.3 L190.8,862.5 L192.1,862.8 L193.3,863.1 L194.6,863.2 L195.9,863.3 L197.2,863.3 L198.5,863.4 L199.8,863.4 L201.1,863.4 L202.4,863.5 L203.7,863.5 L205.0,863.4 L206.3,863.3 L207.6,863.2 L208.9,863.1 L210.1,862.9 L211.4,862.9 L212.7,862.8 L214.0,862.7 L215.3,862.6 L216.6,862.5 L217.9,862.4 L219.2,862.4 L220.5,862.4 L221.8,862.5 L223.1,862.6 L224.4,862.7 L225.7,862.8 L227.0,862.8 L228.2,862.9 L229.5,862.9 L230.8,862.8 L232.1,862.7 L233.4,862.5 L234.7,862.3 L236.0,862.0 L237.3,861.9 L238.6,861.8 L239.9,861.9 L241.2,862.0 L242.5,862.2 L243.8,862.3 L245.0,862.4 L246.3,862.4 L247.6,862.2 L248.9,861.9 L250.2,861.5 L251.5,861.1 L252.8,860.6 L254.1,860.1 L255.4,859.7 L256.7,859.5 L258.0,859.4 L259.3,859.5 L260.6,859.7 L261.8,860.0 L263.1,860.3 L264.4,860.5 L265.7,860.7 L267.0,860.9 L268.3,861.0 L269.6,861.0 L270.9,860.8 L272.2,860.3 L273.5,859.4 L274.8,857.9 L276.1,856.1 L277.4,853.8 L278.6,851.4 L279.9,848.9 L281.2,846.5 L282.5,844.5 L283.8,842.9 L285.1,841.9 L286.4,841.7 L287.7,842.3 L289.0,843.5 L290.3,845.2 L291.6,847.3 L292.9,849.6 L294.2,851.9 L295.4,854.0 L296.7,856.0 L298.0,857.5 L299.3,858.8 L300.6,859.7 L301.9,860.4 L303.2,860.8 L304.5,861.1 L305.8,861.2 L307.1,861.2 L308.4,861.2 L309.7,861.2 L311.0,861.2 L312.2,861.2 L313.5,861.3 L314.8,861.4 L316.1,861.6 L317.4,861.7 L318.7,862.0 L320.0,862.2 L321.3,862.3 L322.6,862.4 L323.9,862.5 L325.2,862.6 L326.5,862.7 L327.8,862.8 L329.1,862.9 L330.3,863.0 L331.6,863.0 L332.9,862.9 L334.2,862.7 L335.5,862.5 L336.8,862.3 L338.1,862.2 L339.4,862.3 L340.7,862.4 L342.0,862.5 L343.3,862.7 L344.6,862.7 L345.9,862.6 L347.1,862.4 L348.4,862.1 L349.7,861.8 L351.0,861.6 L352.3,861.3 L353.6,861.0 L354.9,860.7 L356.2,860.3 L357.5,859.9 L358.8,859.5 L360.1,859.2 L361.4,858.7 L362.7,858.2 L363.9,857.5 L365.2,856.6 L366.5,855.4 L367.8,853.9 L369.1,852.1 L370.4,849.9 L371.7,847.5 L373.0,844.8 L374.3,842.0 L375.6,839.3 L376.9,836.9 L378.2,834.8 L379.5,833.3 L380.7,832.4 L382.0,832.2 L383.3,832.6 L384.6,833.3 L385.9,834.2 L387.2,835.0 L388.5,835.5 L389.8,835.8 L391.1,835.8 L392.4,835.7 L393.7,835.6 L395.0,835.6 L396.3,835.7 L397.5,836.0 L398.8,836.4 L400.1,836.9 L401.4,837.4 L402.7,838.0 L404.0,838.6 L405.3,839.2 L406.6,839.8 L407.9,840.4 L409.2,840.9 L410.5,841.4 L411.8,841.9 L413.1,842.4 L414.3,843.1 L415.6,844.0 L416.9,845.0 L418.2,846.2 L419.5,847.4 L420.8,848.6 L422.1,849.8 L423.4,850.9 L424.7,852.0 L426.0,853.0 L427.3,854.1 L428.6,855.1 L429.9,856.0 L431.1,856.9 L432.4,857.6 L433.7,858.2 L435.0,858.7 L436.3,859.1 L437.6,859.3 L438.9,859.3 L440.2,859.2 L441.5,858.8 L442.8,858.2 L444.1,857.4 L445.4,856.6 L446.7,855.9 L448.0,855.4 L449.2,855.2 L450.5,855.1 L451.8,855.3 L453.1,855.6 L454.4,856.0 L455.7,856.6 L457.0,857.2 L458.3,858.0 L459.6,858.7 L460.9,859.3 L462.2,859.8 L463.5,859.9 L464.8,859.7 L466.0,859.2 L467.3,858.3 L468.6,857.2 L469.9,855.9 L471.2,854.6 L472.5,853.3 L473.8,852.0 L475.1,850.9 L476.4,850.1 L477.7,849.8 L479.0,850.0 L480.3,850.7 L481.6,851.9 L482.8,853.4 L484.1,854.8 L485.4,856.2 L486.7,857.5 L488.0,858.6 L489.3,859.5 L490.6,860.5 L491.9,861.3 L493.2,862.1 L494.5,862.7 L495.8,863.1 L497.1,863.3 L498.4,863.3 L499.6,863.2 L500.9,863.0 L502.2,862.8 L503.5,862.5 L504.8,862.2 L506.1,861.8 L507.4,861.1 L508.7,860.3 L510.0,859.2 L511.3,858.0 L512.6,856.6 L513.9,855.2 L515.2,853.9 L516.4,852.8 L517.7,852.0 L519.0,851.7 L520.3,851.8 L521.6,852.4 L522.9,853.2 L524.2,854.3 L525.5,855.6 L526.8,856.8 L528.1,858.0 L529.4,859.0 L530.7,859.8 L532.0,860.4 L533.2,860.8 L534.5,861.2 L535.8,861.5 L537.1,861.8 L538.4,862.1 L539.7,862.5 L541.0,862.8 L542.3,863.0 L543.6,863.2 L544.9,863.1 L546.2,863.0 L547.5,862.8 L548.8,862.6 L550.1,862.5 L551.3,862.5 L552.6,862.6 L553.9,862.8 L555.2,862.9 L556.5,863.0 L557.8,862.9 L559.1,862.8 L560.4,862.7 L561.7,862.6 L563.0,862.5 L564.3,862.6 L565.6,862.6 L566.9,862.6 L568.1,862.5 L569.4,862.3 L570.7,861.9 L572.0,861.5 L573.3,861.0 L574.6,860.5 L575.9,859.9 L577.2,859.4 L578.5,858.9 L579.8,858.3 L581.1,857.7 L582.4,857.0 L583.7,856.3 L584.9,855.8 L586.2,855.5 L587.5,855.5 L588.8,855.7 L590.1,856.1 L591.4,856.5 L592.7,856.9 L594.0,857.1 L595.3,856.9 L596.6,856.3 L597.9,855.0 L599.2,852.9 L600.5,849.9 L601.7,845.8 L603.0,840.6 L604.3,834.1 L605.6,826.7 L606.9,818.5 L608.2,810.1 L609.5,802.3 L610.8,795.7 L612.1,790.9 L613.4,788.3 L614.7,788.1 L616.0,790.0 L617.3,793.5 L618.5,798.0 L619.8,802.9 L621.1,807.8 L622.4,812.6 L623.7,817.1 L625.0,821.5 L626.3,825.9 L627.6,830.2 L628.9,834.4 L630.2,838.2 L631.5,841.4 L632.8,843.7 L634.1,845.1 L635.3,845.5 L636.6,844.9 L637.9,843.4 L639.2,841.2 L640.5,838.7 L641.8,836.1 L643.1,833.7 L644.4,831.6 L645.7,829.9 L647.0,828.7 L648.3,827.9 L649.6,827.8 L650.9,828.1 L652.2,828.9 L653.4,829.8 L654.7,830.7 L656.0,831.4 L657.3,832.0 L658.6,832.3 L659.9,832.1 L661.2,831.4 L662.5,829.8 L663.8,827.2 L665.1,823.6 L666.4,819.0 L667.7,813.8 L669.0,808.5 L670.2,803.5 L671.5,799.1 L672.8,795.2 L674.1,791.6 L675.4,788.0 L676.7,784.5 L678.0,781.3 L679.3,778.9 L680.6,778.3 L681.9,779.9 L683.2,784.1 L684.5,790.7 L685.8,799.2 L687.0,808.7 L688.3,818.2 L689.6,827.1 L690.9,834.8 L692.2,840.8 L693.5,845.3 L694.8,848.3 L696.1,850.1 L697.4,851.1 L698.7,851.4 L700.0,851.3 L701.3,850.8 L702.6,849.9 L703.8,848.4 L705.1,846.0 L706.4,842.4 L707.7,837.3 L709.0,830.5 L710.3,822.1 L711.6,812.2 L712.9,801.4 L714.2,790.3 L715.5,779.7 L716.8,770.7 L718.1,764.2 L719.4,761.0 L720.6,761.6 L721.9,765.9 L723.2,773.4 L724.5,783.2 L725.8,794.4 L727.1,806.0 L728.4,817.3 L729.7,827.6 L731.0,836.4 L732.3,843.6 L733.6,849.2 L734.9,853.4 L736.2,856.4 L737.4,858.6 L738.7,860.2 L740.0,861.3 L741.3,862.0 L742.6,862.4 L743.9,862.7 L745.2,862.8 L746.5,862.8 L747.8,862.8 L749.1,862.7 L750.4,862.6 L751.7,862.6 L753.0,862.7 L754.2,862.8 L755.5,863.0 L756.8,863.1 L758.1,863.1 L759.4,863.1 L760.7,863.0 L762.0,862.9 L763.3,862.7 L764.6,862.6 L765.9,862.4 L767.2,862.2 L768.5,862.0 L769.8,861.8 L771.1,861.7 L772.3,861.7 L773.6,861.7 L774.9,861.7 L776.2,861.7 L777.5,861.5 L778.8,861.3 L780.1,861.1 L781.4,860.9 L782.7,860.6 L784.0,860.3 L785.3,859.9 L786.6,859.5 L787.9,859.1 L789.1,858.8 L790.4,858.7 L791.7,858.7 L793.0,858.7 L794.3,858.9 L795.6,859.0 L796.9,859.1 L798.2,859.2 L799.5,859.2 L800.8,859.2 L802.1,859.2 L803.4,859.2 L804.7,859.2 L805.9,859.3 L807.2,859.5 L808.5,859.7 L809.8,859.9 L811.1,860.0 L812.4,859.9 L813.7,859.5 L815.0,858.9 L816.3,858.2 L817.6,857.3 L818.9,856.4 L820.2,855.5 L821.5,854.5 L822.7,853.4 L824.0,852.1 L825.3,850.8 L826.6,849.5 L827.9,848.3 L829.2,847.3 L830.5,846.7 L831.8,846.3 L833.1,846.3 L834.4,846.5 L835.7,847.1 L837.0,847.9 L838.3,848.9 L839.5,850.1 L840.8,851.4 L842.1,852.6 L843.4,853.8 L844.7,854.8 L846.0,855.7 L847.3,856.3 L848.6,856.9 L849.9,857.3 L851.2,857.5 L852.5,857.5 L853.8,857.4 L855.1,857.2 L856.3,856.9 L857.6,856.5 L858.9,856.1 L860.2,855.5 L861.5,854.9 L862.8,854.2 L864.1,853.5 L865.4,852.8 L866.7,852.3 L868.0,851.8 L869.3,851.4 L870.6,851.0 L871.9,850.7 L873.2,850.4 L874.4,850.3 L875.7,850.4 L877.0,850.5 L878.3,850.6 L879.6,850.8 L880.9,851.0 L882.2,851.2 L883.5,851.6 L884.8,852.2 L886.1,852.9 L887.4,853.6 L888.7,854.4 L890.0,855.0 L891.2,855.5 L892.5,855.9 L893.8,856.3 L895.1,856.7 L896.4,857.1 L897.7,857.6 L899.0,858.1 L900.3,858.7 L901.6,859.2 L902.9,859.6 L904.2,859.9 L905.5,860.2 L906.8,860.5 L908.0,860.8 L909.3,861.1 L910.6,861.4 L911.9,861.6 L913.2,861.6 L914.5,861.5 L915.8,861.3 L917.1,861.0 L918.4,860.7 L919.7,860.2 L921.0,859.7 L922.3,859.1 L923.6,858.5 L924.8,858.2 L926.1,858.2 L927.4,858.5 L928.7,859.0 L930.0,859.6 L931.3,860.1 L932.6,860.4 L933.9,860.4 L935.2,860.2 L936.5,859.8 L937.8,859.4 L939.1,859.1 L940.4,858.9 L941.6,858.8 L942.9,858.9 L944.2,859.0 L945.5,859.2 L946.8,859.4 L948.1,859.6 L949.4,859.8 L950.7,860.1 L952.0,860.4 L953.3,860.8 L954.6,861.3 L955.9,861.8 L957.2,862.3 L958.4,862.7 L959.7,863.0 L961.0,863.3 L962.3,863.6 L963.6,863.6 L964.9,863.5 L966.2,863.1 L967.5,862.4 L968.8,861.4 L970.1,860.2 L971.4,858.8 L972.7,857.1 L974.0,855.2 L975.3,853.2 L976.5,851.0 L977.8,848.6 L979.1,846.1 L980.4,843.6 L981.7,841.2 L983.0,839.1 L984.3,837.4 L985.6,836.3 L986.9,835.8 L988.2,835.8 L989.5,836.3 L990.8,837.2 L992.1,838.5 L993.3,839.9 L994.6,841.3 L995.9,842.7 L997.2,843.9 L998.5,844.9 L999.8,845.7 L1001.1,846.4 L1002.4,847.1 L1003.7,847.9 L1005.0,848.8 L1006.3,850.0 L1007.6,851.3 L1008.9,852.7 L1010.1,854.1 L1011.4,855.4 L1012.7,856.6 L1014.0,857.7 L1015.3,858.6 L1016.6,859.3 L1017.9,859.9 L1019.2,860.4 L1020.5,860.6 L1021.8,860.6 L1023.1,860.4 L1024.4,860.0 L1025.7,859.4 L1026.9,858.4 L1028.2,857.1 L1029.5,855.5 L1030.8,853.5 L1032.1,851.3 L1033.4,848.9 L1034.7,846.3 L1036.0,843.7 L1037.3,841.2 L1038.6,838.9 L1039.9,837.0 L1041.2,835.8 L1042.5,835.2 L1043.7,835.4 L1045.0,836.2 L1046.3,837.8 L1047.6,839.8 L1048.9,842.4 L1050.2,845.3 L1051.5,848.3 L1052.8,851.3 L1054.1,853.9 L1055.4,856.1 L1056.7,857.9 L1058.0,859.3 L1059.3,860.4 L1060.5,861.2 L1061.8,861.8 L1063.1,862.2 L1064.4,862.5 L1065.7,862.6 L1067.0,862.7 L1068.3,862.8 L1069.6,862.8 L1070.9,862.8 L1072.2,862.9 L1073.5,863.0 L1074.8,863.0 L1076.1,863.0 L1077.3,863.0 L1078.6,862.9 L1079.9,863.0 L1081.2,863.0 L1082.5,863.1 L1083.8,863.2 L1085.1,863.3 L1086.4,863.5 L1087.7,863.7 L1089.0,863.8 L1090.3,863.9 L1091.6,863.8 L1092.9,863.6 L1094.2,863.3 L1095.4,863.1 L1096.7,862.9 L1098.0,862.8 L1099.3,862.7 L1100.6,862.7 L1101.9,862.8 L1103.2,862.9 L1104.5,863.0 L1105.8,863.0 L1107.1,863.0 L1108.4,862.9 L1109.7,862.7 L1111.0,862.4 L1112.2,862.2 L1113.5,862.0 L1114.8,861.9 L1116.1,861.8 L1117.4,861.7 L1118.7,861.5 L1120.0,861.2 L1121.3,860.9 L1122.6,860.6 L1123.9,860.3 L1125.2,860.0 L1126.5,859.8 L1127.8,859.7 L1129.0,859.6 L1130.3,859.6 L1131.6,859.7 L1132.9,859.9 L1134.2,860.2 L1135.5,860.6 L1136.8,861.1 L1138.1,861.5 L1139.4,861.8 L1140.7,862.0 L1142.0,862.1 L1143.3,861.9 L1144.6,861.7 L1145.8,861.5 L1147.1,861.3 L1148.4,861.0 L1149.7,860.6 L1151.0,860.0 L1152.3,859.2 L1153.6,858.3 L1154.9,857.2 L1156.2,856.0 L1157.5,854.9 L1158.8,853.8 L1160.1,852.7 L1161.4,851.8 L1162.6,851.0 L1163.9,850.5 L1165.2,850.3 L1166.5,850.4 L1167.8,850.9 L1169.1,851.7 L1170.4,852.6 L1171.7,853.6 L1173.0,854.6 L1174.3,855.5 L1175.6,856.4 L1176.9,857.2 L1178.2,857.9 L1179.4,858.3 L1180.7,858.4 L1182.0,858.1 L1183.3,857.4 L1184.6,856.1 L1185.9,854.5 L1187.2,852.4 L1188.5,850.0 L1189.8,847.3 L1191.1,844.5 L1192.4,841.8 L1193.7,839.3 L1195.0,837.2 L1196.3,835.5 L1197.5,834.4 L1198.8,833.7 L1200.1,833.6 L1201.4,834.0 L1202.7,834.8 L1204.0,836.0 L1205.3,837.5 L1206.6,839.1 L1207.9,840.9 L1209.2,842.6 L1210.5,844.1 L1211.8,845.4 L1213.1,846.4 L1214.3,847.3 L1215.6,848.0 L1216.9,848.8 L1218.2,849.6 L1219.5,850.5 L1220.8,851.4 L1222.1,852.3 L1223.4,853.3 L1224.7,854.2 L1226.0,855.0 L1227.3,855.8 L1228.6,856.5 L1229.9,857.1 L1231.1,857.5 L1232.4,857.7 L1233.7,857.8 L1235.0,857.5 L1236.3,857.0 L1237.6,856.3 L1238.9,855.5 L1240.2,854.6 L1241.5,853.8 L1242.8,853.1 L1244.1,852.5 L1245.4,852.1 L1246.7,852.0 L1247.9,852.1 L1249.2,852.4 L1250.5,852.9 L1251.8,853.5 L1253.1,854.4 L1254.4,855.3 L1255.7,856.3 L1257.0,857.3 L1258.3,858.2 L1259.6,858.9 L1260.9,859.5 L1262.2,859.9 L1263.5,860.2 L1264.7,860.4 L1266.0,860.6 L1267.3,860.8 L1268.6,861.1 L1269.9,861.3 L1271.2,861.6 L1272.5,861.9 L1273.8,862.1 L1275.1,862.4 L1276.4,862.6 L1277.7,862.9 L1279.0,863.1 L1280.3,863.2 L1281.5,863.2 L1282.8,863.0 L1284.1,862.6 L1285.4,862.1 L1286.7,861.5 L1288.0,860.8 L1289.3,860.0 L1290.6,859.0 L1291.9,857.9 L1293.2,856.4 L1294.5,854.7 L1295.8,852.6 L1297.1,850.0 L1298.4,847.0 L1299.6,843.6 L1300.9,840.0 L1302.2,836.3 L1303.5,832.7 L1304.8,829.5 L1306.1,826.7 L1307.4,824.6 L1308.7,823.3 L1310.0,822.8 L1311.3,823.3 L1312.6,824.4 L1313.9,826.2 L1315.2,828.2 L1316.4,830.4 L1317.7,832.5 L1319.0,834.5 L1320.3,836.4 L1321.6,838.2 L1322.9,840.0 L1324.2,841.9 L1325.5,843.8 L1326.8,845.7 L1328.1,847.6 L1329.4,849.4 L1330.7,851.0 L1332.0,852.6 L1333.2,854.0 L1334.5,855.2 L1335.8,856.3 L1337.1,857.2 L1338.4,857.8 L1339.7,858.2 L1341.0,858.3 L1342.3,858.2 L1343.6,857.9 L1344.9,857.4 L1346.2,856.9 L1347.5,856.3 L1348.8,855.7 L1350.0,854.9 L1351.3,854.0 L1352.6,853.0 L1353.9,852.1 L1355.2,851.3 L1356.5,850.8 L1357.8,850.5 L1359.1,850.5 L1360.4,850.8 L1361.7,851.2 L1363.0,851.7 L1364.3,852.3 L1365.6,853.0 L1366.8,853.6 L1368.1,854.2 L1369.4,854.8 L1370.7,855.2 L1372.0,855.6 L1373.3,855.8 L1374.6,855.9 L1375.9,855.8 L1377.2,855.8 L1378.5,855.8 L1379.8,855.8 L1381.1,855.9 L1382.4,856.0 L1383.6,856.1 L1384.9,856.1 L1386.2,856.1 L1387.5,856.0 L1388.8,856.0 L1390.1,856.1 L1391.4,856.4 L1392.7,856.8 L1394.0,857.3 L1395.3,857.8 L1396.6,858.4 L1397.9,859.0 L1399.2,859.7 L1400.4,860.3 L1401.7,860.8 L1403.0,861.3 L1404.3,861.8 L1405.6,862.2 L1406.9,862.5 L1408.2,862.7 L1409.5,863.0 L1410.8,863.1 L1412.1,863.3 L1413.4,863.3 L1414.7,863.3 L1416.0,863.2 L1417.3,863.1 L1418.5,862.8 L1419.8,862.6 L1421.1,862.3 L1422.4,862.1 L1423.7,862.0 L1425.0,861.9 L1426.3,861.9 L1427.6,861.8 L1428.9,861.7 L1430.2,861.5 L1431.5,861.2 L1432.8,861.0 L1434.1,860.9 L1435.3,860.8 L1436.6,860.7 L1437.9,860.5 L1439.2,860.1 L1440.5,859.5 L1441.8,858.7 L1443.1,857.7 L1444.4,856.6 L1445.7,855.4 L1447.0,854.2 L1448.3,853.2 L1449.6,852.3 L1450.9,851.6 L1452.1,851.1 L1453.4,850.8 L1454.7,850.7 L1456.0,850.6 L1457.3,850.6 L1458.6,850.5 L1459.9,850.2 L1461.2,849.9 L1462.5,849.4 L1463.8,848.9 L1465.1,848.5 L1466.4,848.1 L1467.7,847.9 L1468.9,847.9 L1470.2,848.2 L1471.5,848.6 L1472.8,849.3 L1474.1,850.1 L1475.4,851.1 L1476.7,852.2 L1478.0,853.4 L1479.3,854.6 L1480.6,855.9 L1481.9,857.1 L1483.2,858.1 L1484.5,859.0 L1485.7,859.8 L1487.0,860.3 L1488.3,860.7 L1489.6,861.0 L1490.9,861.1 L1492.2,861.1 L1493.5,861.0 L1494.8,860.7 L1496.1,860.4 L1497.4,859.9 L1498.7,859.3 L1500.0,858.5 L1501.3,857.7 L1502.5,856.9 L1503.8,856.0 L1505.1,855.1 L1506.4,854.2 L1507.7,853.3 L1509.0,852.5 L1510.3,851.8 L1511.6,851.2 L1512.9,850.7 L1514.2,850.3 L1515.5,850.0 L1516.8,849.7 L1518.1,849.5 L1519.4,849.4 L1520.6,849.3 L1521.9,849.2 L1523.2,849.0 L1524.5,848.8 L1525.8,848.4 L1527.1,848.0 L1528.4,847.4 L1529.7,846.7 L1531.0,846.1 L1532.3,845.5 L1533.6,845.2 L1534.9,845.1 L1536.2,845.4 L1537.4,845.9 L1538.7,846.8 L1540.0,847.9 L1541.3,849.2 L1542.6,850.6 L1543.9,852.1 L1545.2,853.7 L1546.5,855.1 L1547.8,856.5 L1549.1,857.8 L1550.4,858.9 L1551.7,859.7 L1553.0,860.5 L1554.2,861.0 L1555.5,861.5 L1556.8,861.9 L1558.1,862.2 L1559.4,862.4 L1560.7,862.5 L1562.0,862.5 L1563.3,862.4 L1564.6,862.2 L1565.9,861.9 L1567.2,861.7 L1568.5,861.4 L1569.8,861.3 L1571.0,861.1 L1572.3,861.0 L1573.6,860.9 L1574.9,860.9 L1576.2,860.9 L1577.5,860.9 L1578.8,860.8 L1580.1,860.5 L1581.4,860.2 L1582.7,859.9 L1584.0,859.7 L1585.3,859.6 L1586.6,859.6 L1587.8,859.7 L1589.1,859.8 L1590.4,860.0 L1591.7,860.2 L1593.0,860.4 L1594.3,860.7 L1595.6,861.1 L1596.9,861.5 L1598.2,861.9 L1599.5,862.3 L1600.8,862.6 L1602.1,862.8 L1603.4,862.8 L1604.6,862.7 L1605.9,862.5 L1607.2,862.3 L1608.5,862.1 L1609.8,862.1 L1611.1,862.1 L1612.4,862.2 L1613.7,862.3 L1615.0,862.4 L1616.3,862.5 L1617.6,862.4 L1618.9,862.1 L1620.2,861.9 L1621.5,861.6 L1622.7,861.4 L1624.0,861.3 L1625.3,861.3 L1626.6,861.3 L1627.9,861.4 L1629.2,861.5 L1630.5,861.5 L1631.8,861.6 L1633.1,861.7 L1634.4,861.7 L1635.7,861.7 L1637.0,861.6 L1638.3,861.5 L1639.5,861.3 L1640.8,861.1 L1642.1,860.8 L1643.4,860.6 L1644.7,860.5 L1646.0,860.4 L1647.3,860.4 L1648.6,860.4 L1649.9,860.5 L1651.2,860.7 L1652.5,860.9 L1653.8,861.2 L1655.1,861.5 L1656.3,861.9 L1657.6,862.2 L1658.9,862.4 L1660.2,862.6 L1661.5,862.6 L1662.8,862.5 L1664.1,862.4 L1665.4,862.3 L1666.7,862.1 L1668.0,862.0 L1669.3,861.7 L1670.6,861.3 L1671.9,860.9 L1673.1,860.4 L1674.4,859.8 L1675.7,859.3 L1677.0,858.8 L1678.3,858.5 L1679.6,858.2 L1680.9,858.0 L1682.2,858.0 L1683.5,858.2 L1684.8,858.4 L1686.1,858.7 L1687.4,859.1 L1688.7,859.5 L1689.9,859.9 L1691.2,860.3 L1692.5,860.8 L1693.8,861.4 L1695.1,861.9 L1696.4,862.4 L1697.7,862.6 L1699.0,862.7 L1700.3,862.6 L1701.6,862.4 L1702.9,862.0 L1704.2,861.5 L1705.5,861.1 L1706.7,860.7 L1708.0,860.4 L1709.3,860.1 L1710.6,859.8 L1711.9,859.5 L1713.2,859.3 L1714.5,859.1 L1715.8,859.0 L1717.1,859.0 L1718.4,859.0 L1719.7,859.0 L1721.0,859.0 L1722.3,858.9 L1723.5,858.7 L1724.8,858.5 L1726.1,858.2 L1727.4,857.8 L1728.7,857.3 L1730.0,856.6 L1731.3,855.7 L1732.6,854.7 L1733.9,853.5 L1735.2,852.3 L1736.5,850.9 L1737.8,849.6 L1739.1,848.3 L1740.4,847.2 L1741.6,846.4 L1742.9,846.0 L1744.2,845.9 L1745.5,846.2 L1746.8,846.8 L1748.1,847.6 L1749.4,848.6 L1750.7,849.7 L1752.0,850.9 L1753.3,852.2 L1754.6,853.6 L1755.9,854.9 L1757.2,856.2 L1758.4,857.4 L1759.7,858.5 L1761.0,859.4 L1762.3,860.3 L1763.6,861.0 L1764.9,861.7 L1766.2,862.2 L1767.5,862.7 L1768.8,863.0 L1770.1,863.3 L1771.4,863.5 L1772.7,863.6 L1774.0,863.7 L1775.2,863.7 L1776.5,863.8 L1777.8,863.8 L1779.1,863.8 L1780.4,863.8 L1781.7,863.7 L1783.0,863.6 L1784.3,863.3 L1785.6,862.9 L1786.9,862.5 L1788.2,862.0 L1789.5,861.5 L1790.8,861.0 L1792.0,860.5 L1793.3,859.9 L1794.6,859.2 L1795.9,858.0 L1797.2,856.4 L1798.5,854.2 L1799.8,851.6 L1801.1,848.7 L1802.4,845.7 L1803.7,842.8 L1805.0,840.4 L1806.3,838.6 L1807.6,837.6 L1808.8,837.4 L1810.1,838.0 L1811.4,839.1 L1812.7,840.7 L1814.0,842.2 L1815.3,843.7 L1816.6,844.7 L1817.9,845.5 L1819.2,845.9 L1820.5,846.1 L1821.8,846.0 L1823.1,845.8 L1824.4,845.3 L1825.6,844.6 L1826.9,843.7 L1828.2,842.9 L1829.5,842.4 L1830.8,842.3 L1832.1,842.9 L1833.4,844.1 L1834.7,845.8 L1836.0,847.9 L1837.3,850.0 L1838.6,852.0 L1839.9,853.7 L1841.2,855.0 L1842.5,855.8 L1843.7,856.3 L1845.0,856.5 L1846.3,856.5 L1847.6,856.5 L1848.9,856.5 L1850.2,856.5 L1851.5,856.6 L1852.8,856.6 L1854.1,856.6 L1855.4,856.5 L1856.7,856.4 L1858.0,856.3 L1859.3,856.3 L1860.5,856.3 L1861.8,856.3 L1863.1,856.2 L1864.4,855.9 L1865.7,855.5 L1867.0,854.8 L1868.3,854.1 L1869.6,853.5 L1870.9,853.2 L1872.2,853.2 L1873.5,853.5 L1874.8,854.2 L1876.1,855.2 L1877.3,856.4 L1878.6,857.7 L1879.9,859.1 L1881.2,860.4 L1882.5,861.6 L1883.8,862.5 L1885.1,863.3 L1886.4,863.9 L1887.7,864.3 L1889.0,864.6 L1890.3,864.7 L1891.6,864.7 L1892.9,864.6 L1894.1,864.4 L1895.4,864.2 L1896.7,863.9 L1898.0,863.6 L1899.3,863.3 L1900.6,863.0 L1901.9,862.7 L1903.2,862.3 L1904.5,861.9 L1905.8,861.5 L1907.1,861.0 L1908.4,860.6 L1909.7,860.2 L1910.9,859.7 L1912.2,859.2 L1913.5,858.6 L1914.8,858.0 L1916.1,857.6 L1917.4,857.2 L1918.7,857.0 L1920.0,856.9 L1921.3,857.0 L1922.6,857.1 L1923.9,857.4 L1925.2,857.7 L1926.5,858.0 L1927.7,858.5 L1929.0,859.0 L1930.3,859.6 L1931.6,860.2 L1932.9,860.9 L1934.2,861.4 L1935.5,861.9 L1936.8,862.3 L1938.1,862.6 L1939.4,863.0 L1940.7,863.2 L1942.0,863.4 L1943.3,863.5 L1944.6,863.5 L1945.8,863.4 L1947.1,863.2 L1948.4,863.0 L1949.7,862.8 L1951.0,862.6 L1952.3,862.4 L1953.6,862.3 L1954.9,862.2 L1956.2,862.1 L1957.5,862.1 L1958.8,862.0 L1960.1,861.8 L1961.4,861.6 L1962.6,861.4 L1963.9,861.1 L1965.2,860.8 L1966.5,860.5 L1967.8,860.4 L1969.1,860.3 L1970.4,860.3 L1971.7,860.4 L1973.0,860.4 L1974.3,860.5 L1975.6,860.6 L1976.9,860.7 L1978.2,860.9 L1979.4,861.2 L1980.7,861.5 L1982.0,861.8 L1983.3,862.1 L1984.6,862.3 L1985.9,862.5 L1987.2,862.6 L1988.5,862.6 L1989.8,862.5 L1991.1,862.3 L1992.4,862.0 L1993.7,861.7 L1995.0,861.5 L1996.2,861.6 L1997.5,861.7 L1998.8,862.0 L2000.1,862.3 L2001.4,862.5 L2002.7,862.7 L2004.0,862.9 L2005.3,863.0 L2006.6,863.0 L2007.9,863.0 L2009.2,862.8 L2010.5,862.6 L2011.8,862.5 L2013.0,862.4 L2014.3,862.4 L2015.6,862.4 L2016.9,862.4 L2018.2,862.3 L2019.5,862.1 L2020.8,861.8 L2022.1,861.6 L2023.4,861.3 L2024.7,861.1 L2026.0,860.9 L2027.3,860.7 L2028.6,860.5 L2029.8,860.2 L2031.1,860.0 L2032.4,859.9 L2033.7,859.8 L2035.0,859.7 L2036.3,859.5 L2037.6,859.3 L2038.9,858.9 L2040.2,858.4 L2041.5,857.9 L2042.8,857.5 L2044.1,857.2 L2045.4,857.1 L2046.6,857.1 L2047.9,857.1 L2049.2,857.2 L2050.5,857.3 L2051.8,857.3 L2053.1,857.4 L2054.4,857.4 L2055.7,857.4 L2057.0,857.3 L2058.3,857.3 L2059.6,857.3 L2060.9,857.5 L2062.2,857.7 L2063.5,858.0 L2064.7,858.4 L2066.0,858.8 L2067.3,859.3 L2068.6,859.6 L2069.9,860.0 L2071.2,860.3 L2072.5,860.6 L2073.8,860.9 L2075.1,861.1 L2076.4,861.2 L2077.7,861.3 L2079.0,861.3 L2080.3,861.3 L2081.5,861.4 L2082.8,861.6 L2084.1,861.9 L2085.4,862.3 L2086.7,862.5 L2088.0,862.6 L2089.3,862.5 L2090.6,862.3 L2091.9,862.1 L2093.2,861.9 L2094.5,861.8 L2095.8,861.6 L2097.1,861.4 L2098.3,861.1 L2099.6,860.6 L2100.9,860.1 L2102.2,859.4 L2103.5,858.5 L2104.8,857.6 L2106.1,856.7 L2107.4,856.0 L2108.7,855.3 L2110.0,854.8 L2111.3,854.4 L2112.6,854.0 L2113.9,853.7 L2115.1,853.6 L2116.4,853.6 L2117.7,853.8 L2119.0,854.3 L2120.3,855.0 L2121.6,855.8 L2122.9,856.7 L2124.2,857.6 L2125.5,858.4 L2126.8,859.0 L2128.1,859.3 L2129.4,859.3 L2130.7,859.2 L2131.9,859.0 L2133.2,858.8 L2134.5,858.6 L2135.8,858.5 L2137.1,858.5 L2138.4,858.6 L2139.7,858.7 L2141.0,858.9 L2142.3,859.0 L2143.6,859.0 L2144.9,859.1 L2146.2,859.1 L2147.5,859.2 L2148.7,859.3 L2150.0,859.5 L2151.3,859.8 L2152.6,860.2 L2153.9,860.6 L2155.2,861.1 L2156.5,861.5 L2157.8,861.7 L2159.1,861.8 L2160.4,861.8 L2161.7,861.8 L2163.0,861.7 L2164.3,861.7 L2165.6,861.6 L2166.8,861.5 L2168.1,861.4 L2169.4,861.1 L2170.7,860.8 L2172.0,860.4 L2173.3,860.1 L2174.6,859.8 L2175.9,859.5 L2177.2,859.2 L2178.5,858.9 L2179.8,858.5 L2181.1,858.0 L2182.4,857.5 L2183.6,856.9 L2184.9,856.3 L2186.2,855.8 L2187.5,855.4 L2188.8,855.1 L2190.1,854.8 L2191.4,854.6 L2192.7,854.5 L2194.0,854.5 L2195.3,854.7 L2196.6,855.1 L2197.9,855.7 L2199.2,856.5 L2200.4,857.3 L2201.7,858.2 L2203.0,859.0 L2204.3,859.7 L2205.6,860.3 L2206.9,860.7 L2208.2,860.9 L2209.5,861.2 L2210.8,861.3 L2212.1,861.5 L2213.4,861.7 L2214.7,861.9 L2216.0,862.2 L2217.2,862.4 L2218.5,862.6 L2219.8,862.7 L2221.1,862.8 L2222.4,862.8 L2223.7,862.8 L2225.0,862.8 L2226.3,862.7 L2227.6,862.7 L2228.9,862.8 L2230.2,862.9 L2231.5,863.1 L2232.8,863.4 L2234.0,863.6 L2235.3,863.7 L2236.6,863.7 L2237.9,863.6 L2239.2,863.4 L2240.5,863.2 L2241.8,863.1 L2243.1,862.9 L2244.4,862.7 L2245.7,862.5 L2247.0,862.3 L2248.3,862.2 L2249.6,862.1 L2250.8,862.0 L2252.1,861.7 L2253.4,861.3 L2254.7,860.7 L2256.0,859.9 L2257.3,858.9 L2258.6,857.8 L2259.9,856.6 L2261.2,855.4 L2262.5,854.0 L2263.8,852.6 L2265.1,851.1 L2266.4,849.7 L2267.7,848.2 L2268.9,846.9 L2270.2,845.9 L2271.5,845.1 L2272.8,844.7 L2274.1,844.7 L2275.4,845.2 L2276.7,846.2 L2278.0,847.5 L2279.3,849.1 L2280.6,850.8 L2281.9,852.5 L2283.2,854.1 L2284.5,855.6 L2285.7,856.9 L2287.0,858.0 L2288.3,858.9 L2289.6,859.7 L2290.9,860.3 L2292.2,860.8 L2293.5,861.2 L2294.8,861.5 L2296.1,861.6 L2297.4,861.6 L2298.7,861.4 L2300.0,861.3 L2301.3,861.1 L2302.5,860.9 L2303.8,860.8 L2305.1,860.7 L2306.4,860.7 L2307.7,860.8 L2309.0,860.9 L2310.3,861.0 L2311.6,861.1 L2312.9,861.2 L2314.2,861.3 L2315.5,861.5 L2316.8,861.8 L2318.1,862.0" fill="none" stroke="#FF8000" stroke-width="10.5" stroke-linejoin="round" stroke-linecap="butt"/>
<path d="M167.5,705.7 L168.8,705.7 L170.1,705.6 L171.4,705.4 L172.7,705.1 L174.0,704.9 L175.3,704.8 L176.5,704.8 L177.8,704.8 L179.1,704.8 L180.4,704.8 L181.7,704.7 L183.0,704.7 L184.3,704.6 L185.6,704.6 L186.9,704.7 L188.2,704.8 L189.5,704.9 L190.8,705.0 L192.1,705.1 L193.3,705.3 L194.6,705.5 L195.9,705.7 L197.2,705.9 L198.5,706.0 L199.8,706.1 L201.1,706.1 L202.4,705.9 L203.7,705.8 L205.0,705.5 L206.3,705.3 L207.6,705.1 L208.9,705.0 L210.1,705.0 L211.4,705.1 L212.7,705.2 L214.0,705.4 L215.3,705.4 L216.6,705.4 L217.9,705.3 L219.2,705.2 L220.5,705.1 L221.8,705.0 L223.1,705.0 L224.4,705.1 L225.7,705.2 L227.0,705.2 L228.2,705.3 L229.5,705.4 L230.8,705.3 L232.1,705.2 L233.4,704.9 L234.7,704.6 L236.0,704.3 L237.3,703.9 L238.6,703.5 L239.9,703.2 L241.2,702.9 L242.5,702.7 L243.8,702.5 L245.0,702.4 L246.3,702.1 L247.6,701.9 L248.9,701.5 L250.2,701.0 L251.5,700.4 L252.8,699.8 L254.1,699.2 L255.4,698.7 L256.7,698.3 L258.0,698.2 L259.3,698.3 L260.6,698.7 L261.8,699.2 L263.1,699.8 L264.4,700.4 L265.7,700.7 L267.0,700.8 L268.3,700.7 L269.6,700.2 L270.9,699.4 L272.2,698.2 L273.5,696.7 L274.8,694.8 L276.1,692.5 L277.4,689.8 L278.6,686.8 L279.9,683.8 L281.2,680.9 L282.5,678.5 L283.8,676.8 L285.1,675.9 L286.4,675.9 L287.7,676.8 L289.0,678.6 L290.3,681.0 L291.6,683.8 L292.9,686.9 L294.2,689.9 L295.4,692.9 L296.7,695.5 L298.0,697.7 L299.3,699.3 L300.6,700.5 L301.9,701.3 L303.2,701.6 L304.5,701.8 L305.8,701.8 L307.1,701.7 L308.4,701.7 L309.7,701.8 L311.0,701.9 L312.2,702.2 L313.5,702.6 L314.8,703.1 L316.1,703.5 L317.4,703.8 L318.7,704.0 L320.0,704.1 L321.3,704.0 L322.6,703.9 L323.9,703.8 L325.2,703.9 L326.5,704.0 L327.8,704.1 L329.1,704.2 L330.3,704.2 L331.6,704.2 L332.9,704.2 L334.2,704.3 L335.5,704.4 L336.8,704.6 L338.1,704.7 L339.4,704.8 L340.7,704.7 L342.0,704.7 L343.3,704.5 L344.6,704.4 L345.9,704.2 L347.1,704.1 L348.4,704.1 L349.7,704.2 L351.0,704.3 L352.3,704.3 L353.6,704.3 L354.9,704.3 L356.2,704.2 L357.5,704.0 L358.8,703.9 L360.1,703.8 L361.4,703.7 L362.7,703.5 L363.9,703.3 L365.2,703.0 L366.5,702.5 L367.8,701.8 L369.1,700.9 L370.4,699.9 L371.7,698.7 L373.0,697.6 L374.3,696.5 L375.6,695.5 L376.9,694.6 L378.2,693.9 L379.5,693.3 L380.7,692.9 L382.0,692.8 L383.3,692.9 L384.6,693.4 L385.9,694.0 L387.2,695.0 L388.5,696.0 L389.8,697.1 L391.1,698.1 L392.4,699.0 L393.7,699.8 L395.0,700.4 L396.3,700.9 L397.5,701.2 L398.8,701.4 L400.1,701.5 L401.4,701.5 L402.7,701.4 L404.0,701.3 L405.3,701.3 L406.6,701.3 L407.9,701.4 L409.2,701.6 L410.5,701.8 L411.8,701.9 L413.1,701.8 L414.3,701.7 L415.6,701.4 L416.9,701.2 L418.2,701.0 L419.5,701.1 L420.8,701.4 L422.1,701.7 L423.4,702.2 L424.7,702.6 L426.0,702.9 L427.3,703.2 L428.6,703.3 L429.9,703.4 L431.1,703.5 L432.4,703.6 L433.7,703.6 L435.0,703.7 L436.3,703.6 L437.6,703.5 L438.9,703.2 L440.2,702.9 L441.5,702.6 L442.8,702.2 L444.1,701.9 L445.4,701.6 L446.7,701.4 L448.0,701.3 L449.2,701.1 L450.5,701.1 L451.8,701.1 L453.1,701.2 L454.4,701.3 L455.7,701.4 L457.0,701.4 L458.3,701.5 L459.6,701.6 L460.9,701.7 L462.2,701.6 L463.5,701.4 L464.8,700.8 L466.0,699.7 L467.3,698.1 L468.6,696.0 L469.9,693.4 L471.2,690.5 L472.5,687.7 L473.8,685.1 L475.1,683.0 L476.4,681.6 L477.7,681.1 L479.0,681.5 L480.3,682.8 L481.6,684.8 L482.8,687.2 L484.1,689.8 L485.4,692.3 L486.7,694.6 L488.0,696.7 L489.3,698.5 L490.6,700.0 L491.9,701.1 L493.2,701.8 L494.5,702.3 L495.8,702.5 L497.1,702.6 L498.4,702.6 L499.6,702.6 L500.9,702.5 L502.2,702.3 L503.5,702.0 L504.8,701.6 L506.1,701.0 L507.4,700.2 L508.7,699.3 L510.0,698.2 L511.3,697.0 L512.6,695.7 L513.9,694.4 L515.2,693.2 L516.4,692.3 L517.7,691.8 L519.0,691.7 L520.3,692.0 L521.6,692.6 L522.9,693.6 L524.2,694.7 L525.5,695.9 L526.8,697.2 L528.1,698.5 L529.4,699.7 L530.7,700.9 L532.0,701.9 L533.2,702.7 L534.5,703.2 L535.8,703.6 L537.1,703.7 L538.4,703.6 L539.7,703.5 L541.0,703.3 L542.3,703.1 L543.6,703.0 L544.9,702.9 L546.2,702.8 L547.5,702.9 L548.8,703.2 L550.1,703.5 L551.3,703.9 L552.6,704.3 L553.9,704.5 L555.2,704.7 L556.5,704.8 L557.8,704.8 L559.1,704.8 L560.4,704.7 L561.7,704.5 L563.0,704.2 L564.3,703.9 L565.6,703.7 L566.9,703.5 L568.1,703.4 L569.4,703.4 L570.7,703.3 L572.0,703.1 L573.3,702.7 L574.6,702.1 L575.9,701.2 L577.2,700.1 L578.5,698.8 L579.8,697.4 L581.1,696.1 L582.4,694.8 L583.7,693.7 L584.9,692.9 L586.2,692.4 L587.5,692.3 L588.8,692.4 L590.1,692.8 L591.4,693.3 L592.7,693.9 L594.0,694.4 L595.3,694.7 L596.6,694.4 L597.9,693.4 L599.2,691.5 L600.5,688.3 L601.7,683.8 L603.0,677.9 L604.3,670.7 L605.6,662.4 L606.9,653.3 L608.2,644.0 L609.5,635.1 L610.8,627.3 L612.1,621.5 L613.4,618.3 L614.7,617.8 L616.0,619.8 L617.3,623.7 L618.5,628.8 L619.8,634.4 L621.1,640.0 L622.4,645.6 L623.7,650.9 L625.0,656.2 L626.3,661.5 L627.6,666.7 L628.9,671.5 L630.2,675.7 L631.5,679.0 L632.8,681.1 L634.1,681.8 L635.3,681.0 L636.6,678.8 L637.9,675.3 L639.2,670.8 L640.5,665.6 L641.8,660.1 L643.1,654.5 L644.4,649.1 L645.7,644.1 L647.0,639.8 L648.3,636.7 L649.6,635.3 L650.9,635.5 L652.2,637.3 L653.4,639.9 L654.7,642.9 L656.0,645.6 L657.3,647.9 L658.6,649.4 L659.9,650.0 L661.2,649.4 L662.5,647.3 L663.8,643.5 L665.1,638.1 L666.4,631.4 L667.7,624.1 L669.0,617.0 L670.2,610.8 L671.5,606.0 L672.8,602.5 L674.1,599.9 L675.4,597.6 L676.7,595.5 L678.0,593.6 L679.3,592.5 L680.6,593.1 L681.9,596.2 L683.2,602.2 L684.5,610.8 L685.8,621.4 L687.0,633.3 L688.3,645.3 L689.6,656.6 L690.9,666.6 L692.2,674.9 L693.5,681.3 L694.8,685.9 L696.1,688.8 L697.4,690.3 L698.7,690.8 L700.0,690.5 L701.3,689.6 L702.6,688.1 L703.8,686.0 L705.1,682.8 L706.4,678.4 L707.7,672.4 L709.0,664.5 L710.3,654.7 L711.6,643.2 L712.9,630.6 L714.2,617.4 L715.5,604.9 L716.8,594.2 L718.1,586.4 L719.4,582.6 L720.6,583.4 L721.9,588.7 L723.2,597.9 L724.5,609.8 L725.8,623.4 L727.1,637.3 L728.4,650.6 L729.7,662.6 L731.0,672.8 L732.3,681.1 L733.6,687.7 L734.9,692.6 L736.2,696.1 L737.4,698.6 L738.7,700.3 L740.0,701.5 L741.3,702.4 L742.6,703.1 L743.9,703.6 L745.2,703.8 L746.5,703.8 L747.8,703.7 L749.1,703.5 L750.4,703.3 L751.7,703.3 L753.0,703.3 L754.2,703.5 L755.5,703.7 L756.8,704.0 L758.1,704.2 L759.4,704.4 L760.7,704.6 L762.0,704.7 L763.3,704.8 L764.6,704.9 L765.9,704.8 L767.2,704.7 L768.5,704.7 L769.8,704.7 L771.1,704.8 L772.3,704.8 L773.6,704.8 L774.9,704.7 L776.2,704.5 L777.5,704.1 L778.8,703.8 L780.1,703.4 L781.4,703.1 L782.7,702.8 L784.0,702.5 L785.3,702.1 L786.6,701.8 L787.9,701.6 L789.1,701.5 L790.4,701.5 L791.7,701.7 L793.0,702.0 L794.3,702.3 L795.6,702.5 L796.9,702.7 L798.2,702.7 L799.5,702.5 L800.8,702.3 L802.1,702.0 L803.4,701.7 L804.7,701.3 L805.9,701.0 L807.2,700.7 L808.5,700.6 L809.8,700.6 L811.1,700.6 L812.4,700.6 L813.7,700.5 L815.0,700.3 L816.3,700.0 L817.6,699.6 L818.9,699.2 L820.2,698.6 L821.5,697.9 L822.7,697.0 L824.0,695.8 L825.3,694.5 L826.6,693.0 L827.9,691.5 L829.2,690.2 L830.5,689.1 L831.8,688.5 L833.1,688.3 L834.4,688.7 L835.7,689.5 L837.0,690.6 L838.3,691.9 L839.5,693.4 L840.8,695.0 L842.1,696.6 L843.4,698.1 L844.7,699.4 L846.0,700.5 L847.3,701.3 L848.6,701.8 L849.9,702.1 L851.2,702.3 L852.5,702.4 L853.8,702.7 L855.1,702.9 L856.3,703.2 L857.6,703.5 L858.9,703.7 L860.2,703.9 L861.5,703.9 L862.8,703.8 L864.1,703.7 L865.4,703.5 L866.7,703.4 L868.0,703.3 L869.3,703.1 L870.6,702.9 L871.9,702.6 L873.2,702.3 L874.4,702.0 L875.7,701.7 L877.0,701.6 L878.3,701.6 L879.6,701.8 L880.9,702.0 L882.2,702.1 L883.5,702.1 L884.8,701.9 L886.1,701.6 L887.4,701.3 L888.7,701.0 L890.0,701.0 L891.2,701.3 L892.5,701.8 L893.8,702.4 L895.1,703.0 L896.4,703.5 L897.7,703.8 L899.0,703.9 L900.3,703.9 L901.6,703.9 L902.9,704.0 L904.2,704.1 L905.5,704.1 L906.8,704.2 L908.0,704.1 L909.3,703.9 L910.6,703.5 L911.9,702.9 L913.2,702.2 L914.5,701.3 L915.8,700.2 L917.1,698.9 L918.4,697.5 L919.7,696.0 L921.0,694.6 L922.3,693.3 L923.6,692.4 L924.8,691.8 L926.1,691.6 L927.4,691.6 L928.7,691.9 L930.0,692.4 L931.3,693.0 L932.6,693.7 L933.9,694.4 L935.2,695.1 L936.5,695.8 L937.8,696.4 L939.1,696.9 L940.4,697.3 L941.6,697.7 L942.9,698.1 L944.2,698.6 L945.5,699.1 L946.8,699.5 L948.1,699.9 L949.4,700.4 L950.7,700.8 L952.0,701.4 L953.3,702.0 L954.6,702.6 L955.9,703.2 L957.2,703.7 L958.4,704.1 L959.7,704.2 L961.0,704.2 L962.3,704.0 L963.6,703.7 L964.9,703.4 L966.2,702.9 L967.5,702.2 L968.8,701.2 L970.1,699.7 L971.4,697.9 L972.7,695.6 L974.0,692.9 L975.3,689.7 L976.5,686.1 L977.8,682.3 L979.1,678.4 L980.4,674.5 L981.7,670.8 L983.0,667.6 L984.3,665.1 L985.6,663.3 L986.9,662.5 L988.2,662.5 L989.5,663.2 L990.8,664.6 L992.1,666.3 L993.3,668.3 L994.6,670.2 L995.9,672.0 L997.2,673.6 L998.5,674.9 L999.8,676.0 L1001.1,677.0 L1002.4,678.0 L1003.7,679.1 L1005.0,680.5 L1006.3,682.2 L1007.6,684.0 L1008.9,686.0 L1010.1,688.1 L1011.4,690.2 L1012.7,692.2 L1014.0,694.2 L1015.3,695.9 L1016.6,697.3 L1017.9,698.4 L1019.2,699.2 L1020.5,699.7 L1021.8,699.9 L1023.1,699.9 L1024.4,699.6 L1025.7,699.0 L1026.9,698.0 L1028.2,696.5 L1029.5,694.6 L1030.8,692.2 L1032.1,689.4 L1033.4,686.3 L1034.7,683.0 L1036.0,679.7 L1037.3,676.6 L1038.6,673.8 L1039.9,671.7 L1041.2,670.3 L1042.5,669.8 L1043.7,670.3 L1045.0,671.7 L1046.3,674.0 L1047.6,676.9 L1048.9,680.3 L1050.2,684.0 L1051.5,687.7 L1052.8,691.2 L1054.1,694.4 L1055.4,697.0 L1056.7,699.1 L1058.0,700.7 L1059.3,701.8 L1060.5,702.6 L1061.8,703.1 L1063.1,703.6 L1064.4,703.9 L1065.7,704.2 L1067.0,704.4 L1068.3,704.6 L1069.6,704.6 L1070.9,704.7 L1072.2,704.7 L1073.5,704.6 L1074.8,704.5 L1076.1,704.4 L1077.3,704.2 L1078.6,704.2 L1079.9,704.2 L1081.2,704.4 L1082.5,704.7 L1083.8,704.9 L1085.1,705.1 L1086.4,705.0 L1087.7,704.8 L1089.0,704.4 L1090.3,704.0 L1091.6,703.7 L1092.9,703.4 L1094.2,703.1 L1095.4,702.9 L1096.7,702.7 L1098.0,702.5 L1099.3,702.2 L1100.6,701.9 L1101.9,701.5 L1103.2,701.1 L1104.5,700.7 L1105.8,700.3 L1107.1,699.9 L1108.4,699.6 L1109.7,699.3 L1111.0,699.2 L1112.2,699.1 L1113.5,699.2 L1114.8,699.4 L1116.1,699.5 L1117.4,699.5 L1118.7,699.3 L1120.0,698.9 L1121.3,698.3 L1122.6,697.6 L1123.9,696.7 L1125.2,695.8 L1126.5,695.0 L1127.8,694.5 L1129.0,694.2 L1130.3,694.1 L1131.6,694.4 L1132.9,694.7 L1134.2,695.2 L1135.5,695.8 L1136.8,696.5 L1138.1,697.3 L1139.4,698.2 L1140.7,699.2 L1142.0,700.2 L1143.3,701.0 L1144.6,701.6 L1145.8,701.9 L1147.1,701.9 L1148.4,701.6 L1149.7,701.1 L1151.0,700.3 L1152.3,699.4 L1153.6,698.4 L1154.9,697.2 L1156.2,695.8 L1157.5,694.4 L1158.8,692.9 L1160.1,691.7 L1161.4,690.6 L1162.6,690.0 L1163.9,689.7 L1165.2,689.7 L1166.5,690.1 L1167.8,690.9 L1169.1,691.8 L1170.4,692.9 L1171.7,694.0 L1173.0,695.2 L1174.3,696.4 L1175.6,697.4 L1176.9,698.3 L1178.2,699.0 L1179.4,699.4 L1180.7,699.6 L1182.0,699.4 L1183.3,699.0 L1184.6,698.3 L1185.9,697.4 L1187.2,696.2 L1188.5,694.9 L1189.8,693.6 L1191.1,692.1 L1192.4,690.7 L1193.7,689.4 L1195.0,688.2 L1196.3,687.1 L1197.5,686.2 L1198.8,685.7 L1200.1,685.5 L1201.4,685.6 L1202.7,685.9 L1204.0,686.5 L1205.3,687.3 L1206.6,688.1 L1207.9,688.9 L1209.2,689.7 L1210.5,690.3 L1211.8,690.9 L1213.1,691.5 L1214.3,692.0 L1215.6,692.6 L1216.9,693.2 L1218.2,693.8 L1219.5,694.4 L1220.8,695.0 L1222.1,695.6 L1223.4,696.3 L1224.7,696.9 L1226.0,697.5 L1227.3,698.0 L1228.6,698.4 L1229.9,698.6 L1231.1,698.6 L1232.4,698.4 L1233.7,697.8 L1235.0,697.1 L1236.3,696.2 L1237.6,695.1 L1238.9,694.0 L1240.2,692.9 L1241.5,691.9 L1242.8,691.0 L1244.1,690.2 L1245.4,689.6 L1246.7,689.1 L1247.9,688.8 L1249.2,688.8 L1250.5,689.1 L1251.8,689.8 L1253.1,690.8 L1254.4,692.1 L1255.7,693.5 L1257.0,695.1 L1258.3,696.6 L1259.6,698.0 L1260.9,699.3 L1262.2,700.4 L1263.5,701.2 L1264.7,701.9 L1266.0,702.5 L1267.3,703.1 L1268.6,703.7 L1269.9,704.1 L1271.2,704.5 L1272.5,704.7 L1273.8,704.7 L1275.1,704.7 L1276.4,704.6 L1277.7,704.4 L1279.0,704.3 L1280.3,704.0 L1281.5,703.7 L1282.8,703.4 L1284.1,702.9 L1285.4,702.4 L1286.7,701.9 L1288.0,701.2 L1289.3,700.3 L1290.6,699.2 L1291.9,697.7 L1293.2,695.7 L1294.5,693.4 L1295.8,690.7 L1297.1,687.7 L1298.4,684.4 L1299.6,680.9 L1300.9,677.3 L1302.2,673.7 L1303.5,670.2 L1304.8,667.1 L1306.1,664.4 L1307.4,662.4 L1308.7,661.2 L1310.0,660.8 L1311.3,661.3 L1312.6,662.7 L1313.9,664.9 L1315.2,667.7 L1316.4,670.9 L1317.7,674.2 L1319.0,677.7 L1320.3,681.0 L1321.6,684.0 L1322.9,686.7 L1324.2,689.0 L1325.5,691.0 L1326.8,692.8 L1328.1,694.4 L1329.4,695.9 L1330.7,697.3 L1332.0,698.6 L1333.2,699.6 L1334.5,700.5 L1335.8,701.1 L1337.1,701.5 L1338.4,701.8 L1339.7,701.9 L1341.0,702.0 L1342.3,701.8 L1343.6,701.6 L1344.9,701.3 L1346.2,700.8 L1347.5,700.3 L1348.8,699.8 L1350.0,699.1 L1351.3,698.4 L1352.6,697.7 L1353.9,697.0 L1355.2,696.4 L1356.5,696.1 L1357.8,696.0 L1359.1,696.1 L1360.4,696.4 L1361.7,696.7 L1363.0,697.1 L1364.3,697.5 L1365.6,697.8 L1366.8,698.0 L1368.1,698.2 L1369.4,698.2 L1370.7,698.2 L1372.0,698.1 L1373.3,697.9 L1374.6,697.7 L1375.9,697.4 L1377.2,697.2 L1378.5,696.8 L1379.8,696.5 L1381.1,696.1 L1382.4,695.7 L1383.6,695.3 L1384.9,695.2 L1386.2,695.2 L1387.5,695.4 L1388.8,695.7 L1390.1,696.2 L1391.4,696.8 L1392.7,697.5 L1394.0,698.2 L1395.3,699.0 L1396.6,699.7 L1397.9,700.4 L1399.2,701.0 L1400.4,701.5 L1401.7,702.1 L1403.0,702.5 L1404.3,703.0 L1405.6,703.5 L1406.9,703.9 L1408.2,704.1 L1409.5,704.3 L1410.8,704.3 L1412.1,704.4 L1413.4,704.4 L1414.7,704.4 L1416.0,704.5 L1417.3,704.5 L1418.5,704.5 L1419.8,704.4 L1421.1,704.3 L1422.4,704.3 L1423.7,704.4 L1425.0,704.5 L1426.3,704.6 L1427.6,704.7 L1428.9,704.6 L1430.2,704.3 L1431.5,703.9 L1432.8,703.3 L1434.1,702.9 L1435.3,702.5 L1436.6,702.2 L1437.9,701.9 L1439.2,701.5 L1440.5,701.0 L1441.8,700.3 L1443.1,699.6 L1444.4,698.9 L1445.7,698.3 L1447.0,697.7 L1448.3,697.2 L1449.6,696.6 L1450.9,696.1 L1452.1,695.5 L1453.4,695.1 L1454.7,694.9 L1456.0,694.8 L1457.3,694.9 L1458.6,695.0 L1459.9,695.1 L1461.2,695.1 L1462.5,695.1 L1463.8,694.9 L1465.1,694.7 L1466.4,694.5 L1467.7,694.3 L1468.9,694.2 L1470.2,694.4 L1471.5,694.8 L1472.8,695.5 L1474.1,696.4 L1475.4,697.3 L1476.7,698.1 L1478.0,698.8 L1479.3,699.4 L1480.6,699.9 L1481.9,700.4 L1483.2,700.9 L1484.5,701.4 L1485.7,701.8 L1487.0,702.2 L1488.3,702.5 L1489.6,702.7 L1490.9,702.8 L1492.2,702.8 L1493.5,702.7 L1494.8,702.5 L1496.1,702.2 L1497.4,701.8 L1498.7,701.2 L1500.0,700.4 L1501.3,699.4 L1502.5,698.3 L1503.8,697.1 L1505.1,695.9 L1506.4,694.9 L1507.7,694.0 L1509.0,693.1 L1510.3,692.3 L1511.6,691.7 L1512.9,691.1 L1514.2,690.7 L1515.5,690.5 L1516.8,690.3 L1518.1,690.2 L1519.4,690.1 L1520.6,690.0 L1521.9,689.8 L1523.2,689.6 L1524.5,689.2 L1525.8,688.7 L1527.1,688.1 L1528.4,687.4 L1529.7,686.6 L1531.0,685.7 L1532.3,684.9 L1533.6,684.3 L1534.9,684.0 L1536.2,684.1 L1537.4,684.6 L1538.7,685.5 L1540.0,686.7 L1541.3,688.1 L1542.6,689.8 L1543.9,691.6 L1545.2,693.3 L1546.5,695.0 L1547.8,696.5 L1549.1,697.9 L1550.4,699.1 L1551.7,700.2 L1553.0,701.2 L1554.2,701.9 L1555.5,702.6 L1556.8,703.0 L1558.1,703.4 L1559.4,703.7 L1560.7,703.9 L1562.0,704.1 L1563.3,704.2 L1564.6,704.2 L1565.9,704.1 L1567.2,703.9 L1568.5,703.8 L1569.8,703.6 L1571.0,703.4 L1572.3,703.3 L1573.6,703.0 L1574.9,702.8 L1576.2,702.4 L1577.5,701.9 L1578.8,701.4 L1580.1,701.0 L1581.4,700.6 L1582.7,700.3 L1584.0,700.2 L1585.3,700.3 L1586.6,700.5 L1587.8,700.9 L1589.1,701.4 L1590.4,701.8 L1591.7,702.2 L1593.0,702.6 L1594.3,703.0 L1595.6,703.5 L1596.9,703.9 L1598.2,704.4 L1599.5,704.7 L1600.8,705.0 L1602.1,705.0 L1603.4,704.9 L1604.6,704.7 L1605.9,704.2 L1607.2,703.7 L1608.5,703.1 L1609.8,702.7 L1611.1,702.3 L1612.4,702.2 L1613.7,702.1 L1615.0,702.1 L1616.3,702.1 L1617.6,702.1 L1618.9,702.0 L1620.2,701.9 L1621.5,701.8 L1622.7,701.7 L1624.0,701.7 L1625.3,701.8 L1626.6,702.0 L1627.9,702.2 L1629.2,702.6 L1630.5,702.9 L1631.8,703.2 L1633.1,703.4 L1634.4,703.6 L1635.7,703.6 L1637.0,703.5 L1638.3,703.3 L1639.5,703.0 L1640.8,702.5 L1642.1,701.9 L1643.4,701.3 L1644.7,700.8 L1646.0,700.4 L1647.3,700.2 L1648.6,700.2 L1649.9,700.4 L1651.2,700.5 L1652.5,700.7 L1653.8,701.0 L1655.1,701.2 L1656.3,701.5 L1657.6,701.8 L1658.9,702.2 L1660.2,702.5 L1661.5,702.7 L1662.8,702.7 L1664.1,702.5 L1665.4,702.1 L1666.7,701.5 L1668.0,700.8 L1669.3,700.0 L1670.6,699.1 L1671.9,698.0 L1673.1,696.9 L1674.4,695.7 L1675.7,694.4 L1677.0,693.2 L1678.3,692.3 L1679.6,691.7 L1680.9,691.5 L1682.2,691.7 L1683.5,692.3 L1684.8,693.0 L1686.1,693.8 L1687.4,694.7 L1688.7,695.6 L1689.9,696.4 L1691.2,697.3 L1692.5,698.2 L1693.8,698.9 L1695.1,699.4 L1696.4,699.8 L1697.7,699.9 L1699.0,699.9 L1700.3,699.8 L1701.6,699.7 L1702.9,699.6 L1704.2,699.4 L1705.5,699.1 L1706.7,698.7 L1708.0,698.3 L1709.3,697.9 L1710.6,697.5 L1711.9,697.2 L1713.2,697.0 L1714.5,696.9 L1715.8,697.0 L1717.1,697.3 L1718.4,697.8 L1719.7,698.3 L1721.0,698.8 L1722.3,699.2 L1723.5,699.3 L1724.8,699.2 L1726.1,698.8 L1727.4,698.1 L1728.7,697.0 L1730.0,695.6 L1731.3,693.8 L1732.6,691.8 L1733.9,689.6 L1735.2,687.4 L1736.5,685.3 L1737.8,683.2 L1739.1,681.2 L1740.4,679.5 L1741.6,678.1 L1742.9,677.1 L1744.2,676.7 L1745.5,676.8 L1746.8,677.6 L1748.1,679.0 L1749.4,680.8 L1750.7,683.0 L1752.0,685.3 L1753.3,687.7 L1754.6,689.9 L1755.9,692.0 L1757.2,693.9 L1758.4,695.7 L1759.7,697.4 L1761.0,698.9 L1762.3,700.2 L1763.6,701.2 L1764.9,701.8 L1766.2,702.3 L1767.5,702.7 L1768.8,702.9 L1770.1,703.2 L1771.4,703.5 L1772.7,703.8 L1774.0,704.0 L1775.2,704.1 L1776.5,704.2 L1777.8,704.2 L1779.1,704.1 L1780.4,704.1 L1781.7,704.1 L1783.0,704.1 L1784.3,704.1 L1785.6,704.1 L1786.9,704.1 L1788.2,704.1 L1789.5,704.0 L1790.8,703.8 L1792.0,703.3 L1793.3,702.4 L1794.6,701.1 L1795.9,699.2 L1797.2,696.9 L1798.5,694.2 L1799.8,691.3 L1801.1,688.1 L1802.4,684.9 L1803.7,681.8 L1805.0,679.0 L1806.3,676.8 L1807.6,675.5 L1808.8,675.2 L1810.1,675.9 L1811.4,677.4 L1812.7,679.3 L1814.0,681.3 L1815.3,683.0 L1816.6,684.2 L1817.9,685.0 L1819.2,685.2 L1820.5,685.2 L1821.8,685.0 L1823.1,684.6 L1824.4,684.0 L1825.6,683.3 L1826.9,682.6 L1828.2,682.1 L1829.5,682.0 L1830.8,682.4 L1832.1,683.3 L1833.4,684.7 L1834.7,686.4 L1836.0,688.2 L1837.3,690.0 L1838.6,691.8 L1839.9,693.4 L1841.2,694.8 L1842.5,695.9 L1843.7,696.6 L1845.0,696.9 L1846.3,696.9 L1847.6,696.7 L1848.9,696.5 L1850.2,696.3 L1851.5,696.3 L1852.8,696.3 L1854.1,696.5 L1855.4,696.6 L1856.7,696.8 L1858.0,696.8 L1859.3,696.8 L1860.5,696.7 L1861.8,696.6 L1863.1,696.4 L1864.4,696.1 L1865.7,695.8 L1867.0,695.4 L1868.3,695.0 L1869.6,694.7 L1870.9,694.7 L1872.2,695.0 L1873.5,695.7 L1874.8,696.6 L1876.1,697.8 L1877.3,699.0 L1878.6,700.2 L1879.9,701.3 L1881.2,702.2 L1882.5,702.9 L1883.8,703.3 L1885.1,703.5 L1886.4,703.5 L1887.7,703.6 L1889.0,703.6 L1890.3,703.8 L1891.6,703.9 L1892.9,704.0 L1894.1,704.1 L1895.4,704.1 L1896.7,704.0 L1898.0,704.0 L1899.3,704.0 L1900.6,703.9 L1901.9,703.8 L1903.2,703.6 L1904.5,703.3 L1905.8,703.1 L1907.1,702.7 L1908.4,702.4 L1909.7,701.9 L1910.9,701.3 L1912.2,700.6 L1913.5,699.7 L1914.8,698.8 L1916.1,698.0 L1917.4,697.3 L1918.7,696.9 L1920.0,696.8 L1921.3,696.9 L1922.6,697.1 L1923.9,697.4 L1925.2,697.8 L1926.5,698.1 L1927.7,698.5 L1929.0,698.8 L1930.3,699.2 L1931.6,699.6 L1932.9,699.9 L1934.2,700.3 L1935.5,700.7 L1936.8,701.1 L1938.1,701.6 L1939.4,702.1 L1940.7,702.7 L1942.0,703.2 L1943.3,703.6 L1944.6,703.9 L1945.8,704.2 L1947.1,704.3 L1948.4,704.4 L1949.7,704.3 L1951.0,704.2 L1952.3,703.9 L1953.6,703.6 L1954.9,703.1 L1956.2,702.7 L1957.5,702.4 L1958.8,702.2 L1960.1,702.2 L1961.4,702.3 L1962.6,702.4 L1963.9,702.5 L1965.2,702.6 L1966.5,702.6 L1967.8,702.5 L1969.1,702.4 L1970.4,702.4 L1971.7,702.3 L1973.0,702.3 L1974.3,702.2 L1975.6,702.1 L1976.9,702.1 L1978.2,702.0 L1979.4,702.0 L1980.7,701.9 L1982.0,702.0 L1983.3,702.1 L1984.6,702.3 L1985.9,702.5 L1987.2,702.8 L1988.5,703.0 L1989.8,703.2 L1991.1,703.4 L1992.4,703.5 L1993.7,703.7 L1995.0,703.8 L1996.2,703.9 L1997.5,703.9 L1998.8,703.9 L2000.1,703.9 L2001.4,703.9 L2002.7,704.0 L2004.0,704.2 L2005.3,704.4 L2006.6,704.7 L2007.9,705.0 L2009.2,705.3 L2010.5,705.5 L2011.8,705.5 L2013.0,705.5 L2014.3,705.2 L2015.6,704.9 L2016.9,704.5 L2018.2,704.2 L2019.5,703.9 L2020.8,703.7 L2022.1,703.5 L2023.4,703.2 L2024.7,703.0 L2026.0,702.9 L2027.3,702.8 L2028.6,702.6 L2029.8,702.4 L2031.1,702.0 L2032.4,701.5 L2033.7,700.9 L2035.0,700.4 L2036.3,700.0 L2037.6,699.6 L2038.9,699.4 L2040.2,699.1 L2041.5,698.8 L2042.8,698.5 L2044.1,698.3 L2045.4,698.1 L2046.6,697.9 L2047.9,697.8 L2049.2,697.6 L2050.5,697.5 L2051.8,697.5 L2053.1,697.6 L2054.4,697.9 L2055.7,698.2 L2057.0,698.6 L2058.3,698.9 L2059.6,699.1 L2060.9,699.2 L2062.2,699.3 L2063.5,699.4 L2064.7,699.6 L2066.0,699.9 L2067.3,700.3 L2068.6,700.8 L2069.9,701.3 L2071.2,702.0 L2072.5,702.6 L2073.8,703.2 L2075.1,703.7 L2076.4,704.1 L2077.7,704.4 L2079.0,704.6 L2080.3,704.6 L2081.5,704.5 L2082.8,704.4 L2084.1,704.3 L2085.4,704.2 L2086.7,704.0 L2088.0,703.8 L2089.3,703.5 L2090.6,703.2 L2091.9,702.8 L2093.2,702.4 L2094.5,702.1 L2095.8,701.9 L2097.1,701.7 L2098.3,701.4 L2099.6,701.1 L2100.9,700.6 L2102.2,699.9 L2103.5,699.1 L2104.8,698.3 L2106.1,697.4 L2107.4,696.5 L2108.7,695.7 L2110.0,694.9 L2111.3,694.4 L2112.6,694.0 L2113.9,694.0 L2115.1,694.1 L2116.4,694.4 L2117.7,694.9 L2119.0,695.3 L2120.3,695.8 L2121.6,696.3 L2122.9,696.8 L2124.2,697.3 L2125.5,697.8 L2126.8,698.3 L2128.1,698.6 L2129.4,698.8 L2130.7,699.0 L2131.9,699.1 L2133.2,699.1 L2134.5,699.1 L2135.8,699.0 L2137.1,698.8 L2138.4,698.6 L2139.7,698.4 L2141.0,698.2 L2142.3,698.2 L2143.6,698.4 L2144.9,698.7 L2146.2,699.0 L2147.5,699.4 L2148.7,699.7 L2150.0,700.0 L2151.3,700.4 L2152.6,700.7 L2153.9,701.1 L2155.2,701.5 L2156.5,702.0 L2157.8,702.5 L2159.1,702.9 L2160.4,703.2 L2161.7,703.3 L2163.0,703.3 L2164.3,703.1 L2165.6,702.8 L2166.8,702.4 L2168.1,702.0 L2169.4,701.6 L2170.7,701.2 L2172.0,700.9 L2173.3,700.5 L2174.6,700.2 L2175.9,699.8 L2177.2,699.3 L2178.5,698.7 L2179.8,698.0 L2181.1,697.3 L2182.4,696.4 L2183.6,695.5 L2184.9,694.7 L2186.2,694.2 L2187.5,693.9 L2188.8,693.9 L2190.1,694.0 L2191.4,694.4 L2192.7,694.8 L2194.0,695.4 L2195.3,696.0 L2196.6,696.7 L2197.9,697.3 L2199.2,698.0 L2200.4,698.5 L2201.7,699.1 L2203.0,699.7 L2204.3,700.3 L2205.6,701.0 L2206.9,701.6 L2208.2,702.1 L2209.5,702.6 L2210.8,703.0 L2212.1,703.3 L2213.4,703.6 L2214.7,703.9 L2216.0,704.1 L2217.2,704.3 L2218.5,704.4 L2219.8,704.6 L2221.1,704.6 L2222.4,704.6 L2223.7,704.5 L2225.0,704.4 L2226.3,704.2 L2227.6,704.0 L2228.9,703.8 L2230.2,703.7 L2231.5,703.7 L2232.8,703.8 L2234.0,703.9 L2235.3,704.0 L2236.6,704.1 L2237.9,704.1 L2239.2,704.2 L2240.5,704.3 L2241.8,704.4 L2243.1,704.6 L2244.4,704.8 L2245.7,704.8 L2247.0,704.7 L2248.3,704.4 L2249.6,703.9 L2250.8,703.2 L2252.1,702.4 L2253.4,701.5 L2254.7,700.5 L2256.0,699.5 L2257.3,698.4 L2258.6,697.2 L2259.9,695.8 L2261.2,694.2 L2262.5,692.4 L2263.8,690.4 L2265.1,688.3 L2266.4,686.2 L2267.7,684.3 L2268.9,682.8 L2270.2,681.7 L2271.5,681.2 L2272.8,681.2 L2274.1,681.6 L2275.4,682.5 L2276.7,683.6 L2278.0,685.1 L2279.3,686.8 L2280.6,688.7 L2281.9,690.7 L2283.2,692.7 L2284.5,694.6 L2285.7,696.2 L2287.0,697.6 L2288.3,698.7 L2289.6,699.8 L2290.9,700.7 L2292.2,701.6 L2293.5,702.3 L2294.8,702.9 L2296.1,703.3 L2297.4,703.5 L2298.7,703.6 L2300.0,703.5 L2301.3,703.4 L2302.5,703.2 L2303.8,703.1 L2305.1,703.0 L2306.4,702.9 L2307.7,702.8 L2309.0,702.7 L2310.3,702.6 L2311.6,702.6 L2312.9,702.6 L2314.2,702.7 L2315.5,702.9 L2316.8,703.1 L2318.1,703.4" fill="none" stroke="#9400FF" stroke-width="10.5" stroke-linejoin="round" stroke-linecap="butt"/>
<path d="M167.5,533.7 L168.8,533.7 L170.1,533.8 L171.4,534.0 L172.7,534.1 L174.0,534.1 L175.3,534.1 L176.5,534.1 L177.8,534.0 L179.1,533.9 L180.4,533.7 L181.7,533.5 L183.0,533.3 L184.3,533.0 L185.6,532.8 L186.9,532.7 L188.2,532.7 L189.5,532.8 L190.8,533.0 L192.1,533.1 L193.3,533.3 L194.6,533.3 L195.9,533.3 L197.2,533.3 L198.5,533.3 L199.8,533.3 L201.1,533.5 L202.4,533.6 L203.7,533.8 L205.0,533.9 L206.3,534.0 L207.6,534.1 L208.9,534.1 L210.1,534.1 L211.4,534.1 L212.7,534.3 L214.0,534.5 L215.3,534.7 L216.6,534.8 L217.9,534.9 L219.2,534.8 L220.5,534.7 L221.8,534.6 L223.1,534.5 L224.4,534.4 L225.7,534.3 L227.0,534.1 L228.2,533.9 L229.5,533.8 L230.8,533.8 L232.1,533.8 L233.4,533.9 L234.7,534.0 L236.0,534.0 L237.3,534.0 L238.6,533.9 L239.9,533.6 L241.2,533.3 L242.5,532.9 L243.8,532.5 L245.0,532.1 L246.3,531.7 L247.6,531.3 L248.9,530.7 L250.2,530.1 L251.5,529.3 L252.8,528.6 L254.1,528.0 L255.4,527.6 L256.7,527.3 L258.0,527.2 L259.3,527.2 L260.6,527.4 L261.8,527.7 L263.1,528.2 L264.4,528.8 L265.7,529.4 L267.0,529.8 L268.3,529.9 L269.6,529.7 L270.9,529.0 L272.2,527.9 L273.5,526.4 L274.8,524.3 L276.1,521.7 L277.4,518.6 L278.6,515.2 L279.9,511.5 L281.2,507.9 L282.5,504.7 L283.8,502.2 L285.1,500.8 L286.4,500.6 L287.7,501.7 L289.0,503.8 L290.3,506.7 L291.6,510.1 L292.9,513.7 L294.2,517.2 L295.4,520.4 L296.7,523.1 L298.0,525.3 L299.3,526.9 L300.6,528.0 L301.9,528.6 L303.2,528.9 L304.5,528.8 L305.8,528.6 L307.1,528.3 L308.4,528.1 L309.7,527.9 L311.0,527.8 L312.2,528.0 L313.5,528.3 L314.8,528.8 L316.1,529.3 L317.4,529.9 L318.7,530.5 L320.0,531.0 L321.3,531.5 L322.6,532.0 L323.9,532.5 L325.2,532.9 L326.5,533.2 L327.8,533.4 L329.1,533.5 L330.3,533.5 L331.6,533.5 L332.9,533.4 L334.2,533.3 L335.5,533.2 L336.8,533.2 L338.1,533.3 L339.4,533.4 L340.7,533.5 L342.0,533.6 L343.3,533.6 L344.6,533.6 L345.9,533.5 L347.1,533.3 L348.4,533.2 L349.7,533.2 L351.0,533.2 L352.3,533.3 L353.6,533.5 L354.9,533.5 L356.2,533.5 L357.5,533.4 L358.8,533.3 L360.1,533.1 L361.4,532.9 L362.7,532.7 L363.9,532.4 L365.2,532.0 L366.5,531.4 L367.8,530.8 L369.1,530.0 L370.4,529.1 L371.7,528.0 L373.0,526.8 L374.3,525.4 L375.6,524.0 L376.9,522.7 L378.2,521.7 L379.5,521.1 L380.7,520.9 L382.0,521.1 L383.3,521.6 L384.6,522.3 L385.9,523.2 L387.2,524.1 L388.5,525.1 L389.8,526.0 L391.1,527.0 L392.4,527.8 L393.7,528.5 L395.0,529.0 L396.3,529.3 L397.5,529.4 L398.8,529.4 L400.1,529.3 L401.4,529.2 L402.7,529.2 L404.0,529.3 L405.3,529.6 L406.6,529.8 L407.9,530.0 L409.2,530.1 L410.5,530.1 L411.8,530.0 L413.1,529.9 L414.3,529.7 L415.6,529.5 L416.9,529.4 L418.2,529.5 L419.5,529.6 L420.8,529.9 L422.1,530.1 L423.4,530.3 L424.7,530.5 L426.0,530.6 L427.3,530.8 L428.6,531.0 L429.9,531.4 L431.1,531.8 L432.4,532.3 L433.7,532.7 L435.0,533.0 L436.3,533.1 L437.6,533.1 L438.9,533.0 L440.2,532.7 L441.5,532.3 L442.8,531.9 L444.1,531.5 L445.4,531.1 L446.7,530.8 L448.0,530.7 L449.2,530.6 L450.5,530.7 L451.8,530.9 L453.1,531.1 L454.4,531.4 L455.7,531.7 L457.0,532.1 L458.3,532.5 L459.6,532.7 L460.9,532.7 L462.2,532.3 L463.5,531.6 L464.8,530.6 L466.0,529.3 L467.3,527.6 L468.6,525.5 L469.9,523.1 L471.2,520.4 L472.5,517.8 L473.8,515.4 L475.1,513.5 L476.4,512.4 L477.7,512.0 L479.0,512.5 L480.3,513.7 L481.6,515.5 L482.8,517.8 L484.1,520.2 L485.4,522.6 L486.7,524.8 L488.0,526.8 L489.3,528.5 L490.6,529.9 L491.9,531.1 L493.2,532.0 L494.5,532.7 L495.8,533.1 L497.1,533.2 L498.4,533.0 L499.6,532.7 L500.9,532.3 L502.2,531.8 L503.5,531.3 L504.8,530.8 L506.1,530.0 L507.4,529.1 L508.7,527.9 L510.0,526.4 L511.3,524.9 L512.6,523.2 L513.9,521.7 L515.2,520.3 L516.4,519.2 L517.7,518.5 L519.0,518.4 L520.3,518.9 L521.6,519.9 L522.9,521.2 L524.2,522.7 L525.5,524.2 L526.8,525.6 L528.1,526.9 L529.4,528.0 L530.7,529.1 L532.0,530.1 L533.2,530.9 L534.5,531.7 L535.8,532.3 L537.1,532.9 L538.4,533.3 L539.7,533.5 L541.0,533.7 L542.3,533.7 L543.6,533.7 L544.9,533.6 L546.2,533.6 L547.5,533.7 L548.8,533.9 L550.1,534.1 L551.3,534.2 L552.6,534.2 L553.9,534.1 L555.2,533.9 L556.5,533.7 L557.8,533.5 L559.1,533.4 L560.4,533.4 L561.7,533.4 L563.0,533.3 L564.3,533.2 L565.6,532.9 L566.9,532.6 L568.1,532.3 L569.4,532.0 L570.7,531.6 L572.0,531.2 L573.3,530.7 L574.6,530.0 L575.9,529.2 L577.2,528.3 L578.5,527.1 L579.8,525.8 L581.1,524.4 L582.4,523.1 L583.7,521.9 L584.9,521.1 L586.2,520.6 L587.5,520.6 L588.8,520.8 L590.1,521.4 L591.4,522.0 L592.7,522.7 L594.0,523.3 L595.3,523.6 L596.6,523.5 L597.9,522.7 L599.2,520.9 L600.5,517.9 L601.7,513.5 L603.0,507.5 L604.3,500.1 L605.6,491.6 L606.9,482.4 L608.2,473.1 L609.5,464.3 L610.8,456.9 L612.1,451.4 L613.4,448.4 L614.7,448.2 L616.0,450.5 L617.3,454.8 L618.5,460.4 L619.8,466.5 L621.1,472.7 L622.4,478.7 L623.7,484.5 L625.0,490.1 L626.3,495.6 L627.6,501.0 L628.9,506.0 L630.2,510.4 L631.5,513.8 L632.8,515.8 L634.1,516.4 L635.3,515.4 L636.6,513.1 L637.9,509.5 L639.2,504.9 L640.5,499.7 L641.8,494.2 L643.1,488.7 L644.4,483.5 L645.7,478.8 L647.0,475.0 L648.3,472.4 L649.6,471.4 L650.9,471.9 L652.2,473.8 L653.4,476.3 L654.7,478.9 L656.0,481.2 L657.3,483.0 L658.6,483.9 L659.9,483.9 L661.2,482.6 L662.5,479.7 L663.8,475.0 L665.1,468.5 L666.4,460.8 L667.7,452.5 L669.0,444.3 L670.2,437.3 L671.5,431.9 L672.8,428.0 L674.1,425.4 L675.4,423.4 L676.7,421.8 L678.0,420.5 L679.3,420.2 L680.6,421.4 L681.9,425.0 L683.2,431.3 L684.5,440.3 L685.8,451.2 L687.0,463.2 L688.3,475.4 L689.6,486.8 L690.9,496.9 L692.2,505.2 L693.5,511.5 L694.8,515.9 L696.1,518.5 L697.4,519.8 L698.7,520.1 L700.0,519.8 L701.3,518.9 L702.6,517.5 L703.8,515.4 L705.1,512.1 L706.4,507.4 L707.7,500.8 L709.0,492.2 L710.3,481.5 L711.6,469.0 L712.9,455.2 L714.2,441.1 L715.5,427.8 L716.8,416.4 L718.1,408.2 L719.4,404.2 L720.6,405.1 L721.9,410.7 L723.2,420.2 L724.5,432.7 L725.8,446.8 L727.1,461.3 L728.4,475.2 L729.7,487.8 L731.0,498.6 L732.3,507.6 L733.6,514.6 L734.9,519.9 L736.2,523.7 L737.4,526.4 L738.7,528.2 L740.0,529.4 L741.3,530.3 L742.6,530.9 L743.9,531.4 L745.2,531.8 L746.5,532.0 L747.8,532.2 L749.1,532.3 L750.4,532.3 L751.7,532.3 L753.0,532.4 L754.2,532.5 L755.5,532.7 L756.8,532.8 L758.1,532.8 L759.4,532.9 L760.7,532.9 L762.0,532.9 L763.3,532.8 L764.6,532.8 L765.9,532.6 L767.2,532.5 L768.5,532.4 L769.8,532.4 L771.1,532.5 L772.3,532.7 L773.6,533.0 L774.9,533.2 L776.2,533.4 L777.5,533.4 L778.8,533.3 L780.1,533.0 L781.4,532.7 L782.7,532.2 L784.0,531.8 L785.3,531.5 L786.6,531.2 L787.9,531.0 L789.1,531.0 L790.4,531.0 L791.7,531.2 L793.0,531.3 L794.3,531.4 L795.6,531.4 L796.9,531.2 L798.2,530.9 L799.5,530.5 L800.8,530.1 L802.1,529.8 L803.4,529.7 L804.7,529.8 L805.9,530.0 L807.2,530.3 L808.5,530.5 L809.8,530.7 L811.1,530.8 L812.4,530.8 L813.7,530.6 L815.0,530.4 L816.3,530.1 L817.6,529.7 L818.9,529.1 L820.2,528.4 L821.5,527.4 L822.7,526.1 L824.0,524.7 L825.3,523.2 L826.6,521.8 L827.9,520.7 L829.2,520.0 L830.5,519.7 L831.8,519.7 L833.1,519.9 L834.4,520.4 L835.7,521.2 L837.0,522.1 L838.3,523.3 L839.5,524.6 L840.8,525.9 L842.1,527.3 L843.4,528.5 L844.7,529.7 L846.0,530.6 L847.3,531.4 L848.6,531.9 L849.9,532.3 L851.2,532.5 L852.5,532.6 L853.8,532.6 L855.1,532.7 L856.3,532.7 L857.6,532.7 L858.9,532.7 L860.2,532.7 L861.5,532.6 L862.8,532.5 L864.1,532.4 L865.4,532.2 L866.7,532.0 L868.0,531.9 L869.3,531.8 L870.6,531.7 L871.9,531.6 L873.2,531.4 L874.4,531.2 L875.7,531.0 L877.0,530.9 L878.3,530.8 L879.6,530.9 L880.9,531.1 L882.2,531.3 L883.5,531.5 L884.8,531.6 L886.1,531.7 L887.4,531.8 L888.7,531.8 L890.0,531.9 L891.2,532.0 L892.5,532.1 L893.8,532.4 L895.1,532.6 L896.4,532.8 L897.7,532.9 L899.0,532.8 L900.3,532.5 L901.6,532.2 L902.9,531.9 L904.2,531.7 L905.5,531.7 L906.8,531.9 L908.0,532.0 L909.3,532.1 L910.6,531.9 L911.9,531.4 L913.2,530.6 L914.5,529.6 L915.8,528.6 L917.1,527.5 L918.4,526.3 L919.7,525.3 L921.0,524.3 L922.3,523.5 L923.6,522.8 L924.8,522.4 L926.1,522.3 L927.4,522.5 L928.7,522.9 L930.0,523.5 L931.3,524.2 L932.6,524.9 L933.9,525.7 L935.2,526.4 L936.5,527.0 L937.8,527.6 L939.1,528.2 L940.4,528.7 L941.6,529.2 L942.9,529.6 L944.2,529.9 L945.5,530.2 L946.8,530.4 L948.1,530.7 L949.4,530.9 L950.7,531.3 L952.0,531.7 L953.3,532.0 L954.6,532.3 L955.9,532.4 L957.2,532.4 L958.4,532.4 L959.7,532.4 L961.0,532.3 L962.3,532.3 L963.6,532.3 L964.9,532.1 L966.2,531.8 L967.5,531.3 L968.8,530.3 L970.1,528.9 L971.4,526.9 L972.7,524.3 L974.0,521.1 L975.3,517.5 L976.5,513.7 L977.8,509.7 L979.1,505.7 L980.4,501.8 L981.7,498.3 L983.0,495.4 L984.3,493.2 L985.6,491.8 L986.9,491.3 L988.2,491.6 L989.5,492.4 L990.8,493.7 L992.1,495.2 L993.3,496.8 L994.6,498.5 L995.9,500.1 L997.2,501.8 L998.5,503.3 L999.8,504.9 L1001.1,506.4 L1002.4,508.0 L1003.7,509.6 L1005.0,511.4 L1006.3,513.3 L1007.6,515.4 L1008.9,517.5 L1010.1,519.5 L1011.4,521.5 L1012.7,523.4 L1014.0,525.1 L1015.3,526.6 L1016.6,527.8 L1017.9,528.8 L1019.2,529.4 L1020.5,529.8 L1021.8,529.9 L1023.1,529.7 L1024.4,529.3 L1025.7,528.5 L1026.9,527.3 L1028.2,525.6 L1029.5,523.4 L1030.8,520.7 L1032.1,517.5 L1033.4,514.1 L1034.7,510.4 L1036.0,506.7 L1037.3,503.2 L1038.6,500.2 L1039.9,497.8 L1041.2,496.4 L1042.5,496.1 L1043.7,496.8 L1045.0,498.6 L1046.3,501.2 L1047.6,504.4 L1048.9,507.9 L1050.2,511.5 L1051.5,515.1 L1052.8,518.5 L1054.1,521.6 L1055.4,524.3 L1056.7,526.5 L1058.0,528.3 L1059.3,529.7 L1060.5,530.6 L1061.8,531.3 L1063.1,531.7 L1064.4,532.2 L1065.7,532.6 L1067.0,532.9 L1068.3,533.2 L1069.6,533.4 L1070.9,533.5 L1072.2,533.5 L1073.5,533.4 L1074.8,533.3 L1076.1,533.2 L1077.3,533.1 L1078.6,533.0 L1079.9,533.1 L1081.2,533.2 L1082.5,533.3 L1083.8,533.5 L1085.1,533.7 L1086.4,533.9 L1087.7,534.0 L1089.0,534.1 L1090.3,534.1 L1091.6,534.1 L1092.9,534.0 L1094.2,533.8 L1095.4,533.5 L1096.7,533.2 L1098.0,532.7 L1099.3,532.3 L1100.6,531.8 L1101.9,531.4 L1103.2,531.1 L1104.5,530.9 L1105.8,530.8 L1107.1,530.7 L1108.4,530.8 L1109.7,530.8 L1111.0,530.8 L1112.2,530.8 L1113.5,530.6 L1114.8,530.4 L1116.1,530.0 L1117.4,529.7 L1118.7,529.3 L1120.0,529.0 L1121.3,528.8 L1122.6,528.6 L1123.9,528.3 L1125.2,528.0 L1126.5,527.7 L1127.8,527.3 L1129.0,527.1 L1130.3,527.0 L1131.6,527.0 L1132.9,527.2 L1134.2,527.4 L1135.5,527.7 L1136.8,528.1 L1138.1,528.5 L1139.4,529.0 L1140.7,529.6 L1142.0,530.2 L1143.3,530.8 L1144.6,531.2 L1145.8,531.3 L1147.1,531.2 L1148.4,530.7 L1149.7,530.0 L1151.0,529.0 L1152.3,527.8 L1153.6,526.6 L1154.9,525.3 L1156.2,524.0 L1157.5,522.8 L1158.8,521.7 L1160.1,520.6 L1161.4,519.6 L1162.6,518.8 L1163.9,518.3 L1165.2,518.2 L1166.5,518.5 L1167.8,519.2 L1169.1,520.2 L1170.4,521.5 L1171.7,523.0 L1173.0,524.5 L1174.3,525.9 L1175.6,527.2 L1176.9,528.2 L1178.2,528.9 L1179.4,529.2 L1180.7,529.3 L1182.0,529.3 L1183.3,529.2 L1184.6,528.9 L1185.9,528.6 L1187.2,528.0 L1188.5,527.2 L1189.8,526.2 L1191.1,525.0 L1192.4,523.8 L1193.7,522.6 L1195.0,521.6 L1196.3,520.8 L1197.5,520.4 L1198.8,520.4 L1200.1,520.7 L1201.4,521.4 L1202.7,522.4 L1204.0,523.4 L1205.3,524.4 L1206.6,525.3 L1207.9,526.0 L1209.2,526.5 L1210.5,526.9 L1211.8,527.3 L1213.1,527.7 L1214.3,528.0 L1215.6,528.3 L1216.9,528.4 L1218.2,528.5 L1219.5,528.6 L1220.8,528.7 L1222.1,528.9 L1223.4,529.2 L1224.7,529.5 L1226.0,529.7 L1227.3,530.0 L1228.6,530.1 L1229.9,530.1 L1231.1,529.8 L1232.4,529.4 L1233.7,528.7 L1235.0,527.9 L1236.3,526.9 L1237.6,525.9 L1238.9,524.8 L1240.2,523.8 L1241.5,522.8 L1242.8,521.9 L1244.1,521.2 L1245.4,520.6 L1246.7,520.3 L1247.9,520.3 L1249.2,520.6 L1250.5,521.0 L1251.8,521.6 L1253.1,522.3 L1254.4,523.2 L1255.7,524.3 L1257.0,525.5 L1258.3,526.8 L1259.6,528.0 L1260.9,529.1 L1262.2,529.9 L1263.5,530.6 L1264.7,531.0 L1266.0,531.2 L1267.3,531.3 L1268.6,531.3 L1269.9,531.4 L1271.2,531.6 L1272.5,532.0 L1273.8,532.4 L1275.1,532.9 L1276.4,533.3 L1277.7,533.7 L1279.0,533.9 L1280.3,534.0 L1281.5,534.0 L1282.8,533.9 L1284.1,533.7 L1285.4,533.3 L1286.7,532.7 L1288.0,531.8 L1289.3,530.7 L1290.6,529.3 L1291.9,527.7 L1293.2,525.8 L1294.5,523.5 L1295.8,520.7 L1297.1,517.6 L1298.4,514.0 L1299.6,510.1 L1300.9,505.9 L1302.2,501.6 L1303.5,497.3 L1304.8,493.5 L1306.1,490.4 L1307.4,488.2 L1308.7,487.1 L1310.0,487.0 L1311.3,487.8 L1312.6,489.4 L1313.9,491.8 L1315.2,494.7 L1316.4,498.2 L1317.7,501.9 L1319.0,505.7 L1320.3,509.3 L1321.6,512.6 L1322.9,515.3 L1324.2,517.7 L1325.5,519.7 L1326.8,521.5 L1328.1,523.1 L1329.4,524.6 L1330.7,525.8 L1332.0,526.9 L1333.2,527.8 L1334.5,528.6 L1335.8,529.3 L1337.1,529.9 L1338.4,530.4 L1339.7,530.8 L1341.0,531.2 L1342.3,531.4 L1343.6,531.5 L1344.9,531.6 L1346.2,531.5 L1347.5,531.3 L1348.8,531.0 L1350.0,530.7 L1351.3,530.4 L1352.6,530.0 L1353.9,529.5 L1355.2,529.0 L1356.5,528.6 L1357.8,528.1 L1359.1,527.7 L1360.4,527.5 L1361.7,527.4 L1363.0,527.5 L1364.3,527.6 L1365.6,527.7 L1366.8,527.8 L1368.1,527.9 L1369.4,527.9 L1370.7,527.8 L1372.0,527.7 L1373.3,527.5 L1374.6,527.3 L1375.9,527.1 L1377.2,526.9 L1378.5,526.7 L1379.8,526.5 L1381.1,526.4 L1382.4,526.2 L1383.6,526.0 L1384.9,526.0 L1386.2,526.0 L1387.5,526.1 L1388.8,526.4 L1390.1,526.8 L1391.4,527.3 L1392.7,527.9 L1394.0,528.4 L1395.3,528.9 L1396.6,529.3 L1397.9,529.7 L1399.2,530.0 L1400.4,530.4 L1401.7,530.9 L1403.0,531.4 L1404.3,532.1 L1405.6,532.6 L1406.9,533.1 L1408.2,533.4 L1409.5,533.6 L1410.8,533.6 L1412.1,533.5 L1413.4,533.4 L1414.7,533.3 L1416.0,533.2 L1417.3,533.0 L1418.5,532.9 L1419.8,532.9 L1421.1,532.8 L1422.4,532.8 L1423.7,532.7 L1425.0,532.7 L1426.3,532.7 L1427.6,532.7 L1428.9,532.7 L1430.2,532.8 L1431.5,532.8 L1432.8,532.8 L1434.1,532.8 L1435.3,532.7 L1436.6,532.6 L1437.9,532.4 L1439.2,532.2 L1440.5,531.9 L1441.8,531.5 L1443.1,531.1 L1444.4,530.7 L1445.7,530.1 L1447.0,529.4 L1448.3,528.5 L1449.6,527.6 L1450.9,526.6 L1452.1,525.6 L1453.4,524.8 L1454.7,524.1 L1456.0,523.6 L1457.3,523.1 L1458.6,522.8 L1459.9,522.6 L1461.2,522.3 L1462.5,522.1 L1463.8,521.9 L1465.1,521.7 L1466.4,521.6 L1467.7,521.5 L1468.9,521.4 L1470.2,521.4 L1471.5,521.6 L1472.8,522.1 L1474.1,522.8 L1475.4,523.7 L1476.7,524.7 L1478.0,525.8 L1479.3,526.9 L1480.6,527.9 L1481.9,528.9 L1483.2,529.8 L1484.5,530.5 L1485.7,531.1 L1487.0,531.4 L1488.3,531.6 L1489.6,531.6 L1490.9,531.4 L1492.2,531.2 L1493.5,530.8 L1494.8,530.3 L1496.1,529.8 L1497.4,529.2 L1498.7,528.5 L1500.0,527.9 L1501.3,527.2 L1502.5,526.5 L1503.8,525.7 L1505.1,524.8 L1506.4,523.8 L1507.7,522.8 L1509.0,521.8 L1510.3,520.8 L1511.6,520.0 L1512.9,519.3 L1514.2,518.9 L1515.5,518.7 L1516.8,518.7 L1518.1,518.9 L1519.4,519.2 L1520.6,519.4 L1521.9,519.5 L1523.2,519.4 L1524.5,519.1 L1525.8,518.5 L1527.1,517.6 L1528.4,516.6 L1529.7,515.5 L1531.0,514.4 L1532.3,513.6 L1533.6,513.1 L1534.9,512.9 L1536.2,513.2 L1537.4,513.7 L1538.7,514.4 L1540.0,515.4 L1541.3,516.6 L1542.6,518.1 L1543.9,519.8 L1545.2,521.7 L1546.5,523.6 L1547.8,525.5 L1549.1,527.2 L1550.4,528.5 L1551.7,529.5 L1553.0,530.3 L1554.2,530.8 L1555.5,531.1 L1556.8,531.5 L1558.1,531.8 L1559.4,532.1 L1560.7,532.3 L1562.0,532.6 L1563.3,532.7 L1564.6,532.7 L1565.9,532.7 L1567.2,532.7 L1568.5,532.7 L1569.8,532.6 L1571.0,532.4 L1572.3,532.1 L1573.6,531.6 L1574.9,531.0 L1576.2,530.3 L1577.5,529.6 L1578.8,528.9 L1580.1,528.3 L1581.4,527.8 L1582.7,527.4 L1584.0,527.2 L1585.3,527.1 L1586.6,527.3 L1587.8,527.6 L1589.1,528.1 L1590.4,528.8 L1591.7,529.6 L1593.0,530.4 L1594.3,531.1 L1595.6,531.6 L1596.9,531.9 L1598.2,532.0 L1599.5,531.8 L1600.8,531.5 L1602.1,531.1 L1603.4,530.6 L1604.6,530.2 L1605.9,529.8 L1607.2,529.4 L1608.5,529.0 L1609.8,528.5 L1611.1,528.2 L1612.4,527.9 L1613.7,527.7 L1615.0,527.6 L1616.3,527.6 L1617.6,527.7 L1618.9,527.9 L1620.2,528.1 L1621.5,528.5 L1622.7,528.9 L1624.0,529.5 L1625.3,530.2 L1626.6,530.8 L1627.9,531.3 L1629.2,531.6 L1630.5,531.8 L1631.8,531.8 L1633.1,531.8 L1634.4,531.6 L1635.7,531.5 L1637.0,531.3 L1638.3,531.0 L1639.5,530.8 L1640.8,530.5 L1642.1,530.1 L1643.4,529.7 L1644.7,529.2 L1646.0,528.9 L1647.3,528.7 L1648.6,528.7 L1649.9,528.8 L1651.2,529.0 L1652.5,529.2 L1653.8,529.5 L1655.1,529.8 L1656.3,530.2 L1657.6,530.6 L1658.9,531.1 L1660.2,531.5 L1661.5,531.9 L1662.8,532.0 L1664.1,532.0 L1665.4,531.7 L1666.7,531.1 L1668.0,530.3 L1669.3,529.3 L1670.6,528.3 L1671.9,527.3 L1673.1,526.3 L1674.4,525.4 L1675.7,524.6 L1677.0,523.7 L1678.3,523.1 L1679.6,522.6 L1680.9,522.3 L1682.2,522.5 L1683.5,522.9 L1684.8,523.7 L1686.1,524.5 L1687.4,525.4 L1688.7,526.1 L1689.9,526.8 L1691.2,527.4 L1692.5,527.8 L1693.8,528.3 L1695.1,528.7 L1696.4,529.0 L1697.7,529.3 L1699.0,529.5 L1700.3,529.6 L1701.6,529.7 L1702.9,529.7 L1704.2,529.6 L1705.5,529.4 L1706.7,529.0 L1708.0,528.7 L1709.3,528.4 L1710.6,528.2 L1711.9,528.1 L1713.2,528.1 L1714.5,528.1 L1715.8,528.1 L1717.1,528.2 L1718.4,528.3 L1719.7,528.5 L1721.0,528.6 L1722.3,528.6 L1723.5,528.5 L1724.8,528.1 L1726.1,527.5 L1727.4,526.6 L1728.7,525.5 L1730.0,524.2 L1731.3,522.7 L1732.6,521.1 L1733.9,519.4 L1735.2,517.6 L1736.5,515.7 L1737.8,513.9 L1739.1,512.3 L1740.4,510.8 L1741.6,509.7 L1742.9,508.9 L1744.2,508.6 L1745.5,508.7 L1746.8,509.3 L1748.1,510.4 L1749.4,511.8 L1750.7,513.6 L1752.0,515.6 L1753.3,517.7 L1754.6,519.9 L1755.9,522.0 L1757.2,524.0 L1758.4,525.7 L1759.7,527.2 L1761.0,528.5 L1762.3,529.5 L1763.6,530.4 L1764.9,531.2 L1766.2,531.9 L1767.5,532.5 L1768.8,533.0 L1770.1,533.4 L1771.4,533.7 L1772.7,533.7 L1774.0,533.6 L1775.2,533.3 L1776.5,533.0 L1777.8,532.8 L1779.1,532.7 L1780.4,532.6 L1781.7,532.7 L1783.0,532.8 L1784.3,532.9 L1785.6,533.0 L1786.9,533.0 L1788.2,533.0 L1789.5,532.8 L1790.8,532.4 L1792.0,531.7 L1793.3,530.9 L1794.6,529.7 L1795.9,528.2 L1797.2,526.2 L1798.5,523.8 L1799.8,520.7 L1801.1,517.2 L1802.4,513.5 L1803.7,509.8 L1805.0,506.4 L1806.3,503.7 L1807.6,502.0 L1808.8,501.3 L1810.1,501.7 L1811.4,503.1 L1812.7,505.1 L1814.0,507.3 L1815.3,509.5 L1816.6,511.3 L1817.9,512.6 L1819.2,513.5 L1820.5,513.9 L1821.8,514.1 L1823.1,514.0 L1824.4,513.6 L1825.6,513.1 L1826.9,512.5 L1828.2,512.1 L1829.5,512.0 L1830.8,512.4 L1832.1,513.4 L1833.4,514.8 L1834.7,516.6 L1836.0,518.4 L1837.3,520.1 L1838.6,521.6 L1839.9,522.8 L1841.2,523.5 L1842.5,524.0 L1843.7,524.1 L1845.0,524.1 L1846.3,524.1 L1847.6,524.0 L1848.9,524.0 L1850.2,524.0 L1851.5,524.1 L1852.8,524.3 L1854.1,524.5 L1855.4,524.7 L1856.7,524.9 L1858.0,524.9 L1859.3,524.9 L1860.5,524.7 L1861.8,524.4 L1863.1,523.9 L1864.4,523.4 L1865.7,522.8 L1867.0,522.1 L1868.3,521.5 L1869.6,521.2 L1870.9,521.2 L1872.2,521.7 L1873.5,522.6 L1874.8,523.9 L1876.1,525.4 L1877.3,527.0 L1878.6,528.5 L1879.9,529.7 L1881.2,530.7 L1882.5,531.4 L1883.8,532.0 L1885.1,532.5 L1886.4,532.8 L1887.7,533.0 L1889.0,533.1 L1890.3,533.1 L1891.6,532.9 L1892.9,532.7 L1894.1,532.6 L1895.4,532.4 L1896.7,532.4 L1898.0,532.3 L1899.3,532.3 L1900.6,532.2 L1901.9,532.2 L1903.2,532.2 L1904.5,532.1 L1905.8,531.8 L1907.1,531.6 L1908.4,531.2 L1909.7,530.8 L1910.9,530.3 L1912.2,529.9 L1913.5,529.4 L1914.8,528.9 L1916.1,528.4 L1917.4,528.0 L1918.7,527.7 L1920.0,527.5 L1921.3,527.5 L1922.6,527.7 L1923.9,528.1 L1925.2,528.4 L1926.5,528.8 L1927.7,529.2 L1929.0,529.5 L1930.3,529.9 L1931.6,530.5 L1932.9,531.1 L1934.2,531.8 L1935.5,532.5 L1936.8,533.1 L1938.1,533.5 L1939.4,533.7 L1940.7,533.7 L1942.0,533.7 L1943.3,533.7 L1944.6,533.6 L1945.8,533.7 L1947.1,533.7 L1948.4,533.8 L1949.7,533.9 L1951.0,534.0 L1952.3,534.2 L1953.6,534.4 L1954.9,534.5 L1956.2,534.5 L1957.5,534.4 L1958.8,534.2 L1960.1,533.8 L1961.4,533.5 L1962.6,533.3 L1963.9,533.2 L1965.2,533.1 L1966.5,533.1 L1967.8,533.2 L1969.1,533.3 L1970.4,533.4 L1971.7,533.5 L1973.0,533.5 L1974.3,533.6 L1975.6,533.6 L1976.9,533.5 L1978.2,533.4 L1979.4,533.3 L1980.7,533.3 L1982.0,533.2 L1983.3,533.2 L1984.6,533.1 L1985.9,532.9 L1987.2,532.8 L1988.5,532.7 L1989.8,532.7 L1991.1,532.8 L1992.4,533.0 L1993.7,533.2 L1995.0,533.3 L1996.2,533.4 L1997.5,533.4 L1998.8,533.2 L2000.1,533.0 L2001.4,532.8 L2002.7,532.7 L2004.0,532.8 L2005.3,533.1 L2006.6,533.4 L2007.9,533.8 L2009.2,534.0 L2010.5,534.1 L2011.8,534.0 L2013.0,533.9 L2014.3,533.8 L2015.6,533.6 L2016.9,533.5 L2018.2,533.3 L2019.5,533.1 L2020.8,532.9 L2022.1,532.6 L2023.4,532.4 L2024.7,532.3 L2026.0,532.2 L2027.3,532.1 L2028.6,531.9 L2029.8,531.5 L2031.1,531.0 L2032.4,530.5 L2033.7,529.9 L2035.0,529.6 L2036.3,529.3 L2037.6,529.2 L2038.9,529.1 L2040.2,528.9 L2041.5,528.5 L2042.8,528.1 L2044.1,527.7 L2045.4,527.4 L2046.6,527.2 L2047.9,527.1 L2049.2,527.1 L2050.5,527.2 L2051.8,527.4 L2053.1,527.7 L2054.4,528.0 L2055.7,528.3 L2057.0,528.6 L2058.3,528.9 L2059.6,529.2 L2060.9,529.4 L2062.2,529.5 L2063.5,529.6 L2064.7,529.7 L2066.0,529.8 L2067.3,530.0 L2068.6,530.3 L2069.9,530.8 L2071.2,531.5 L2072.5,532.2 L2073.8,532.9 L2075.1,533.5 L2076.4,534.0 L2077.7,534.2 L2079.0,534.2 L2080.3,534.1 L2081.5,534.0 L2082.8,533.8 L2084.1,533.6 L2085.4,533.5 L2086.7,533.4 L2088.0,533.2 L2089.3,533.1 L2090.6,532.9 L2091.9,532.7 L2093.2,532.4 L2094.5,532.0 L2095.8,531.6 L2097.1,531.1 L2098.3,530.5 L2099.6,529.9 L2100.9,529.1 L2102.2,528.3 L2103.5,527.3 L2104.8,526.3 L2106.1,525.3 L2107.4,524.4 L2108.7,523.6 L2110.0,522.9 L2111.3,522.4 L2112.6,522.0 L2113.9,521.8 L2115.1,521.8 L2116.4,522.0 L2117.7,522.4 L2119.0,523.0 L2120.3,523.7 L2121.6,524.4 L2122.9,525.1 L2124.2,525.7 L2125.5,526.3 L2126.8,526.8 L2128.1,527.3 L2129.4,527.8 L2130.7,528.1 L2131.9,528.2 L2133.2,528.3 L2134.5,528.1 L2135.8,527.9 L2137.1,527.7 L2138.4,527.4 L2139.7,527.3 L2141.0,527.2 L2142.3,527.3 L2143.6,527.5 L2144.9,527.7 L2146.2,528.0 L2147.5,528.3 L2148.7,528.7 L2150.0,529.1 L2151.3,529.6 L2152.6,530.1 L2153.9,530.5 L2155.2,530.9 L2156.5,531.3 L2157.8,531.6 L2159.1,531.8 L2160.4,532.1 L2161.7,532.3 L2163.0,532.5 L2164.3,532.5 L2165.6,532.5 L2166.8,532.4 L2168.1,532.2 L2169.4,532.0 L2170.7,531.6 L2172.0,531.2 L2173.3,530.6 L2174.6,529.8 L2175.9,528.7 L2177.2,527.6 L2178.5,526.4 L2179.8,525.3 L2181.1,524.4 L2182.4,523.6 L2183.6,523.0 L2184.9,522.4 L2186.2,521.9 L2187.5,521.4 L2188.8,521.1 L2190.1,521.0 L2191.4,521.1 L2192.7,521.5 L2194.0,522.1 L2195.3,522.9 L2196.6,523.8 L2197.9,524.8 L2199.2,525.8 L2200.4,526.8 L2201.7,527.7 L2203.0,528.5 L2204.3,529.1 L2205.6,529.6 L2206.9,530.0 L2208.2,530.4 L2209.5,530.8 L2210.8,531.3 L2212.1,531.8 L2213.4,532.3 L2214.7,532.6 L2216.0,532.8 L2217.2,533.0 L2218.5,533.1 L2219.8,533.2 L2221.1,533.3 L2222.4,533.4 L2223.7,533.4 L2225.0,533.4 L2226.3,533.4 L2227.6,533.4 L2228.9,533.4 L2230.2,533.4 L2231.5,533.5 L2232.8,533.5 L2234.0,533.6 L2235.3,533.8 L2236.6,534.1 L2237.9,534.3 L2239.2,534.5 L2240.5,534.6 L2241.8,534.5 L2243.1,534.4 L2244.4,534.1 L2245.7,533.9 L2247.0,533.6 L2248.3,533.4 L2249.6,533.0 L2250.8,532.7 L2252.1,532.2 L2253.4,531.7 L2254.7,530.9 L2256.0,530.0 L2257.3,528.7 L2258.6,527.3 L2259.9,525.5 L2261.2,523.6 L2262.5,521.4 L2263.8,519.0 L2265.1,516.7 L2266.4,514.4 L2267.7,512.5 L2268.9,510.9 L2270.2,509.8 L2271.5,509.2 L2272.8,509.1 L2274.1,509.5 L2275.4,510.3 L2276.7,511.5 L2278.0,513.1 L2279.3,514.8 L2280.6,516.8 L2281.9,518.8 L2283.2,520.8 L2284.5,522.7 L2285.7,524.5 L2287.0,526.2 L2288.3,527.7 L2289.6,529.0 L2290.9,530.1 L2292.2,531.0 L2293.5,531.7 L2294.8,532.1 L2296.1,532.2 L2297.4,532.2 L2298.7,532.0 L2300.0,531.9 L2301.3,531.8 L2302.5,531.9 L2303.8,532.0 L2305.1,532.1 L2306.4,532.3 L2307.7,532.3 L2309.0,532.3 L2310.3,532.3 L2311.6,532.2 L2312.9,532.1 L2314.2,532.0 L2315.5,532.0 L2316.8,532.1 L2318.1,532.2" fill="none" stroke="#990000" stroke-width="10.5" stroke-linejoin="round" stroke-linecap="butt"/>
<text x="167.5" y="1716" font-size="96.5" text-anchor="middle">20</text>
<text x="382.9" y="1716" font-size="96.5" text-anchor="middle">25</text>
<text x="598.3" y="1716" font-size="96.5" text-anchor="middle">30</text>
<text x="813.7" y="1716" font-size="96.5" text-anchor="middle">35</text>
<text x="1029.1" y="1716" font-size="96.5" text-anchor="middle">40</text>
<text x="1244.5" y="1716" font-size="96.5" text-anchor="middle">45</text>
<text x="1459.9" y="1716" font-size="96.5" text-anchor="middle">50</text>
<text x="1675.3" y="1716" font-size="96.5" text-anchor="middle">55</text>
<text x="1890.7" y="1716" font-size="96.5" text-anchor="middle">60</text>
<text x="2106.1" y="1716" font-size="96.5" text-anchor="middle">65</text>
<text x="2321.5" y="1716" font-size="96.5" text-anchor="middle">70</text>
<text x="1244" y="1829" font-size="121" text-anchor="middle">2θ (Degree)</text>
<text transform="translate(102.5,817.2) rotate(-90) scale(1,1.035)" font-size="123.4" text-anchor="middle">Intensity (a.u.)</text>
<text x="2194.0" y="1476.0" font-size="93" fill="#000000">(a)</text>
<text x="2192.0" y="1311.0" font-size="93" fill="#FF0000">(b)</text>
<text x="2194.0" y="1129.5" font-size="93" fill="#0000FF">(c)</text>
<text x="2189.0" y="975.0" font-size="93" fill="#008000">(d)</text>
<text x="2184.0" y="814.0" font-size="93" fill="#FF8000">(e)</text>
<text x="2179.0" y="651.0" font-size="93" fill="#9400FF">(f)</text>
<text x="2179.0" y="478.0" font-size="93" fill="#990000">(g)</text>
<text transform="translate(309.4,420.0) rotate(-90)" font-size="75.5">(111)</text>
<text transform="translate(402.5,501.5) rotate(-90)" font-size="75.5">(210)</text>
<text transform="translate(632.0,370.3) rotate(-90)" font-size="75.5">(030)</text>
<text transform="translate(695.3,344.0) rotate(-90)" font-size="75.5">(101)</text>
<text transform="translate(752.8,314.2) rotate(-90)" font-size="75.5">(301)</text>
<text transform="translate(852.8,500.1) rotate(-90)" font-size="75.5">(310)</text>
<text transform="translate(1010.6,399.1) rotate(-90)" font-size="75.5">(013)</text>
<text transform="translate(1072.4,412.0) rotate(-90)" font-size="75.5">(221)</text>
<text transform="translate(1219.6,497.9) rotate(-90)" font-size="75.5">(212)</text>
<text transform="translate(1279.2,485.7) rotate(-90)" font-size="75.5">(222)</text>
<text transform="translate(1335.0,409.7) rotate(-90)" font-size="75.5">(222)</text>
<text transform="translate(1398.4,447.9) rotate(-90)" font-size="75.5">(221)</text>
<text transform="translate(1479.5,439.2) rotate(-90)" font-size="75.5">(310)</text>
<text transform="translate(1553.8,424.8) rotate(-90)" font-size="75.5">(211)</text>
<text transform="translate(1839.4,418.4) rotate(-90)" font-size="75.5">(312)</text>
<text transform="translate(1944.6,501.7) rotate(-90)" font-size="75.5">(322)</text>
<text transform="translate(584.0,1509.5) rotate(-90)" font-size="75.5">(211)</text>
<polygon points="304.0,88.0 283.0,128.7 325.0,128.7" fill="#0000FF"/>
<polygon points="289.7,432.5 268.7,473.2 310.7,473.2" fill="#0000FF"/>
<polygon points="523.7,458.0 502.7,498.7 544.7,498.7" fill="#0000FF"/>
<polygon points="614.4,386.0 593.4,426.7 635.4,426.7" fill="#0000FF"/>
<polygon points="678.5,361.0 657.5,401.7 699.5,401.7" fill="#0000FF"/>
<polygon points="723.4,337.3 702.4,378.0 744.4,378.0" fill="#0000FF"/>
<polygon points="985.6,419.0 964.6,459.7 1006.6,459.7" fill="#0000FF"/>
<polygon points="1044.9,430.9 1023.9,471.6 1065.9,471.6" fill="#0000FF"/>
<polygon points="1312.8,426.0 1291.8,466.7 1333.8,466.7" fill="#0000FF"/>
<polygon points="1381.4,458.8 1360.4,499.5 1402.4,499.5" fill="#0000FF"/>
<polygon points="1463.0,455.0 1442.0,495.7 1484.0,495.7" fill="#0000FF"/>
<polygon points="1536.9,442.0 1515.9,482.7 1557.9,482.7" fill="#0000FF"/>
<polygon points="1819.6,435.0 1798.6,475.7 1840.6,475.7" fill="#0000FF"/>
<polygon points="870.0,80.6 863.3,93.3 849.8,93.3 856.6,106.0 849.8,118.7 863.3,118.7 870.0,131.4 876.7,118.7 890.2,118.7 883.4,106.0 890.2,93.3 876.7,93.3" fill="#008000"/><polygon points="870.0,98.6 868.0,102.3 864.1,102.3 866.1,106.0 864.1,109.7 868.0,109.7 870.0,113.4 872.0,109.7 875.9,109.7 873.9,106.0 875.9,102.3 872.0,102.3" fill="#000"/>
<polygon points="379.6,1421.4 372.9,1434.1 359.4,1434.1 366.2,1446.8 359.4,1459.5 372.9,1459.5 379.6,1472.2 386.3,1459.5 399.8,1459.5 393.0,1446.8 399.8,1434.1 386.3,1434.1" fill="#008000"/><polygon points="379.6,1439.4 377.6,1443.1 373.7,1443.1 375.7,1446.8 373.7,1450.5 377.6,1450.5 379.6,1454.2 381.6,1450.5 385.5,1450.5 383.5,1446.8 385.5,1443.1 381.6,1443.1" fill="#000"/>
<polygon points="832.0,1428.6 825.3,1441.3 811.8,1441.3 818.6,1454.0 811.8,1466.7 825.3,1466.7 832.0,1479.4 838.7,1466.7 852.2,1466.7 845.4,1454.0 852.2,1441.3 838.7,1441.3" fill="#008000"/><polygon points="832.0,1446.6 830.0,1450.3 826.1,1450.3 828.1,1454.0 826.1,1457.7 830.0,1457.7 832.0,1461.4 834.0,1457.7 837.9,1457.7 835.9,1454.0 837.9,1450.3 834.0,1450.3" fill="#000"/>
<polygon points="1197.5,1412.2 1190.8,1424.9 1177.3,1424.9 1184.1,1437.6 1177.3,1450.3 1190.8,1450.3 1197.5,1463.0 1204.2,1450.3 1217.7,1450.3 1210.9,1437.6 1217.7,1424.9 1204.2,1424.9" fill="#008000"/><polygon points="1197.5,1430.2 1195.5,1433.9 1191.6,1433.9 1193.6,1437.6 1191.6,1441.3 1195.5,1441.3 1197.5,1445.0 1199.5,1441.3 1203.4,1441.3 1201.4,1437.6 1203.4,1433.9 1199.5,1433.9" fill="#000"/>
<polygon points="1249.0,1437.6 1242.3,1450.3 1228.8,1450.3 1235.6,1463.0 1228.8,1475.7 1242.3,1475.7 1249.0,1488.4 1255.7,1475.7 1269.2,1475.7 1262.4,1463.0 1269.2,1450.3 1255.7,1450.3" fill="#008000"/><polygon points="1249.0,1455.6 1247.0,1459.3 1243.1,1459.3 1245.1,1463.0 1243.1,1466.7 1247.0,1466.7 1249.0,1470.4 1251.0,1466.7 1254.9,1466.7 1252.9,1463.0 1254.9,1459.3 1251.0,1459.3" fill="#000"/>
<polygon points="1921.2,1440.0 1914.5,1452.7 1901.0,1452.7 1907.8,1465.4 1901.0,1478.1 1914.5,1478.1 1921.2,1490.8 1927.9,1478.1 1941.4,1478.1 1934.6,1465.4 1941.4,1452.7 1927.9,1452.7" fill="#008000"/><polygon points="1921.2,1458.0 1919.2,1461.7 1915.3,1461.7 1917.3,1465.4 1915.3,1469.1 1919.2,1469.1 1921.2,1472.8 1923.2,1469.1 1927.1,1469.1 1925.1,1465.4 1927.1,1461.7 1923.2,1461.7" fill="#000"/>
<circle cx="1445.0" cy="105.8" r="20.5" fill="#FF0000"/>
<circle cx="647.5" cy="1421.4" r="20.5" fill="#FF0000"/>
<text transform="translate(349.5,120.0) scale(1,1.055)" font-size="74.6" fill="#0000FF"><tspan dy="0">Sr</tspan><tspan font-size="43" dy="21">3</tspan><tspan dy="-21">MgSi</tspan><tspan font-size="43" dy="21">2</tspan><tspan dy="-21">O</tspan><tspan font-size="43" dy="21">8</tspan></text>
<text transform="translate(920.0,120.0) scale(1,1.055)" font-size="74.6" fill="#008000"><tspan dy="0">Sr</tspan><tspan font-size="43" dy="21">2</tspan><tspan dy="-21">MgSi</tspan><tspan font-size="43" dy="21">2</tspan><tspan dy="-21">O</tspan><tspan font-size="43" dy="21">7</tspan></text>
<text transform="translate(1500.0,120.0) scale(1,1.055)" font-size="74.6" fill="#FF0000"><tspan dy="0">Sr</tspan><tspan font-size="43" dy="21">2</tspan><tspan dy="-21">SiO</tspan><tspan font-size="43" dy="21">4</tspan></text>
</svg></body></html>
